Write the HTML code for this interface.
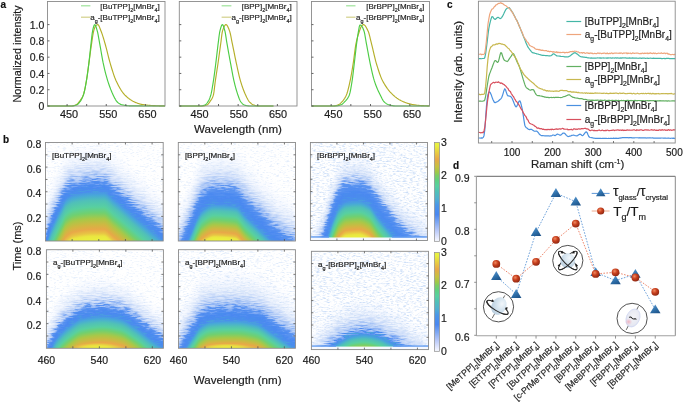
<!DOCTYPE html><html><head><meta charset="utf-8"><style>html,body{margin:0;padding:0;background:#fff;overflow:hidden}svg{display:block;will-change:transform}</style></head><body>
<svg width="685" height="402" viewBox="0 0 685 402" font-family="'Liberation Sans', sans-serif"><style>text{stroke:#1a1a1a;stroke-width:0.18px;paint-order:stroke}</style>
<rect width="685" height="402" fill="#fff"/>
<text x="0.5" y="7.5" font-size="10" font-weight="bold" fill="#111">a</text>
<text x="3.1" y="143" font-size="10" font-weight="bold" fill="#111">b</text>
<text x="447" y="8" font-size="10" font-weight="bold" fill="#111">c</text>
<text x="453" y="168.5" font-size="10" font-weight="bold" fill="#111">d</text>
<path d="M47.5 106 L47.99 106 L48.48 106 L48.97 106 L49.47 106 L49.96 106 L50.45 106 L50.94 106 L51.43 106 L51.92 106 L52.42 106 L52.91 106 L53.4 106 L53.89 106 L54.38 106 L54.87 106 L55.37 106 L55.86 106 L56.35 106 L56.84 106 L57.33 106 L57.82 106 L58.32 106 L58.81 106 L59.3 106 L59.79 106 L60.28 106 L60.77 106 L61.27 106 L61.76 106 L62.25 106 L62.74 106 L63.23 106 L63.72 106 L64.22 106 L64.71 106 L65.2 106 L65.69 106 L66.18 106 L66.67 106 L67.17 106 L67.66 106 L68.15 106 L68.64 106 L69.13 106 L69.62 106 L70.12 106 L70.61 106 L71.1 106 L71.59 105.98 L72.08 105.93 L72.57 105.86 L73.06 105.76 L73.56 105.64 L74.05 105.5 L74.54 105.35 L75.03 105.18 L75.52 105 L76.01 104.81 L76.51 104.57 L77 104.23 L77.49 103.79 L77.98 103.27 L78.47 102.7 L78.96 102.08 L79.46 101.44 L79.95 100.79 L80.44 100.13 L80.93 99.44 L81.42 98.68 L81.91 97.85 L82.41 96.92 L82.9 95.87 L83.39 94.67 L83.88 93.18 L84.37 91.26 L84.86 89.01 L85.36 86.5 L85.85 83.83 L86.34 81.07 L86.83 78.1 L87.32 74.75 L87.81 71.15 L88.31 67.48 L88.8 63.89 L89.29 60.31 L89.78 56.65 L90.27 52.97 L90.76 49.35 L91.26 45.86 L91.75 42.56 L92.24 39.23 L92.73 35.96 L93.22 33.08 L93.71 30.9 L94.21 29.19 L94.7 27.7 L95.19 26.54 L95.68 25.82 L96.17 25.37 L96.66 25 L97.15 24.74 L97.65 24.61 L98.14 24.73 L98.63 25.3 L99.12 26.22 L99.61 27.38 L100.1 28.68 L100.6 30 L101.09 31.24 L101.58 32.51 L102.07 33.89 L102.56 35.36 L103.05 36.91 L103.55 38.51 L104.04 40.15 L104.53 41.81 L105.02 43.48 L105.51 45.23 L106 47.07 L106.5 48.97 L106.99 50.92 L107.48 52.9 L107.97 54.87 L108.46 56.84 L108.95 58.76 L109.45 60.62 L109.94 62.41 L110.43 64.09 L110.92 65.72 L111.41 67.34 L111.9 68.96 L112.4 70.54 L112.89 72.1 L113.38 73.61 L113.87 75.07 L114.36 76.47 L114.85 77.8 L115.35 79.05 L115.84 80.22 L116.33 81.29 L116.82 82.31 L117.31 83.31 L117.8 84.28 L118.29 85.23 L118.79 86.15 L119.28 87.04 L119.77 87.91 L120.26 88.74 L120.75 89.55 L121.24 90.32 L121.74 91.06 L122.23 91.77 L122.72 92.44 L123.21 93.09 L123.7 93.69 L124.19 94.26 L124.69 94.8 L125.18 95.3 L125.67 95.78 L126.16 96.25 L126.65 96.7 L127.14 97.13 L127.64 97.55 L128.13 97.96 L128.62 98.35 L129.11 98.72 L129.6 99.08 L130.09 99.43 L130.59 99.76 L131.08 100.08 L131.57 100.38 L132.06 100.67 L132.55 100.95 L133.04 101.21 L133.54 101.46 L134.03 101.7 L134.52 101.93 L135.01 102.16 L135.5 102.39 L135.99 102.6 L136.49 102.82 L136.98 103.02 L137.47 103.21 L137.96 103.4 L138.45 103.57 L138.94 103.74 L139.44 103.89 L139.93 104.03 L140.42 104.15 L140.91 104.26 L141.4 104.36 L141.89 104.44 L142.38 104.52 L142.88 104.59 L143.37 104.67 L143.86 104.74 L144.35 104.8 L144.84 104.87 L145.33 104.93 L145.83 104.99 L146.32 105.05 L146.81 105.1 L147.3 105.16 L147.79 105.21 L148.28 105.25 L148.78 105.3 L149.27 105.34 L149.76 105.38 L150.25 105.42 L150.74 105.45 L151.23 105.49 L151.73 105.52 L152.22 105.54 L152.71 105.57 L153.2 105.59 L153.69 105.61 L154.18 105.63 L154.68 105.65 L155.17 105.67 L155.66 105.7 L156.15 105.71 L156.64 105.73 L157.13 105.75 L157.63 105.77 L158.12 105.79 L158.61 105.8 L159.1 105.82 L159.59 105.83 L160.08 105.85 L160.58 105.86 L161.07 105.87 L161.56 105.88 L162.05 105.89 L162.54 105.9 L163.03 105.91 L163.53 105.91 L164.02 105.92 L164.51 105.92 L165 105.92" fill="none" stroke="#b4ae28" stroke-width="1.15" stroke-linejoin="round" />
<path d="M47.5 106 L47.99 106 L48.48 106 L48.97 106 L49.47 106 L49.96 106 L50.45 106 L50.94 106 L51.43 106 L51.92 106 L52.42 106 L52.91 106 L53.4 106 L53.89 106 L54.38 106 L54.87 106 L55.37 106 L55.86 106 L56.35 106 L56.84 106 L57.33 106 L57.82 106 L58.32 106 L58.81 106 L59.3 106 L59.79 106 L60.28 106 L60.77 106 L61.27 106 L61.76 106 L62.25 106 L62.74 106 L63.23 106 L63.72 106 L64.22 106 L64.71 106 L65.2 106 L65.69 106 L66.18 106 L66.67 106 L67.17 106 L67.66 106 L68.15 106 L68.64 106 L69.13 106 L69.62 106 L70.12 106 L70.61 106 L71.1 106 L71.59 106 L72.08 105.99 L72.57 105.96 L73.06 105.9 L73.56 105.82 L74.05 105.72 L74.54 105.59 L75.03 105.45 L75.52 105.29 L76.01 105.11 L76.51 104.93 L77 104.73 L77.49 104.44 L77.98 104.04 L78.47 103.56 L78.96 103 L79.46 102.39 L79.95 101.74 L80.44 101.06 L80.93 100.33 L81.42 99.52 L81.91 98.6 L82.41 97.56 L82.9 96.39 L83.39 95.09 L83.88 93.5 L84.37 91.55 L84.86 89.28 L85.36 86.77 L85.85 84.09 L86.34 81.32 L86.83 78.36 L87.32 75.07 L87.81 71.52 L88.31 67.76 L88.8 63.87 L89.29 59.68 L89.78 55.13 L90.27 50.46 L90.76 45.89 L91.26 41.57 L91.75 37.08 L92.24 33.04 L92.73 30.35 L93.22 28.21 L93.71 26.37 L94.21 25.08 L94.7 24.6 L95.19 24.95 L95.68 25.9 L96.17 27.27 L96.66 28.89 L97.15 30.6 L97.65 32.45 L98.14 34.83 L98.63 37.54 L99.12 40.38 L99.61 43.11 L100.1 45.81 L100.6 48.63 L101.09 51.5 L101.58 54.37 L102.07 57.18 L102.56 59.87 L103.05 62.4 L103.55 64.7 L104.04 66.9 L104.53 69.01 L105.02 71.06 L105.51 73.02 L106 74.9 L106.5 76.71 L106.99 78.43 L107.48 80.06 L107.97 81.61 L108.46 83.11 L108.95 84.55 L109.45 85.95 L109.94 87.31 L110.43 88.61 L110.92 89.87 L111.41 91.07 L111.9 92.23 L112.4 93.34 L112.89 94.4 L113.38 95.41 L113.87 96.42 L114.36 97.43 L114.85 98.39 L115.35 99.31 L115.84 100.15 L116.33 100.89 L116.82 101.52 L117.31 102.02 L117.8 102.44 L118.29 102.85 L118.79 103.22 L119.28 103.56 L119.77 103.87 L120.26 104.15 L120.75 104.38 L121.24 104.58 L121.74 104.73 L122.23 104.85 L122.72 104.96 L123.21 105.06 L123.7 105.16 L124.19 105.26 L124.69 105.35 L125.18 105.43 L125.67 105.5 L126.16 105.57 L126.65 105.63 L127.14 105.69 L127.64 105.73 L128.13 105.77 L128.62 105.8 L129.11 105.82 L129.6 105.84 L130.09 105.84 L130.59 105.85 L131.08 105.85 L131.57 105.86 L132.06 105.86 L132.55 105.87 L133.04 105.87 L133.54 105.88 L134.03 105.88 L134.52 105.89 L135.01 105.89 L135.5 105.89 L135.99 105.9 L136.49 105.9 L136.98 105.91 L137.47 105.91 L137.96 105.91 L138.45 105.92 L138.94 105.92 L139.44 105.92 L139.93 105.93 L140.42 105.93 L140.91 105.93 L141.4 105.94 L141.89 105.94 L142.38 105.94 L142.88 105.95 L143.37 105.95 L143.86 105.95 L144.35 105.95 L144.84 105.96 L145.33 105.96 L145.83 105.96 L146.32 105.96 L146.81 105.97 L147.3 105.97 L147.79 105.97 L148.28 105.97 L148.78 105.97 L149.27 105.97 L149.76 105.98 L150.25 105.98 L150.74 105.98 L151.23 105.98 L151.73 105.98 L152.22 105.98 L152.71 105.99 L153.2 105.99 L153.69 105.99 L154.18 105.99 L154.68 105.99 L155.17 105.99 L155.66 105.99 L156.15 105.99 L156.64 105.99 L157.13 105.99 L157.63 106 L158.12 106 L158.61 106 L159.1 106 L159.59 106 L160.08 106 L160.58 106 L161.07 106 L161.56 106 L162.05 106 L162.54 106 L163.03 106 L163.53 106 L164.02 106 L164.51 106 L165 106" fill="none" stroke="#4ccc44" stroke-width="1.15" stroke-linejoin="round" />
<rect x="47.5" y="1.5" width="117.5" height="104.5" fill="none" stroke="#8a8a8a" stroke-width="0.9"/>
<line x1="47.5" y1="106" x2="49.5" y2="106" stroke="#555" stroke-width="0.9"/>
<line x1="47.5" y1="89.72" x2="49.5" y2="89.72" stroke="#555" stroke-width="0.9"/>
<line x1="47.5" y1="73.44" x2="49.5" y2="73.44" stroke="#555" stroke-width="0.9"/>
<line x1="47.5" y1="57.16" x2="49.5" y2="57.16" stroke="#555" stroke-width="0.9"/>
<line x1="47.5" y1="40.88" x2="49.5" y2="40.88" stroke="#555" stroke-width="0.9"/>
<line x1="47.5" y1="24.6" x2="49.5" y2="24.6" stroke="#555" stroke-width="0.9"/>
<line x1="67.08" y1="106" x2="67.08" y2="104" stroke="#555" stroke-width="0.9"/>
<line x1="86.67" y1="106" x2="86.67" y2="104" stroke="#555" stroke-width="0.9"/>
<line x1="106.25" y1="106" x2="106.25" y2="104" stroke="#555" stroke-width="0.9"/>
<line x1="125.83" y1="106" x2="125.83" y2="104" stroke="#555" stroke-width="0.9"/>
<line x1="145.42" y1="106" x2="145.42" y2="104" stroke="#555" stroke-width="0.9"/>
<text x="69.08" y="117.6" font-size="10.9" text-anchor="middle" fill="#1a1a1a">450</text>
<text x="108.25" y="117.6" font-size="10.9" text-anchor="middle" fill="#1a1a1a">550</text>
<text x="147.42" y="117.6" font-size="10.9" text-anchor="middle" fill="#1a1a1a">650</text>
<text x="159.8" y="9.3" font-size="8" text-anchor="end" fill="#222" ><tspan>[BuTPP]</tspan><tspan dy="2.72" font-size="5.44">2</tspan><tspan dy="-2.72">[MnBr</tspan><tspan dy="2.72" font-size="5.44">4</tspan><tspan dy="-2.72">]</tspan></text>
<text x="159.8" y="20.3" font-size="8" text-anchor="end" fill="#222" ><tspan>a</tspan><tspan dy="2.72" font-size="5.44">g</tspan><tspan dy="-2.72">-[BuTPP]</tspan><tspan dy="2.72" font-size="5.44">2</tspan><tspan dy="-2.72">[MnBr</tspan><tspan dy="2.72" font-size="5.44">4</tspan><tspan dy="-2.72">]</tspan></text>
<path d="M179.3 106 L179.69 106 L180.09 106 L180.48 106 L180.88 106 L181.27 106 L181.66 106 L182.06 106 L182.45 106 L182.85 106 L183.24 106 L183.63 106 L184.03 106 L184.42 106 L184.82 106 L185.21 106 L185.6 106 L186 106 L186.39 106 L186.79 106 L187.18 106 L187.57 106 L187.97 106 L188.36 106 L188.76 106 L189.15 106 L189.54 106 L189.94 106 L190.33 106 L190.73 106 L191.12 106 L191.51 106 L191.91 106 L192.3 106 L192.7 106 L193.09 106 L193.48 106 L193.88 106 L194.27 106 L194.67 106 L195.06 106 L195.45 106 L195.85 106 L196.24 106 L196.63 106 L197.03 106 L197.42 106 L197.82 106 L198.21 106 L198.6 106 L199 106 L199.39 106 L199.79 106 L200.18 106 L200.57 106 L200.97 106 L201.36 106 L201.76 106 L202.15 106 L202.54 106 L202.94 106 L203.33 105.98 L203.73 105.93 L204.12 105.87 L204.51 105.78 L204.91 105.67 L205.3 105.55 L205.7 105.4 L206.09 105.25 L206.48 105.08 L206.88 104.91 L207.27 104.72 L207.67 104.45 L208.06 104.1 L208.45 103.67 L208.85 103.18 L209.24 102.65 L209.64 102.08 L210.03 101.51 L210.42 100.93 L210.82 100.36 L211.21 99.78 L211.61 99.16 L212 98.47 L212.39 97.68 L212.79 96.75 L213.18 95.67 L213.58 94.28 L213.97 91.91 L214.36 88.82 L214.76 85.44 L215.15 82.21 L215.55 79.44 L215.94 76.82 L216.33 74.27 L216.73 71.74 L217.12 69.21 L217.52 66.63 L217.91 63.97 L218.3 61.22 L218.7 58.41 L219.09 55.54 L219.49 52.66 L219.88 49.76 L220.27 46.87 L220.67 44.01 L221.06 41.07 L221.46 37.79 L221.85 34.63 L222.24 32.1 L222.64 30.59 L223.03 29.42 L223.43 28.34 L223.82 27.36 L224.21 26.5 L224.61 25.79 L225 25.22 L225.4 24.83 L225.79 24.63 L226.18 24.63 L226.58 24.85 L226.97 25.26 L227.36 25.84 L227.76 26.56 L228.15 27.4 L228.55 28.32 L228.94 29.31 L229.33 30.34 L229.73 31.4 L230.12 32.79 L230.52 34.5 L230.91 36.43 L231.3 38.49 L231.7 40.56 L232.09 42.55 L232.49 44.43 L232.88 46.34 L233.27 48.28 L233.67 50.23 L234.06 52.2 L234.46 54.16 L234.85 56.12 L235.24 58.05 L235.64 59.96 L236.03 61.83 L236.43 63.65 L236.82 65.45 L237.21 67.25 L237.61 69.06 L238 70.85 L238.4 72.62 L238.79 74.34 L239.18 76.01 L239.58 77.61 L239.97 79.12 L240.37 80.54 L240.76 81.86 L241.15 83.15 L241.55 84.39 L241.94 85.6 L242.34 86.77 L242.73 87.9 L243.12 88.99 L243.52 90.05 L243.91 91.06 L244.31 92.05 L244.7 92.99 L245.09 93.89 L245.49 94.76 L245.88 95.6 L246.28 96.43 L246.67 97.25 L247.06 98.05 L247.46 98.81 L247.85 99.53 L248.25 100.2 L248.64 100.81 L249.03 101.36 L249.43 101.82 L249.82 102.23 L250.22 102.61 L250.61 102.97 L251 103.32 L251.4 103.64 L251.79 103.93 L252.19 104.2 L252.58 104.45 L252.97 104.66 L253.37 104.84 L253.76 105 L254.16 105.12 L254.55 105.25 L254.94 105.37 L255.34 105.48 L255.73 105.59 L256.13 105.69 L256.52 105.77 L256.91 105.85 L257.31 105.91 L257.7 105.96 L258.09 105.99 L258.49 106 L258.88 106 L259.28 106 L259.67 106 L260.06 106 L260.46 106 L260.85 106 L261.25 106 L261.64 106 L262.03 106 L262.43 106 L262.82 106 L263.22 106 L263.61 106 L264 106 L264.4 106 L264.79 106 L265.19 106 L265.58 106 L265.97 106 L266.37 106 L266.76 106 L267.16 106 L267.55 106 L267.94 106 L268.34 106 L268.73 106 L269.13 106 L269.52 106 L269.91 106 L270.31 106 L270.7 106 L271.1 106 L271.49 106 L271.88 106 L272.28 106 L272.67 106 L273.07 106 L273.46 106" fill="none" stroke="#b4ae28" stroke-width="1.15" stroke-linejoin="round" />
<path d="M179.3 106 L179.69 106 L180.09 106 L180.48 106 L180.88 106 L181.27 106 L181.66 106 L182.06 106 L182.45 106 L182.85 106 L183.24 106 L183.63 106 L184.03 106 L184.42 106 L184.82 106 L185.21 106 L185.6 106 L186 106 L186.39 106 L186.79 106 L187.18 106 L187.57 106 L187.97 106 L188.36 106 L188.76 106 L189.15 106 L189.54 106 L189.94 106 L190.33 106 L190.73 106 L191.12 106 L191.51 106 L191.91 106 L192.3 106 L192.7 106 L193.09 106 L193.48 106 L193.88 106 L194.27 106 L194.67 106 L195.06 106 L195.45 106 L195.85 106 L196.24 106 L196.63 106 L197.03 106 L197.42 106 L197.82 106 L198.21 106 L198.6 106 L199 106 L199.39 106 L199.79 106 L200.18 106 L200.57 106 L200.97 106 L201.36 105.98 L201.76 105.94 L202.15 105.87 L202.54 105.78 L202.94 105.67 L203.33 105.55 L203.73 105.41 L204.12 105.25 L204.51 105.09 L204.91 104.91 L205.3 104.72 L205.7 104.47 L206.09 104.13 L206.48 103.72 L206.88 103.25 L207.27 102.72 L207.67 102.15 L208.06 101.55 L208.45 100.92 L208.85 100.2 L209.24 99.38 L209.64 98.44 L210.03 97.4 L210.42 96.24 L210.82 94.96 L211.21 93.44 L211.61 91.6 L212 89.5 L212.39 87.21 L212.79 84.81 L213.18 82.34 L213.58 79.85 L213.97 77.18 L214.36 74.35 L214.76 71.39 L215.15 68.35 L215.55 65.27 L215.94 62.15 L216.33 58.88 L216.73 55.49 L217.12 52.07 L217.52 48.7 L217.91 45.43 L218.3 42.35 L218.7 39.16 L219.09 36.01 L219.49 33.22 L219.88 31.14 L220.27 29.6 L220.67 28.15 L221.06 26.85 L221.46 25.77 L221.85 25.01 L222.24 24.63 L222.64 24.7 L223.03 25.22 L223.43 26.09 L223.82 27.24 L224.21 28.57 L224.61 30 L225 31.47 L225.4 33.42 L225.79 35.82 L226.18 38.45 L226.58 41.08 L226.97 43.46 L227.36 45.72 L227.76 47.95 L228.15 50.16 L228.55 52.35 L228.94 54.52 L229.33 56.67 L229.73 58.81 L230.12 60.93 L230.52 63.04 L230.91 65.15 L231.3 67.29 L231.7 69.45 L232.09 71.6 L232.49 73.71 L232.88 75.77 L233.27 77.73 L233.67 79.59 L234.06 81.31 L234.46 82.95 L234.85 84.54 L235.24 86.09 L235.64 87.58 L236.03 89.01 L236.43 90.39 L236.82 91.7 L237.21 92.95 L237.61 94.14 L238 95.26 L238.4 96.35 L238.79 97.43 L239.18 98.47 L239.58 99.45 L239.97 100.33 L240.37 101.11 L240.76 101.74 L241.15 102.26 L241.55 102.73 L241.94 103.18 L242.34 103.6 L242.73 103.97 L243.12 104.3 L243.52 104.58 L243.91 104.81 L244.31 104.98 L244.7 105.11 L245.09 105.22 L245.49 105.33 L245.88 105.44 L246.28 105.53 L246.67 105.62 L247.06 105.7 L247.46 105.78 L247.85 105.84 L248.25 105.89 L248.64 105.94 L249.03 105.97 L249.43 105.99 L249.82 106 L250.22 106 L250.61 106 L251 106 L251.4 106 L251.79 106 L252.19 106 L252.58 106 L252.97 106 L253.37 106 L253.76 106 L254.16 106 L254.55 106 L254.94 106 L255.34 106 L255.73 106 L256.13 106 L256.52 106 L256.91 106 L257.31 106 L257.7 106 L258.09 106 L258.49 106 L258.88 106 L259.28 106 L259.67 106 L260.06 106 L260.46 106 L260.85 106 L261.25 106 L261.64 106 L262.03 106 L262.43 106 L262.82 106 L263.22 106 L263.61 106 L264 106 L264.4 106 L264.79 106 L265.19 106 L265.58 106 L265.97 106 L266.37 106 L266.76 106 L267.16 106 L267.55 106 L267.94 106 L268.34 106 L268.73 106 L269.13 106 L269.52 106 L269.91 106 L270.31 106 L270.7 106 L271.1 106 L271.49 106 L271.88 106 L272.28 106 L272.67 106 L273.07 106 L273.46 106" fill="none" stroke="#4ccc44" stroke-width="1.15" stroke-linejoin="round" />
<rect x="179.3" y="1.5" width="117.7" height="104.5" fill="none" stroke="#8a8a8a" stroke-width="0.9"/>
<line x1="179.3" y1="106" x2="181.3" y2="106" stroke="#555" stroke-width="0.9"/>
<line x1="179.3" y1="89.72" x2="181.3" y2="89.72" stroke="#555" stroke-width="0.9"/>
<line x1="179.3" y1="73.44" x2="181.3" y2="73.44" stroke="#555" stroke-width="0.9"/>
<line x1="179.3" y1="57.16" x2="181.3" y2="57.16" stroke="#555" stroke-width="0.9"/>
<line x1="179.3" y1="40.88" x2="181.3" y2="40.88" stroke="#555" stroke-width="0.9"/>
<line x1="179.3" y1="24.6" x2="181.3" y2="24.6" stroke="#555" stroke-width="0.9"/>
<line x1="198.92" y1="106" x2="198.92" y2="104" stroke="#555" stroke-width="0.9"/>
<line x1="218.53" y1="106" x2="218.53" y2="104" stroke="#555" stroke-width="0.9"/>
<line x1="238.15" y1="106" x2="238.15" y2="104" stroke="#555" stroke-width="0.9"/>
<line x1="257.77" y1="106" x2="257.77" y2="104" stroke="#555" stroke-width="0.9"/>
<line x1="277.38" y1="106" x2="277.38" y2="104" stroke="#555" stroke-width="0.9"/>
<text x="199.52" y="117.6" font-size="10.9" text-anchor="middle" fill="#1a1a1a">450</text>
<text x="238.75" y="117.6" font-size="10.9" text-anchor="middle" fill="#1a1a1a">550</text>
<text x="277.98" y="117.6" font-size="10.9" text-anchor="middle" fill="#1a1a1a">650</text>
<text x="291.8" y="9.3" font-size="8" text-anchor="end" fill="#222" ><tspan>[BPP]</tspan><tspan dy="2.72" font-size="5.44">2</tspan><tspan dy="-2.72">[MnBr</tspan><tspan dy="2.72" font-size="5.44">4</tspan><tspan dy="-2.72">]</tspan></text>
<text x="291.8" y="20.3" font-size="8" text-anchor="end" fill="#222" ><tspan>a</tspan><tspan dy="2.72" font-size="5.44">g</tspan><tspan dy="-2.72">-[BPP]</tspan><tspan dy="2.72" font-size="5.44">2</tspan><tspan dy="-2.72">[MnBr</tspan><tspan dy="2.72" font-size="5.44">4</tspan><tspan dy="-2.72">]</tspan></text>
<path d="M311.5 106 L311.99 106 L312.49 106 L312.98 106 L313.47 106 L313.97 106 L314.46 106 L314.96 106 L315.45 106 L315.94 106 L316.44 106 L316.93 106 L317.42 106 L317.92 106 L318.41 106 L318.91 106 L319.4 106 L319.89 106 L320.39 106 L320.88 106 L321.37 106 L321.87 106 L322.36 106 L322.86 106 L323.35 106 L323.84 106 L324.34 106 L324.83 106 L325.32 106 L325.82 106 L326.31 106 L326.81 106 L327.3 106 L327.79 106 L328.29 106 L328.78 106 L329.27 106 L329.77 106 L330.26 106 L330.76 106 L331.25 106 L331.74 106 L332.24 106 L332.73 106 L333.22 106 L333.72 105.98 L334.21 105.93 L334.71 105.85 L335.2 105.75 L335.69 105.63 L336.19 105.49 L336.68 105.34 L337.17 105.17 L337.67 104.99 L338.16 104.81 L338.65 104.6 L339.15 104.32 L339.64 103.98 L340.14 103.58 L340.63 103.14 L341.12 102.67 L341.62 102.16 L342.11 101.63 L342.6 101.08 L343.1 100.51 L343.59 99.88 L344.09 99.2 L344.58 98.45 L345.07 97.63 L345.57 96.72 L346.06 95.73 L346.55 94.62 L347.05 93.27 L347.54 91.67 L348.04 89.86 L348.53 87.89 L349.02 85.78 L349.52 83.59 L350.01 81.35 L350.5 79.02 L351 76.48 L351.49 73.76 L351.99 70.9 L352.48 67.93 L352.97 64.88 L353.47 61.66 L353.96 58 L354.45 54.15 L354.95 50.34 L355.44 46.82 L355.94 43.85 L356.43 41.51 L356.92 39.43 L357.42 37.55 L357.91 35.82 L358.4 34.23 L358.9 32.73 L359.39 31.3 L359.88 29.88 L360.38 28.48 L360.87 27.25 L361.37 26.34 L361.86 25.73 L362.35 25.19 L362.85 24.79 L363.34 24.6 L363.83 24.67 L364.33 24.94 L364.82 25.38 L365.32 25.97 L365.81 26.68 L366.3 27.51 L366.8 28.41 L367.29 29.38 L367.78 30.38 L368.28 31.43 L368.77 32.81 L369.27 34.53 L369.76 36.48 L370.25 38.55 L370.75 40.65 L371.24 42.66 L371.73 44.61 L372.23 46.63 L372.72 48.71 L373.22 50.82 L373.71 52.95 L374.2 55.06 L374.7 57.13 L375.19 59.13 L375.68 61.04 L376.18 62.84 L376.67 64.5 L377.17 66.12 L377.66 67.7 L378.15 69.26 L378.65 70.79 L379.14 72.26 L379.63 73.69 L380.13 75.06 L380.62 76.37 L381.12 77.61 L381.61 78.77 L382.1 79.84 L382.6 80.83 L383.09 81.74 L383.58 82.62 L384.08 83.48 L384.57 84.31 L385.06 85.11 L385.56 85.89 L386.05 86.64 L386.55 87.37 L387.04 88.08 L387.53 88.76 L388.03 89.42 L388.52 90.06 L389.01 90.67 L389.51 91.26 L390 91.84 L390.5 92.39 L390.99 92.92 L391.48 93.44 L391.98 93.94 L392.47 94.41 L392.96 94.87 L393.46 95.32 L393.95 95.75 L394.45 96.17 L394.94 96.59 L395.43 96.99 L395.93 97.38 L396.42 97.75 L396.91 98.12 L397.41 98.47 L397.9 98.81 L398.4 99.14 L398.89 99.46 L399.38 99.76 L399.88 100.05 L400.37 100.32 L400.86 100.58 L401.36 100.83 L401.85 101.06 L402.35 101.29 L402.84 101.5 L403.33 101.71 L403.83 101.92 L404.32 102.12 L404.81 102.32 L405.31 102.51 L405.8 102.69 L406.29 102.87 L406.79 103.04 L407.28 103.21 L407.78 103.37 L408.27 103.52 L408.76 103.66 L409.26 103.8 L409.75 103.93 L410.24 104.05 L410.74 104.16 L411.23 104.26 L411.73 104.36 L412.22 104.45 L412.71 104.53 L413.21 104.62 L413.7 104.7 L414.19 104.78 L414.69 104.86 L415.18 104.93 L415.68 105 L416.17 105.07 L416.66 105.14 L417.16 105.2 L417.65 105.26 L418.14 105.31 L418.64 105.37 L419.13 105.41 L419.63 105.46 L420.12 105.5 L420.61 105.53 L421.11 105.56 L421.6 105.59 L422.09 105.62 L422.59 105.64 L423.08 105.66 L423.58 105.68 L424.07 105.71 L424.56 105.73 L425.06 105.74 L425.55 105.76 L426.04 105.78 L426.54 105.79 L427.03 105.81 L427.53 105.82 L428.02 105.83 L428.51 105.83 L429.01 105.84 L429.5 105.84" fill="none" stroke="#b4ae28" stroke-width="1.15" stroke-linejoin="round" />
<path d="M311.5 106 L311.99 106 L312.49 106 L312.98 106 L313.47 106 L313.97 106 L314.46 106 L314.96 106 L315.45 106 L315.94 106 L316.44 106 L316.93 106 L317.42 106 L317.92 106 L318.41 106 L318.91 106 L319.4 106 L319.89 106 L320.39 106 L320.88 106 L321.37 106 L321.87 106 L322.36 106 L322.86 106 L323.35 106 L323.84 106 L324.34 106 L324.83 106 L325.32 106 L325.82 106 L326.31 106 L326.81 106 L327.3 106 L327.79 106 L328.29 106 L328.78 106 L329.27 106 L329.77 106 L330.26 106 L330.76 106 L331.25 106 L331.74 106 L332.24 106 L332.73 106 L333.22 106 L333.72 106 L334.21 106 L334.71 106 L335.2 106 L335.69 105.98 L336.19 105.95 L336.68 105.89 L337.17 105.82 L337.67 105.72 L338.16 105.62 L338.65 105.5 L339.15 105.36 L339.64 105.22 L340.14 105.07 L340.63 104.9 L341.12 104.73 L341.62 104.5 L342.11 104.2 L342.6 103.83 L343.1 103.41 L343.59 102.95 L344.09 102.45 L344.58 101.93 L345.07 101.39 L345.57 100.85 L346.06 100.3 L346.55 99.72 L347.05 99.09 L347.54 98.39 L348.04 97.6 L348.53 96.69 L349.02 95.66 L349.52 94.42 L350.01 92.63 L350.5 90.34 L351 87.66 L351.49 84.73 L351.99 81.68 L352.48 78.38 L352.97 74.54 L353.47 70.37 L353.96 66.14 L354.45 62.01 L354.95 57.72 L355.44 53.35 L355.94 49.07 L356.43 45.02 L356.92 41.32 L357.42 37.78 L357.91 34.48 L358.4 31.56 L358.9 28.78 L359.39 26.16 L359.88 25.01 L360.38 25.1 L360.87 25.32 L361.37 25.63 L361.86 26.2 L362.35 27.02 L362.85 28.03 L363.34 29.22 L363.83 30.54 L364.33 32.14 L364.82 34.48 L365.32 37.31 L365.81 40.28 L366.3 43.06 L366.8 45.68 L367.29 48.34 L367.78 51.02 L368.28 53.7 L368.77 56.33 L369.27 58.91 L369.76 61.39 L370.25 63.76 L370.75 66.06 L371.24 68.34 L371.73 70.58 L372.23 72.77 L372.72 74.87 L373.22 76.86 L373.71 78.71 L374.2 80.4 L374.7 81.93 L375.19 83.38 L375.68 84.75 L376.18 86.06 L376.67 87.3 L377.17 88.5 L377.66 89.64 L378.15 90.74 L378.65 91.81 L379.14 92.84 L379.63 93.85 L380.13 94.84 L380.62 95.82 L381.12 96.82 L381.61 97.8 L382.1 98.75 L382.6 99.65 L383.09 100.46 L383.58 101.17 L384.08 101.75 L384.57 102.2 L385.06 102.62 L385.56 103.02 L386.05 103.39 L386.55 103.73 L387.04 104.03 L387.53 104.31 L388.03 104.55 L388.52 104.76 L389.01 104.92 L389.51 105.05 L390 105.17 L390.5 105.28 L390.99 105.39 L391.48 105.49 L391.98 105.59 L392.47 105.67 L392.96 105.75 L393.46 105.82 L393.95 105.88 L394.45 105.93 L394.94 105.96 L395.43 105.99 L395.93 106 L396.42 106 L396.91 106 L397.41 106 L397.9 106 L398.4 106 L398.89 106 L399.38 106 L399.88 106 L400.37 106 L400.86 106 L401.36 106 L401.85 106 L402.35 106 L402.84 106 L403.33 106 L403.83 106 L404.32 106 L404.81 106 L405.31 106 L405.8 106 L406.29 106 L406.79 106 L407.28 106 L407.78 106 L408.27 106 L408.76 106 L409.26 106 L409.75 106 L410.24 106 L410.74 106 L411.23 106 L411.73 106 L412.22 106 L412.71 106 L413.21 106 L413.7 106 L414.19 106 L414.69 106 L415.18 106 L415.68 106 L416.17 106 L416.66 106 L417.16 106 L417.65 106 L418.14 106 L418.64 106 L419.13 106 L419.63 106 L420.12 106 L420.61 106 L421.11 106 L421.6 106 L422.09 106 L422.59 106 L423.08 106 L423.58 106 L424.07 106 L424.56 106 L425.06 106 L425.55 106 L426.04 106 L426.54 106 L427.03 106 L427.53 106 L428.02 106 L428.51 106 L429.01 106 L429.5 106" fill="none" stroke="#4ccc44" stroke-width="1.15" stroke-linejoin="round" />
<rect x="311.5" y="1.5" width="118" height="104.5" fill="none" stroke="#8a8a8a" stroke-width="0.9"/>
<line x1="311.5" y1="106" x2="313.5" y2="106" stroke="#555" stroke-width="0.9"/>
<line x1="311.5" y1="89.72" x2="313.5" y2="89.72" stroke="#555" stroke-width="0.9"/>
<line x1="311.5" y1="73.44" x2="313.5" y2="73.44" stroke="#555" stroke-width="0.9"/>
<line x1="311.5" y1="57.16" x2="313.5" y2="57.16" stroke="#555" stroke-width="0.9"/>
<line x1="311.5" y1="40.88" x2="313.5" y2="40.88" stroke="#555" stroke-width="0.9"/>
<line x1="311.5" y1="24.6" x2="313.5" y2="24.6" stroke="#555" stroke-width="0.9"/>
<line x1="331.17" y1="106" x2="331.17" y2="104" stroke="#555" stroke-width="0.9"/>
<line x1="350.83" y1="106" x2="350.83" y2="104" stroke="#555" stroke-width="0.9"/>
<line x1="370.5" y1="106" x2="370.5" y2="104" stroke="#555" stroke-width="0.9"/>
<line x1="390.17" y1="106" x2="390.17" y2="104" stroke="#555" stroke-width="0.9"/>
<line x1="409.83" y1="106" x2="409.83" y2="104" stroke="#555" stroke-width="0.9"/>
<text x="333.37" y="117.6" font-size="10.9" text-anchor="middle" fill="#1a1a1a">450</text>
<text x="372.7" y="117.6" font-size="10.9" text-anchor="middle" fill="#1a1a1a">550</text>
<text x="412.03" y="117.6" font-size="10.9" text-anchor="middle" fill="#1a1a1a">650</text>
<text x="424.3" y="9.3" font-size="8" text-anchor="end" fill="#222" ><tspan>[BrBPP]</tspan><tspan dy="2.72" font-size="5.44">2</tspan><tspan dy="-2.72">[MnBr</tspan><tspan dy="2.72" font-size="5.44">4</tspan><tspan dy="-2.72">]</tspan></text>
<text x="424.3" y="20.3" font-size="8" text-anchor="end" fill="#222" ><tspan>a</tspan><tspan dy="2.72" font-size="5.44">g</tspan><tspan dy="-2.72">-[BrBPP]</tspan><tspan dy="2.72" font-size="5.44">2</tspan><tspan dy="-2.72">[MnBr</tspan><tspan dy="2.72" font-size="5.44">4</tspan><tspan dy="-2.72">]</tspan></text>
<line x1="81" y1="5.8" x2="90.4" y2="5.8" stroke="#9ee29a" stroke-width="1.2"/>
<line x1="81" y1="17.2" x2="90.4" y2="17.2" stroke="#d2d08a" stroke-width="1.2"/>
<line x1="221.6" y1="5.8" x2="231.4" y2="5.8" stroke="#9ee29a" stroke-width="1.2"/>
<line x1="221.6" y1="17.2" x2="231.4" y2="17.2" stroke="#d2d08a" stroke-width="1.2"/>
<line x1="346.1" y1="5.8" x2="355.5" y2="5.8" stroke="#9ee29a" stroke-width="1.2"/>
<line x1="346.1" y1="17.2" x2="355.5" y2="17.2" stroke="#d2d08a" stroke-width="1.2"/>
<text x="44.3" y="110.2" font-size="10.5" text-anchor="end" fill="#1a1a1a">0</text>
<text x="44.3" y="93.92" font-size="10.5" text-anchor="end" fill="#1a1a1a">0.2</text>
<text x="44.3" y="77.64" font-size="10.5" text-anchor="end" fill="#1a1a1a">0.4</text>
<text x="44.3" y="61.36" font-size="10.5" text-anchor="end" fill="#1a1a1a">0.6</text>
<text x="44.3" y="45.08" font-size="10.5" text-anchor="end" fill="#1a1a1a">0.8</text>
<text x="44.3" y="28.8" font-size="10.5" text-anchor="end" fill="#1a1a1a">1.0</text>
<text transform="translate(20.6,54) rotate(-90)" font-size="10.8" text-anchor="middle" fill="#1a1a1a">Normalized intensity</text>
<text x="238" y="132.5" font-size="11.6" text-anchor="middle" fill="#1a1a1a">Wavelength (nm)</text>
<defs>
<linearGradient id="cm0" gradientUnits="userSpaceOnUse" x1="0" y1="213.45" x2="0" y2="310.69"><stop offset="0" stop-color="#ffffff"/><stop offset="0.12" stop-color="#f6f9ff"/><stop offset="0.21" stop-color="#e6eefc"/><stop offset="0.27" stop-color="#d2e0fa"/><stop offset="0.33" stop-color="#b0caf6"/><stop offset="0.37" stop-color="#86aef4"/><stop offset="0.4" stop-color="#5a94f0"/><stop offset="0.44" stop-color="#4a88f0"/><stop offset="0.49" stop-color="#4a90ea"/><stop offset="0.53" stop-color="#48a8d8"/><stop offset="0.58" stop-color="#50c0b8"/><stop offset="0.65" stop-color="#58d0a0"/><stop offset="0.71" stop-color="#70d070"/><stop offset="0.77" stop-color="#a8c848"/><stop offset="0.83" stop-color="#cfb842"/><stop offset="0.88" stop-color="#e8a848"/><stop offset="0.92" stop-color="#e8c444"/><stop offset="0.95" stop-color="#eae640"/><stop offset="1" stop-color="#eaf23e"/></linearGradient>
<clipPath id="hc0"><rect x="45.5" y="142.5" width="117.7" height="98.5"/></clipPath>
<linearGradient id="cm1" gradientUnits="userSpaceOnUse" x1="0" y1="198.71" x2="0" y2="292.3"><stop offset="0" stop-color="#ffffff"/><stop offset="0.13" stop-color="#f6f9ff"/><stop offset="0.24" stop-color="#e6eefc"/><stop offset="0.3" stop-color="#d2e0fa"/><stop offset="0.37" stop-color="#b0caf6"/><stop offset="0.42" stop-color="#86aef4"/><stop offset="0.45" stop-color="#5a94f0"/><stop offset="0.53" stop-color="#4a88f0"/><stop offset="0.61" stop-color="#4a90ea"/><stop offset="0.64" stop-color="#48a8d8"/><stop offset="0.68" stop-color="#50c0b8"/><stop offset="0.73" stop-color="#58d0a0"/><stop offset="0.78" stop-color="#70d070"/><stop offset="0.83" stop-color="#a8c848"/><stop offset="0.87" stop-color="#cfb842"/><stop offset="0.91" stop-color="#e8a848"/><stop offset="0.94" stop-color="#e8c444"/><stop offset="0.96" stop-color="#eae640"/><stop offset="1" stop-color="#eaf23e"/></linearGradient>
<clipPath id="hc1"><rect x="178.3" y="142.5" width="117.2" height="98.5"/></clipPath>
<linearGradient id="cm2" gradientUnits="userSpaceOnUse" x1="0" y1="207.2" x2="0" y2="293"><stop offset="0" stop-color="#ffffff"/><stop offset="0.11" stop-color="#f6f9ff"/><stop offset="0.2" stop-color="#e6eefc"/><stop offset="0.26" stop-color="#d2e0fa"/><stop offset="0.31" stop-color="#b0caf6"/><stop offset="0.35" stop-color="#86aef4"/><stop offset="0.38" stop-color="#5a94f0"/><stop offset="0.47" stop-color="#4a88f0"/><stop offset="0.56" stop-color="#4a90ea"/><stop offset="0.6" stop-color="#48a8d8"/><stop offset="0.64" stop-color="#50c0b8"/><stop offset="0.7" stop-color="#58d0a0"/><stop offset="0.75" stop-color="#70d070"/><stop offset="0.81" stop-color="#a8c848"/><stop offset="0.86" stop-color="#cfb842"/><stop offset="0.9" stop-color="#e8a848"/><stop offset="0.93" stop-color="#e8c444"/><stop offset="0.96" stop-color="#eae640"/><stop offset="1" stop-color="#eaf23e"/></linearGradient>
<clipPath id="hc2"><rect x="310.4" y="142.5" width="117.1" height="98"/></clipPath>
<linearGradient id="cm3" gradientUnits="userSpaceOnUse" x1="0" y1="322.39" x2="0" y2="396.95"><stop offset="0" stop-color="#ffffff"/><stop offset="0.12" stop-color="#f6f9ff"/><stop offset="0.22" stop-color="#e6eefc"/><stop offset="0.29" stop-color="#d2e0fa"/><stop offset="0.35" stop-color="#b0caf6"/><stop offset="0.39" stop-color="#86aef4"/><stop offset="0.42" stop-color="#5a94f0"/><stop offset="0.48" stop-color="#4a88f0"/><stop offset="0.53" stop-color="#4a90ea"/><stop offset="0.57" stop-color="#48a8d8"/><stop offset="0.62" stop-color="#50c0b8"/><stop offset="0.68" stop-color="#58d0a0"/><stop offset="0.73" stop-color="#70d070"/><stop offset="0.79" stop-color="#a8c848"/><stop offset="0.85" stop-color="#cfb842"/><stop offset="0.89" stop-color="#e8a848"/><stop offset="0.93" stop-color="#e8c444"/><stop offset="0.96" stop-color="#eae640"/><stop offset="1" stop-color="#eaf23e"/></linearGradient>
<clipPath id="hc3"><rect x="46.4" y="249.7" width="117" height="98.6"/></clipPath>
<linearGradient id="cm4" gradientUnits="userSpaceOnUse" x1="0" y1="308.13" x2="0" y2="391.8"><stop offset="0" stop-color="#ffffff"/><stop offset="0.15" stop-color="#f6f9ff"/><stop offset="0.27" stop-color="#e6eefc"/><stop offset="0.34" stop-color="#d2e0fa"/><stop offset="0.41" stop-color="#b0caf6"/><stop offset="0.47" stop-color="#86aef4"/><stop offset="0.5" stop-color="#5a94f0"/><stop offset="0.56" stop-color="#4a88f0"/><stop offset="0.63" stop-color="#4a90ea"/><stop offset="0.66" stop-color="#48a8d8"/><stop offset="0.7" stop-color="#50c0b8"/><stop offset="0.74" stop-color="#58d0a0"/><stop offset="0.79" stop-color="#70d070"/><stop offset="0.84" stop-color="#a8c848"/><stop offset="0.88" stop-color="#cfb842"/><stop offset="0.91" stop-color="#e8a848"/><stop offset="0.94" stop-color="#e8c444"/><stop offset="0.97" stop-color="#eae640"/><stop offset="1" stop-color="#eaf23e"/></linearGradient>
<clipPath id="hc4"><rect x="178.5" y="249.7" width="116.9" height="98.6"/></clipPath>
<linearGradient id="cm5" gradientUnits="userSpaceOnUse" x1="0" y1="321.66" x2="0" y2="384.38"><stop offset="0" stop-color="#ffffff"/><stop offset="0.17" stop-color="#f6f9ff"/><stop offset="0.3" stop-color="#e6eefc"/><stop offset="0.38" stop-color="#d2e0fa"/><stop offset="0.47" stop-color="#b0caf6"/><stop offset="0.53" stop-color="#86aef4"/><stop offset="0.57" stop-color="#5a94f0"/><stop offset="0.58" stop-color="#4a88f0"/><stop offset="0.6" stop-color="#4a90ea"/><stop offset="0.64" stop-color="#48a8d8"/><stop offset="0.68" stop-color="#50c0b8"/><stop offset="0.73" stop-color="#58d0a0"/><stop offset="0.77" stop-color="#70d070"/><stop offset="0.82" stop-color="#a8c848"/><stop offset="0.87" stop-color="#cfb842"/><stop offset="0.91" stop-color="#e8a848"/><stop offset="0.94" stop-color="#e8c444"/><stop offset="0.96" stop-color="#eae640"/><stop offset="1" stop-color="#eaf23e"/></linearGradient>
<clipPath id="hc5"><rect x="311.4" y="251.3" width="117.1" height="98.3"/></clipPath>
<filter id="streak0" x="0" y="0" width="1" height="1" color-interpolation-filters="sRGB"><feTurbulence type="fractalNoise" baseFrequency="0.12 0.9" numOctaves="2" seed="5" result="n"/><feColorMatrix in="n" type="matrix" values="0 0 0 0 0.5  3 0 0 0 -1  0 0 0 0 0  0 0 0 0 1" result="m"/><feDisplacementMap in="SourceGraphic" in2="m" scale="8" xChannelSelector="R" yChannelSelector="G" result="d"/><feGaussianBlur in="d" stdDeviation="0.6 0.25" result="d"/><feColorMatrix in="SourceGraphic" type="matrix" values="0 0 0 0 0  0 0 0 0 0  0 0 0 0 0  0 0 14 0 -12.4" result="mk"/><feComposite in="d" in2="mk" operator="in" result="dm"/><feComposite in="dm" in2="SourceGraphic" operator="over" result="r1"/><feTurbulence type="fractalNoise" baseFrequency="0.3 1.2" numOctaves="2" seed="21" result="n2"/><feColorMatrix in="n2" type="matrix" values="0 0 0 0 0.8  0 0 0 0 0.87  0 0 0 0 0.97  1.76 0 0 0 -0.92" result="sp"/><feColorMatrix in="r1" type="matrix" values="0 0 0 0 0  0 0 0 0 0  0 0 0 0 0  5 0 5 0 -8" result="wm"/><feComposite in="sp" in2="wm" operator="in" result="spm"/><feComposite in="spm" in2="r1" operator="over"/></filter>
<filter id="streak1" x="0" y="0" width="1" height="1" color-interpolation-filters="sRGB"><feTurbulence type="fractalNoise" baseFrequency="0.12 0.9" numOctaves="2" seed="6" result="n"/><feColorMatrix in="n" type="matrix" values="0 0 0 0 0.5  3 0 0 0 -1  0 0 0 0 0  0 0 0 0 1" result="m"/><feDisplacementMap in="SourceGraphic" in2="m" scale="8" xChannelSelector="R" yChannelSelector="G" result="d"/><feGaussianBlur in="d" stdDeviation="0.6 0.25" result="d"/><feColorMatrix in="SourceGraphic" type="matrix" values="0 0 0 0 0  0 0 0 0 0  0 0 0 0 0  0 0 14 0 -12.4" result="mk"/><feComposite in="d" in2="mk" operator="in" result="dm"/><feComposite in="dm" in2="SourceGraphic" operator="over" result="r1"/><feTurbulence type="fractalNoise" baseFrequency="0.3 1.2" numOctaves="2" seed="22" result="n2"/><feColorMatrix in="n2" type="matrix" values="0 0 0 0 0.8  0 0 0 0 0.87  0 0 0 0 0.97  1.76 0 0 0 -0.92" result="sp"/><feColorMatrix in="r1" type="matrix" values="0 0 0 0 0  0 0 0 0 0  0 0 0 0 0  5 0 5 0 -8" result="wm"/><feComposite in="sp" in2="wm" operator="in" result="spm"/><feComposite in="spm" in2="r1" operator="over"/></filter>
<filter id="streak2" x="0" y="0" width="1" height="1" color-interpolation-filters="sRGB"><feTurbulence type="fractalNoise" baseFrequency="0.12 0.9" numOctaves="2" seed="7" result="n"/><feColorMatrix in="n" type="matrix" values="0 0 0 0 0.5  3 0 0 0 -1  0 0 0 0 0  0 0 0 0 1" result="m"/><feDisplacementMap in="SourceGraphic" in2="m" scale="8" xChannelSelector="R" yChannelSelector="G" result="d"/><feGaussianBlur in="d" stdDeviation="0.6 0.25" result="d"/><feColorMatrix in="SourceGraphic" type="matrix" values="0 0 0 0 0  0 0 0 0 0  0 0 0 0 0  0 0 14 0 -12.4" result="mk"/><feComposite in="d" in2="mk" operator="in" result="dm"/><feComposite in="dm" in2="SourceGraphic" operator="over" result="r1"/><feTurbulence type="fractalNoise" baseFrequency="0.3 1.2" numOctaves="2" seed="23" result="n2"/><feColorMatrix in="n2" type="matrix" values="0 0 0 0 0.8  0 0 0 0 0.87  0 0 0 0 0.97  2.88 0 0 0 -1.35" result="sp"/><feColorMatrix in="r1" type="matrix" values="0 0 0 0 0  0 0 0 0 0  0 0 0 0 0  5 0 5 0 -8" result="wm"/><feComposite in="sp" in2="wm" operator="in" result="spm"/><feComposite in="spm" in2="r1" operator="over"/></filter>
<filter id="streak3" x="0" y="0" width="1" height="1" color-interpolation-filters="sRGB"><feTurbulence type="fractalNoise" baseFrequency="0.12 0.9" numOctaves="2" seed="8" result="n"/><feColorMatrix in="n" type="matrix" values="0 0 0 0 0.5  3 0 0 0 -1  0 0 0 0 0  0 0 0 0 1" result="m"/><feDisplacementMap in="SourceGraphic" in2="m" scale="8" xChannelSelector="R" yChannelSelector="G" result="d"/><feGaussianBlur in="d" stdDeviation="0.6 0.25" result="d"/><feColorMatrix in="SourceGraphic" type="matrix" values="0 0 0 0 0  0 0 0 0 0  0 0 0 0 0  0 0 14 0 -12.4" result="mk"/><feComposite in="d" in2="mk" operator="in" result="dm"/><feComposite in="dm" in2="SourceGraphic" operator="over" result="r1"/><feTurbulence type="fractalNoise" baseFrequency="0.3 1.2" numOctaves="2" seed="24" result="n2"/><feColorMatrix in="n2" type="matrix" values="0 0 0 0 0.8  0 0 0 0 0.87  0 0 0 0 0.97  1.76 0 0 0 -0.92" result="sp"/><feColorMatrix in="r1" type="matrix" values="0 0 0 0 0  0 0 0 0 0  0 0 0 0 0  5 0 5 0 -8" result="wm"/><feComposite in="sp" in2="wm" operator="in" result="spm"/><feComposite in="spm" in2="r1" operator="over"/></filter>
<filter id="streak4" x="0" y="0" width="1" height="1" color-interpolation-filters="sRGB"><feTurbulence type="fractalNoise" baseFrequency="0.12 0.9" numOctaves="2" seed="9" result="n"/><feColorMatrix in="n" type="matrix" values="0 0 0 0 0.5  3 0 0 0 -1  0 0 0 0 0  0 0 0 0 1" result="m"/><feDisplacementMap in="SourceGraphic" in2="m" scale="8" xChannelSelector="R" yChannelSelector="G" result="d"/><feGaussianBlur in="d" stdDeviation="0.6 0.25" result="d"/><feColorMatrix in="SourceGraphic" type="matrix" values="0 0 0 0 0  0 0 0 0 0  0 0 0 0 0  0 0 14 0 -12.4" result="mk"/><feComposite in="d" in2="mk" operator="in" result="dm"/><feComposite in="dm" in2="SourceGraphic" operator="over" result="r1"/><feTurbulence type="fractalNoise" baseFrequency="0.3 1.2" numOctaves="2" seed="25" result="n2"/><feColorMatrix in="n2" type="matrix" values="0 0 0 0 0.8  0 0 0 0 0.87  0 0 0 0 0.97  2.08 0 0 0 -1.04" result="sp"/><feColorMatrix in="r1" type="matrix" values="0 0 0 0 0  0 0 0 0 0  0 0 0 0 0  5 0 5 0 -8" result="wm"/><feComposite in="sp" in2="wm" operator="in" result="spm"/><feComposite in="spm" in2="r1" operator="over"/></filter>
<filter id="streak5" x="0" y="0" width="1" height="1" color-interpolation-filters="sRGB"><feTurbulence type="fractalNoise" baseFrequency="0.12 0.9" numOctaves="2" seed="10" result="n"/><feColorMatrix in="n" type="matrix" values="0 0 0 0 0.5  3 0 0 0 -1  0 0 0 0 0  0 0 0 0 1" result="m"/><feDisplacementMap in="SourceGraphic" in2="m" scale="8" xChannelSelector="R" yChannelSelector="G" result="d"/><feGaussianBlur in="d" stdDeviation="0.6 0.25" result="d"/><feColorMatrix in="SourceGraphic" type="matrix" values="0 0 0 0 0  0 0 0 0 0  0 0 0 0 0  0 0 14 0 -12.4" result="mk"/><feComposite in="d" in2="mk" operator="in" result="dm"/><feComposite in="dm" in2="SourceGraphic" operator="over" result="r1"/><feTurbulence type="fractalNoise" baseFrequency="0.3 1.2" numOctaves="2" seed="26" result="n2"/><feColorMatrix in="n2" type="matrix" values="0 0 0 0 0.8  0 0 0 0 0.87  0 0 0 0 0.97  2.88 0 0 0 -1.35" result="sp"/><feColorMatrix in="r1" type="matrix" values="0 0 0 0 0  0 0 0 0 0  0 0 0 0 0  5 0 5 0 -8" result="wm"/><feComposite in="sp" in2="wm" operator="in" result="spm"/><feComposite in="spm" in2="r1" operator="over"/></filter>
<radialGradient id="yb"><stop offset="0" stop-color="#ecf23c" stop-opacity="1"/><stop offset="0.55" stop-color="#ecf03c" stop-opacity="0.75"/><stop offset="1" stop-color="#e8e040" stop-opacity="0"/></radialGradient>
<linearGradient id="cbar" x1="0" y1="0" x2="0" y2="1"><stop offset="0" stop-color="#e8f040"/><stop offset="0.03" stop-color="#e8f040"/><stop offset="0.08" stop-color="#e8d840"/><stop offset="0.17" stop-color="#e8a848"/><stop offset="0.24" stop-color="#c8c040"/><stop offset="0.3" stop-color="#a0c848"/><stop offset="0.33" stop-color="#80cc60"/><stop offset="0.38" stop-color="#60d080"/><stop offset="0.44" stop-color="#58d0a0"/><stop offset="0.5" stop-color="#50c0b8"/><stop offset="0.57" stop-color="#50b0d0"/><stop offset="0.63" stop-color="#4a98e6"/><stop offset="0.67" stop-color="#4a90ec"/><stop offset="0.73" stop-color="#4a88f0"/><stop offset="0.81" stop-color="#80a8f2"/><stop offset="0.89" stop-color="#b8c8f8"/><stop offset="0.97" stop-color="#e8ecfe"/><stop offset="1" stop-color="#f8faff"/></linearGradient>
</defs>
<g clip-path="url(#hc0)"><g filter="url(#streak0)" shape-rendering="crispEdges"><rect x="45" y="156.11" width="1" height="98.5" fill="url(#cm0)" transform="translate(0,-13.61)"/><rect x="46" y="160.04" width="1" height="98.5" fill="url(#cm0)" transform="translate(0,-17.54)"/><rect x="47" y="163.76" width="1" height="98.5" fill="url(#cm0)" transform="translate(0,-21.26)"/><rect x="48" y="167.2" width="1" height="98.5" fill="url(#cm0)" transform="translate(0,-24.7)"/><rect x="49" y="170.28" width="1" height="98.5" fill="url(#cm0)" transform="translate(0,-27.78)"/><rect x="50" y="173.03" width="1" height="98.5" fill="url(#cm0)" transform="translate(0,-30.53)"/><rect x="51" y="175.56" width="1" height="98.5" fill="url(#cm0)" transform="translate(0,-33.06)"/><rect x="52" y="177.92" width="1" height="98.5" fill="url(#cm0)" transform="translate(0,-35.42)"/><rect x="53" y="180.16" width="1" height="98.5" fill="url(#cm0)" transform="translate(0,-37.66)"/><rect x="54" y="182.34" width="1" height="98.5" fill="url(#cm0)" transform="translate(0,-39.84)"/><rect x="55" y="184.49" width="1" height="98.5" fill="url(#cm0)" transform="translate(0,-41.99)"/><rect x="56" y="186.64" width="1" height="98.5" fill="url(#cm0)" transform="translate(0,-44.14)"/><rect x="57" y="188.73" width="1" height="98.5" fill="url(#cm0)" transform="translate(0,-46.23)"/><rect x="58" y="190.76" width="1" height="98.5" fill="url(#cm0)" transform="translate(0,-48.26)"/><rect x="59" y="192.75" width="1" height="98.5" fill="url(#cm0)" transform="translate(0,-50.25)"/><rect x="60" y="194.7" width="1" height="98.5" fill="url(#cm0)" transform="translate(0,-52.2)"/><rect x="61" y="196.62" width="1" height="98.5" fill="url(#cm0)" transform="translate(0,-54.12)"/><rect x="62" y="198.58" width="1" height="98.5" fill="url(#cm0)" transform="translate(0,-56.08)"/><rect x="63" y="200.68" width="1" height="98.5" fill="url(#cm0)" transform="translate(0,-58.18)"/><rect x="64" y="202.66" width="1" height="98.5" fill="url(#cm0)" transform="translate(0,-60.16)"/><rect x="65" y="204.24" width="1" height="98.5" fill="url(#cm0)" transform="translate(0,-61.74)"/><rect x="66" y="205.26" width="1" height="98.5" fill="url(#cm0)" transform="translate(0,-62.76)"/><rect x="67" y="206.13" width="1" height="98.5" fill="url(#cm0)" transform="translate(0,-63.63)"/><rect x="68" y="206.92" width="1" height="98.5" fill="url(#cm0)" transform="translate(0,-64.42)"/><rect x="69" y="207.62" width="1" height="98.5" fill="url(#cm0)" transform="translate(0,-65.12)"/><rect x="70" y="208.23" width="1" height="98.5" fill="url(#cm0)" transform="translate(0,-65.73)"/><rect x="71" y="208.75" width="1" height="98.5" fill="url(#cm0)" transform="translate(0,-66.25)"/><rect x="72" y="209.18" width="1" height="98.5" fill="url(#cm0)" transform="translate(0,-66.68)"/><rect x="73" y="209.51" width="1" height="98.5" fill="url(#cm0)" transform="translate(0,-67.01)"/><rect x="74" y="209.75" width="1" height="98.5" fill="url(#cm0)" transform="translate(0,-67.25)"/><rect x="75" y="209.97" width="1" height="98.5" fill="url(#cm0)" transform="translate(0,-67.47)"/><rect x="76" y="210.17" width="1" height="98.5" fill="url(#cm0)" transform="translate(0,-67.67)"/><rect x="77" y="210.37" width="1" height="98.5" fill="url(#cm0)" transform="translate(0,-67.87)"/><rect x="78" y="210.56" width="1" height="98.5" fill="url(#cm0)" transform="translate(0,-68.06)"/><rect x="79" y="210.74" width="1" height="98.5" fill="url(#cm0)" transform="translate(0,-68.24)"/><rect x="80" y="210.91" width="1" height="98.5" fill="url(#cm0)" transform="translate(0,-68.41)"/><rect x="81" y="211.07" width="1" height="98.5" fill="url(#cm0)" transform="translate(0,-68.57)"/><rect x="82" y="211.22" width="1" height="98.5" fill="url(#cm0)" transform="translate(0,-68.72)"/><rect x="83" y="211.36" width="1" height="98.5" fill="url(#cm0)" transform="translate(0,-68.86)"/><rect x="84" y="211.49" width="1" height="98.5" fill="url(#cm0)" transform="translate(0,-68.99)"/><rect x="85" y="211.61" width="1" height="98.5" fill="url(#cm0)" transform="translate(0,-69.11)"/><rect x="86" y="211.72" width="1" height="98.5" fill="url(#cm0)" transform="translate(0,-69.22)"/><rect x="87" y="211.81" width="1" height="98.5" fill="url(#cm0)" transform="translate(0,-69.31)"/><rect x="88" y="211.9" width="1" height="98.5" fill="url(#cm0)" transform="translate(0,-69.4)"/><rect x="89" y="211.97" width="1" height="98.5" fill="url(#cm0)" transform="translate(0,-69.47)"/><rect x="90" y="212.03" width="1" height="98.5" fill="url(#cm0)" transform="translate(0,-69.53)"/><rect x="91" y="212.07" width="1" height="98.5" fill="url(#cm0)" transform="translate(0,-69.57)"/><rect x="92" y="212.11" width="1" height="98.5" fill="url(#cm0)" transform="translate(0,-69.61)"/><rect x="93" y="212.13" width="1" height="98.5" fill="url(#cm0)" transform="translate(0,-69.63)"/><rect x="94" y="212.14" width="1" height="98.5" fill="url(#cm0)" transform="translate(0,-69.64)"/><rect x="95" y="212.14" width="1" height="98.5" fill="url(#cm0)" transform="translate(0,-69.64)"/><rect x="96" y="212.14" width="1" height="98.5" fill="url(#cm0)" transform="translate(0,-69.64)"/><rect x="97" y="212.14" width="1" height="98.5" fill="url(#cm0)" transform="translate(0,-69.64)"/><rect x="98" y="212.14" width="1" height="98.5" fill="url(#cm0)" transform="translate(0,-69.64)"/><rect x="99" y="212.14" width="1" height="98.5" fill="url(#cm0)" transform="translate(0,-69.64)"/><rect x="100" y="212.14" width="1" height="98.5" fill="url(#cm0)" transform="translate(0,-69.64)"/><rect x="101" y="212.14" width="1" height="98.5" fill="url(#cm0)" transform="translate(0,-69.64)"/><rect x="102" y="212.14" width="1" height="98.5" fill="url(#cm0)" transform="translate(0,-69.64)"/><rect x="103" y="212.13" width="1" height="98.5" fill="url(#cm0)" transform="translate(0,-69.63)"/><rect x="104" y="212" width="1" height="98.5" fill="url(#cm0)" transform="translate(0,-69.5)"/><rect x="105" y="211.63" width="1" height="98.5" fill="url(#cm0)" transform="translate(0,-69.13)"/><rect x="106" y="211.07" width="1" height="98.5" fill="url(#cm0)" transform="translate(0,-68.57)"/><rect x="107" y="210.36" width="1" height="98.5" fill="url(#cm0)" transform="translate(0,-67.86)"/><rect x="108" y="209.54" width="1" height="98.5" fill="url(#cm0)" transform="translate(0,-67.04)"/><rect x="109" y="208.63" width="1" height="98.5" fill="url(#cm0)" transform="translate(0,-66.13)"/><rect x="110" y="207.68" width="1" height="98.5" fill="url(#cm0)" transform="translate(0,-65.18)"/><rect x="111" y="206.73" width="1" height="98.5" fill="url(#cm0)" transform="translate(0,-64.23)"/><rect x="112" y="205.81" width="1" height="98.5" fill="url(#cm0)" transform="translate(0,-63.31)"/><rect x="113" y="204.96" width="1" height="98.5" fill="url(#cm0)" transform="translate(0,-62.46)"/><rect x="114" y="204.18" width="1" height="98.5" fill="url(#cm0)" transform="translate(0,-61.68)"/><rect x="115" y="203.39" width="1" height="98.5" fill="url(#cm0)" transform="translate(0,-60.89)"/><rect x="116" y="202.58" width="1" height="98.5" fill="url(#cm0)" transform="translate(0,-60.08)"/><rect x="117" y="201.75" width="1" height="98.5" fill="url(#cm0)" transform="translate(0,-59.25)"/><rect x="118" y="200.91" width="1" height="98.5" fill="url(#cm0)" transform="translate(0,-58.41)"/><rect x="119" y="200.06" width="1" height="98.5" fill="url(#cm0)" transform="translate(0,-57.56)"/><rect x="120" y="199.21" width="1" height="98.5" fill="url(#cm0)" transform="translate(0,-56.71)"/><rect x="121" y="198.35" width="1" height="98.5" fill="url(#cm0)" transform="translate(0,-55.85)"/><rect x="122" y="197.49" width="1" height="98.5" fill="url(#cm0)" transform="translate(0,-54.99)"/><rect x="123" y="196.64" width="1" height="98.5" fill="url(#cm0)" transform="translate(0,-54.14)"/><rect x="124" y="195.79" width="1" height="98.5" fill="url(#cm0)" transform="translate(0,-53.29)"/><rect x="125" y="194.93" width="1" height="98.5" fill="url(#cm0)" transform="translate(0,-52.43)"/><rect x="126" y="194.07" width="1" height="98.5" fill="url(#cm0)" transform="translate(0,-51.57)"/><rect x="127" y="193.2" width="1" height="98.5" fill="url(#cm0)" transform="translate(0,-50.7)"/><rect x="128" y="192.33" width="1" height="98.5" fill="url(#cm0)" transform="translate(0,-49.83)"/><rect x="129" y="191.46" width="1" height="98.5" fill="url(#cm0)" transform="translate(0,-48.96)"/><rect x="130" y="190.6" width="1" height="98.5" fill="url(#cm0)" transform="translate(0,-48.1)"/><rect x="131" y="189.73" width="1" height="98.5" fill="url(#cm0)" transform="translate(0,-47.23)"/><rect x="132" y="188.87" width="1" height="98.5" fill="url(#cm0)" transform="translate(0,-46.37)"/><rect x="133" y="188.01" width="1" height="98.5" fill="url(#cm0)" transform="translate(0,-45.51)"/><rect x="134" y="187.17" width="1" height="98.5" fill="url(#cm0)" transform="translate(0,-44.67)"/><rect x="135" y="186.33" width="1" height="98.5" fill="url(#cm0)" transform="translate(0,-43.83)"/><rect x="136" y="185.49" width="1" height="98.5" fill="url(#cm0)" transform="translate(0,-42.99)"/><rect x="137" y="184.66" width="1" height="98.5" fill="url(#cm0)" transform="translate(0,-42.16)"/><rect x="138" y="183.84" width="1" height="98.5" fill="url(#cm0)" transform="translate(0,-41.34)"/><rect x="139" y="183.01" width="1" height="98.5" fill="url(#cm0)" transform="translate(0,-40.51)"/><rect x="140" y="182.19" width="1" height="98.5" fill="url(#cm0)" transform="translate(0,-39.69)"/><rect x="141" y="181.36" width="1" height="98.5" fill="url(#cm0)" transform="translate(0,-38.86)"/><rect x="142" y="180.54" width="1" height="98.5" fill="url(#cm0)" transform="translate(0,-38.04)"/><rect x="143" y="179.71" width="1" height="98.5" fill="url(#cm0)" transform="translate(0,-37.21)"/><rect x="144" y="178.88" width="1" height="98.5" fill="url(#cm0)" transform="translate(0,-36.38)"/><rect x="145" y="178.04" width="1" height="98.5" fill="url(#cm0)" transform="translate(0,-35.54)"/><rect x="146" y="177.21" width="1" height="98.5" fill="url(#cm0)" transform="translate(0,-34.71)"/><rect x="147" y="176.37" width="1" height="98.5" fill="url(#cm0)" transform="translate(0,-33.87)"/><rect x="148" y="175.53" width="1" height="98.5" fill="url(#cm0)" transform="translate(0,-33.03)"/><rect x="149" y="174.69" width="1" height="98.5" fill="url(#cm0)" transform="translate(0,-32.19)"/><rect x="150" y="173.85" width="1" height="98.5" fill="url(#cm0)" transform="translate(0,-31.35)"/><rect x="151" y="173.01" width="1" height="98.5" fill="url(#cm0)" transform="translate(0,-30.51)"/><rect x="152" y="172.17" width="1" height="98.5" fill="url(#cm0)" transform="translate(0,-29.67)"/><rect x="153" y="171.32" width="1" height="98.5" fill="url(#cm0)" transform="translate(0,-28.82)"/><rect x="154" y="170.48" width="1" height="98.5" fill="url(#cm0)" transform="translate(0,-27.98)"/><rect x="155" y="169.63" width="1" height="98.5" fill="url(#cm0)" transform="translate(0,-27.13)"/><rect x="156" y="168.78" width="1" height="98.5" fill="url(#cm0)" transform="translate(0,-26.28)"/><rect x="157" y="167.93" width="1" height="98.5" fill="url(#cm0)" transform="translate(0,-25.43)"/><rect x="158" y="167.08" width="1" height="98.5" fill="url(#cm0)" transform="translate(0,-24.58)"/><rect x="159" y="166.23" width="1" height="98.5" fill="url(#cm0)" transform="translate(0,-23.73)"/><rect x="160" y="165.37" width="1" height="98.5" fill="url(#cm0)" transform="translate(0,-22.87)"/><rect x="161" y="164.52" width="1" height="98.5" fill="url(#cm0)" transform="translate(0,-22.02)"/><rect x="162" y="163.66" width="1" height="98.5" fill="url(#cm0)" transform="translate(0,-21.16)"/><rect x="163" y="162.89" width="1" height="98.5" fill="url(#cm0)" transform="translate(0,-20.39)"/></g></g>
<rect x="45.5" y="142.5" width="117.7" height="98.5" fill="none" stroke="#8a8a8a" stroke-width="0.9"/>
<line x1="45.5" y1="228.69" x2="47.5" y2="228.69" stroke="#555" stroke-width="0.8"/>
<line x1="163.2" y1="228.69" x2="161.2" y2="228.69" stroke="#555" stroke-width="0.8"/>
<line x1="45.5" y1="216.38" x2="47.5" y2="216.38" stroke="#555" stroke-width="0.8"/>
<line x1="163.2" y1="216.38" x2="161.2" y2="216.38" stroke="#555" stroke-width="0.8"/>
<line x1="45.5" y1="204.06" x2="47.5" y2="204.06" stroke="#555" stroke-width="0.8"/>
<line x1="163.2" y1="204.06" x2="161.2" y2="204.06" stroke="#555" stroke-width="0.8"/>
<line x1="45.5" y1="191.75" x2="47.5" y2="191.75" stroke="#555" stroke-width="0.8"/>
<line x1="163.2" y1="191.75" x2="161.2" y2="191.75" stroke="#555" stroke-width="0.8"/>
<line x1="45.5" y1="179.44" x2="47.5" y2="179.44" stroke="#555" stroke-width="0.8"/>
<line x1="163.2" y1="179.44" x2="161.2" y2="179.44" stroke="#555" stroke-width="0.8"/>
<line x1="45.5" y1="167.12" x2="47.5" y2="167.12" stroke="#555" stroke-width="0.8"/>
<line x1="163.2" y1="167.12" x2="161.2" y2="167.12" stroke="#555" stroke-width="0.8"/>
<line x1="45.5" y1="154.81" x2="47.5" y2="154.81" stroke="#555" stroke-width="0.8"/>
<line x1="163.2" y1="154.81" x2="161.2" y2="154.81" stroke="#555" stroke-width="0.8"/>
<line x1="72.14" y1="241" x2="72.14" y2="239" stroke="#555" stroke-width="0.8"/>
<line x1="72.14" y1="142.5" x2="72.14" y2="144.5" stroke="#555" stroke-width="0.8"/>
<line x1="98.79" y1="241" x2="98.79" y2="239" stroke="#555" stroke-width="0.8"/>
<line x1="98.79" y1="142.5" x2="98.79" y2="144.5" stroke="#555" stroke-width="0.8"/>
<line x1="125.43" y1="241" x2="125.43" y2="239" stroke="#555" stroke-width="0.8"/>
<line x1="125.43" y1="142.5" x2="125.43" y2="144.5" stroke="#555" stroke-width="0.8"/>
<line x1="152.08" y1="241" x2="152.08" y2="239" stroke="#555" stroke-width="0.8"/>
<line x1="152.08" y1="142.5" x2="152.08" y2="144.5" stroke="#555" stroke-width="0.8"/>
<text x="52.1" y="157.9" font-size="8" text-anchor="start" fill="#1a1a1a" ><tspan>[BuTPP]</tspan><tspan dy="3" font-size="5.44">2</tspan><tspan dy="-3">[MnBr</tspan><tspan dy="3" font-size="5.44">4</tspan><tspan dy="-3">]</tspan></text>
<g clip-path="url(#hc1)"><g filter="url(#streak1)" shape-rendering="crispEdges"><rect x="178" y="136.14" width="1" height="98.5" fill="url(#cm1)" transform="translate(0,6.36)"/><rect x="179" y="138.46" width="1" height="98.5" fill="url(#cm1)" transform="translate(0,4.04)"/><rect x="180" y="140.77" width="1" height="98.5" fill="url(#cm1)" transform="translate(0,1.73)"/><rect x="181" y="143.06" width="1" height="98.5" fill="url(#cm1)" transform="translate(0,-0.56)"/><rect x="182" y="145.36" width="1" height="98.5" fill="url(#cm1)" transform="translate(0,-2.86)"/><rect x="183" y="147.64" width="1" height="98.5" fill="url(#cm1)" transform="translate(0,-5.14)"/><rect x="184" y="149.94" width="1" height="98.5" fill="url(#cm1)" transform="translate(0,-7.44)"/><rect x="185" y="152.23" width="1" height="98.5" fill="url(#cm1)" transform="translate(0,-9.73)"/><rect x="186" y="154.54" width="1" height="98.5" fill="url(#cm1)" transform="translate(0,-12.04)"/><rect x="187" y="156.84" width="1" height="98.5" fill="url(#cm1)" transform="translate(0,-14.34)"/><rect x="188" y="159.15" width="1" height="98.5" fill="url(#cm1)" transform="translate(0,-16.65)"/><rect x="189" y="161.46" width="1" height="98.5" fill="url(#cm1)" transform="translate(0,-18.96)"/><rect x="190" y="163.78" width="1" height="98.5" fill="url(#cm1)" transform="translate(0,-21.28)"/><rect x="191" y="166.12" width="1" height="98.5" fill="url(#cm1)" transform="translate(0,-23.62)"/><rect x="192" y="168.49" width="1" height="98.5" fill="url(#cm1)" transform="translate(0,-25.99)"/><rect x="193" y="171" width="1" height="98.5" fill="url(#cm1)" transform="translate(0,-28.5)"/><rect x="194" y="173.58" width="1" height="98.5" fill="url(#cm1)" transform="translate(0,-31.08)"/><rect x="195" y="176.09" width="1" height="98.5" fill="url(#cm1)" transform="translate(0,-33.59)"/><rect x="196" y="178.41" width="1" height="98.5" fill="url(#cm1)" transform="translate(0,-35.91)"/><rect x="197" y="180.44" width="1" height="98.5" fill="url(#cm1)" transform="translate(0,-37.94)"/><rect x="198" y="182.35" width="1" height="98.5" fill="url(#cm1)" transform="translate(0,-39.85)"/><rect x="199" y="184.18" width="1" height="98.5" fill="url(#cm1)" transform="translate(0,-41.68)"/><rect x="200" y="185.83" width="1" height="98.5" fill="url(#cm1)" transform="translate(0,-43.33)"/><rect x="201" y="187.18" width="1" height="98.5" fill="url(#cm1)" transform="translate(0,-44.68)"/><rect x="202" y="188.15" width="1" height="98.5" fill="url(#cm1)" transform="translate(0,-45.65)"/><rect x="203" y="188.96" width="1" height="98.5" fill="url(#cm1)" transform="translate(0,-46.46)"/><rect x="204" y="189.74" width="1" height="98.5" fill="url(#cm1)" transform="translate(0,-47.24)"/><rect x="205" y="190.48" width="1" height="98.5" fill="url(#cm1)" transform="translate(0,-47.98)"/><rect x="206" y="191.17" width="1" height="98.5" fill="url(#cm1)" transform="translate(0,-48.67)"/><rect x="207" y="191.8" width="1" height="98.5" fill="url(#cm1)" transform="translate(0,-49.3)"/><rect x="208" y="192.38" width="1" height="98.5" fill="url(#cm1)" transform="translate(0,-49.88)"/><rect x="209" y="192.89" width="1" height="98.5" fill="url(#cm1)" transform="translate(0,-50.39)"/><rect x="210" y="193.33" width="1" height="98.5" fill="url(#cm1)" transform="translate(0,-50.83)"/><rect x="211" y="193.68" width="1" height="98.5" fill="url(#cm1)" transform="translate(0,-51.18)"/><rect x="212" y="193.94" width="1" height="98.5" fill="url(#cm1)" transform="translate(0,-51.44)"/><rect x="213" y="194.1" width="1" height="98.5" fill="url(#cm1)" transform="translate(0,-51.6)"/><rect x="214" y="194.15" width="1" height="98.5" fill="url(#cm1)" transform="translate(0,-51.65)"/><rect x="215" y="194.15" width="1" height="98.5" fill="url(#cm1)" transform="translate(0,-51.65)"/><rect x="216" y="194.13" width="1" height="98.5" fill="url(#cm1)" transform="translate(0,-51.63)"/><rect x="217" y="194.11" width="1" height="98.5" fill="url(#cm1)" transform="translate(0,-51.61)"/><rect x="218" y="194.08" width="1" height="98.5" fill="url(#cm1)" transform="translate(0,-51.58)"/><rect x="219" y="194.04" width="1" height="98.5" fill="url(#cm1)" transform="translate(0,-51.54)"/><rect x="220" y="193.99" width="1" height="98.5" fill="url(#cm1)" transform="translate(0,-51.49)"/><rect x="221" y="193.93" width="1" height="98.5" fill="url(#cm1)" transform="translate(0,-51.43)"/><rect x="222" y="193.87" width="1" height="98.5" fill="url(#cm1)" transform="translate(0,-51.37)"/><rect x="223" y="193.8" width="1" height="98.5" fill="url(#cm1)" transform="translate(0,-51.3)"/><rect x="224" y="193.72" width="1" height="98.5" fill="url(#cm1)" transform="translate(0,-51.22)"/><rect x="225" y="193.64" width="1" height="98.5" fill="url(#cm1)" transform="translate(0,-51.14)"/><rect x="226" y="193.56" width="1" height="98.5" fill="url(#cm1)" transform="translate(0,-51.06)"/><rect x="227" y="193.47" width="1" height="98.5" fill="url(#cm1)" transform="translate(0,-50.97)"/><rect x="228" y="193.38" width="1" height="98.5" fill="url(#cm1)" transform="translate(0,-50.88)"/><rect x="229" y="193.29" width="1" height="98.5" fill="url(#cm1)" transform="translate(0,-50.79)"/><rect x="230" y="193.19" width="1" height="98.5" fill="url(#cm1)" transform="translate(0,-50.69)"/><rect x="231" y="193.08" width="1" height="98.5" fill="url(#cm1)" transform="translate(0,-50.58)"/><rect x="232" y="192.96" width="1" height="98.5" fill="url(#cm1)" transform="translate(0,-50.46)"/><rect x="233" y="192.8" width="1" height="98.5" fill="url(#cm1)" transform="translate(0,-50.3)"/><rect x="234" y="192.61" width="1" height="98.5" fill="url(#cm1)" transform="translate(0,-50.11)"/><rect x="235" y="192.37" width="1" height="98.5" fill="url(#cm1)" transform="translate(0,-49.87)"/><rect x="236" y="192.02" width="1" height="98.5" fill="url(#cm1)" transform="translate(0,-49.52)"/><rect x="237" y="191.41" width="1" height="98.5" fill="url(#cm1)" transform="translate(0,-48.91)"/><rect x="238" y="190.58" width="1" height="98.5" fill="url(#cm1)" transform="translate(0,-48.08)"/><rect x="239" y="189.57" width="1" height="98.5" fill="url(#cm1)" transform="translate(0,-47.07)"/><rect x="240" y="188.44" width="1" height="98.5" fill="url(#cm1)" transform="translate(0,-45.94)"/><rect x="241" y="187.22" width="1" height="98.5" fill="url(#cm1)" transform="translate(0,-44.72)"/><rect x="242" y="185.96" width="1" height="98.5" fill="url(#cm1)" transform="translate(0,-43.46)"/><rect x="243" y="184.71" width="1" height="98.5" fill="url(#cm1)" transform="translate(0,-42.21)"/><rect x="244" y="183.52" width="1" height="98.5" fill="url(#cm1)" transform="translate(0,-41.02)"/><rect x="245" y="182.42" width="1" height="98.5" fill="url(#cm1)" transform="translate(0,-39.92)"/><rect x="246" y="181.44" width="1" height="98.5" fill="url(#cm1)" transform="translate(0,-38.94)"/><rect x="247" y="180.5" width="1" height="98.5" fill="url(#cm1)" transform="translate(0,-38)"/><rect x="248" y="179.57" width="1" height="98.5" fill="url(#cm1)" transform="translate(0,-37.07)"/><rect x="249" y="178.65" width="1" height="98.5" fill="url(#cm1)" transform="translate(0,-36.15)"/><rect x="250" y="177.74" width="1" height="98.5" fill="url(#cm1)" transform="translate(0,-35.24)"/><rect x="251" y="176.83" width="1" height="98.5" fill="url(#cm1)" transform="translate(0,-34.33)"/><rect x="252" y="175.93" width="1" height="98.5" fill="url(#cm1)" transform="translate(0,-33.43)"/><rect x="253" y="175.02" width="1" height="98.5" fill="url(#cm1)" transform="translate(0,-32.52)"/><rect x="254" y="174.1" width="1" height="98.5" fill="url(#cm1)" transform="translate(0,-31.6)"/><rect x="255" y="173.17" width="1" height="98.5" fill="url(#cm1)" transform="translate(0,-30.67)"/><rect x="256" y="172.23" width="1" height="98.5" fill="url(#cm1)" transform="translate(0,-29.73)"/><rect x="257" y="171.27" width="1" height="98.5" fill="url(#cm1)" transform="translate(0,-28.77)"/><rect x="258" y="170.3" width="1" height="98.5" fill="url(#cm1)" transform="translate(0,-27.8)"/><rect x="259" y="169.32" width="1" height="98.5" fill="url(#cm1)" transform="translate(0,-26.82)"/><rect x="260" y="168.34" width="1" height="98.5" fill="url(#cm1)" transform="translate(0,-25.84)"/><rect x="261" y="167.35" width="1" height="98.5" fill="url(#cm1)" transform="translate(0,-24.85)"/><rect x="262" y="166.37" width="1" height="98.5" fill="url(#cm1)" transform="translate(0,-23.87)"/><rect x="263" y="165.39" width="1" height="98.5" fill="url(#cm1)" transform="translate(0,-22.89)"/><rect x="264" y="164.42" width="1" height="98.5" fill="url(#cm1)" transform="translate(0,-21.92)"/><rect x="265" y="163.46" width="1" height="98.5" fill="url(#cm1)" transform="translate(0,-20.96)"/><rect x="266" y="162.52" width="1" height="98.5" fill="url(#cm1)" transform="translate(0,-20.02)"/><rect x="267" y="161.58" width="1" height="98.5" fill="url(#cm1)" transform="translate(0,-19.08)"/><rect x="268" y="160.64" width="1" height="98.5" fill="url(#cm1)" transform="translate(0,-18.14)"/><rect x="269" y="159.69" width="1" height="98.5" fill="url(#cm1)" transform="translate(0,-17.19)"/><rect x="270" y="158.75" width="1" height="98.5" fill="url(#cm1)" transform="translate(0,-16.25)"/><rect x="271" y="157.82" width="1" height="98.5" fill="url(#cm1)" transform="translate(0,-15.32)"/><rect x="272" y="156.91" width="1" height="98.5" fill="url(#cm1)" transform="translate(0,-14.41)"/><rect x="273" y="156.01" width="1" height="98.5" fill="url(#cm1)" transform="translate(0,-13.51)"/><rect x="274" y="155.14" width="1" height="98.5" fill="url(#cm1)" transform="translate(0,-12.64)"/><rect x="275" y="154.3" width="1" height="98.5" fill="url(#cm1)" transform="translate(0,-11.8)"/><rect x="276" y="153.49" width="1" height="98.5" fill="url(#cm1)" transform="translate(0,-10.99)"/><rect x="277" y="152.72" width="1" height="98.5" fill="url(#cm1)" transform="translate(0,-10.22)"/><rect x="278" y="151.96" width="1" height="98.5" fill="url(#cm1)" transform="translate(0,-9.46)"/><rect x="279" y="151.23" width="1" height="98.5" fill="url(#cm1)" transform="translate(0,-8.73)"/><rect x="280" y="150.52" width="1" height="98.5" fill="url(#cm1)" transform="translate(0,-8.02)"/><rect x="281" y="149.82" width="1" height="98.5" fill="url(#cm1)" transform="translate(0,-7.32)"/><rect x="282" y="149.14" width="1" height="98.5" fill="url(#cm1)" transform="translate(0,-6.64)"/><rect x="283" y="148.46" width="1" height="98.5" fill="url(#cm1)" transform="translate(0,-5.96)"/><rect x="284" y="147.79" width="1" height="98.5" fill="url(#cm1)" transform="translate(0,-5.29)"/><rect x="285" y="147.12" width="1" height="98.5" fill="url(#cm1)" transform="translate(0,-4.62)"/><rect x="286" y="146.46" width="1" height="98.5" fill="url(#cm1)" transform="translate(0,-3.96)"/><rect x="287" y="145.79" width="1" height="98.5" fill="url(#cm1)" transform="translate(0,-3.29)"/><rect x="288" y="145.13" width="1" height="98.5" fill="url(#cm1)" transform="translate(0,-2.63)"/><rect x="289" y="144.48" width="1" height="98.5" fill="url(#cm1)" transform="translate(0,-1.98)"/><rect x="290" y="143.84" width="1" height="98.5" fill="url(#cm1)" transform="translate(0,-1.34)"/><rect x="291" y="143.2" width="1" height="98.5" fill="url(#cm1)" transform="translate(0,-0.7)"/><rect x="292" y="142.57" width="1" height="98.5" fill="url(#cm1)" transform="translate(0,-0.07)"/><rect x="293" y="141.94" width="1" height="98.5" fill="url(#cm1)" transform="translate(0,0.56)"/><rect x="294" y="141.33" width="1" height="98.5" fill="url(#cm1)" transform="translate(0,1.17)"/><rect x="295" y="140.72" width="1" height="98.5" fill="url(#cm1)" transform="translate(0,1.78)"/></g></g>
<ellipse cx="218" cy="241" rx="20" ry="4.5" fill="url(#yb)" opacity="0.5" clip-path="url(#hc1)"/>
<rect x="178.3" y="142.5" width="117.2" height="98.5" fill="none" stroke="#8a8a8a" stroke-width="0.9"/>
<line x1="178.3" y1="228.69" x2="180.3" y2="228.69" stroke="#555" stroke-width="0.8"/>
<line x1="295.5" y1="228.69" x2="293.5" y2="228.69" stroke="#555" stroke-width="0.8"/>
<line x1="178.3" y1="216.38" x2="180.3" y2="216.38" stroke="#555" stroke-width="0.8"/>
<line x1="295.5" y1="216.38" x2="293.5" y2="216.38" stroke="#555" stroke-width="0.8"/>
<line x1="178.3" y1="204.06" x2="180.3" y2="204.06" stroke="#555" stroke-width="0.8"/>
<line x1="295.5" y1="204.06" x2="293.5" y2="204.06" stroke="#555" stroke-width="0.8"/>
<line x1="178.3" y1="191.75" x2="180.3" y2="191.75" stroke="#555" stroke-width="0.8"/>
<line x1="295.5" y1="191.75" x2="293.5" y2="191.75" stroke="#555" stroke-width="0.8"/>
<line x1="178.3" y1="179.44" x2="180.3" y2="179.44" stroke="#555" stroke-width="0.8"/>
<line x1="295.5" y1="179.44" x2="293.5" y2="179.44" stroke="#555" stroke-width="0.8"/>
<line x1="178.3" y1="167.12" x2="180.3" y2="167.12" stroke="#555" stroke-width="0.8"/>
<line x1="295.5" y1="167.12" x2="293.5" y2="167.12" stroke="#555" stroke-width="0.8"/>
<line x1="178.3" y1="154.81" x2="180.3" y2="154.81" stroke="#555" stroke-width="0.8"/>
<line x1="295.5" y1="154.81" x2="293.5" y2="154.81" stroke="#555" stroke-width="0.8"/>
<line x1="204.83" y1="241" x2="204.83" y2="239" stroke="#555" stroke-width="0.8"/>
<line x1="204.83" y1="142.5" x2="204.83" y2="144.5" stroke="#555" stroke-width="0.8"/>
<line x1="231.36" y1="241" x2="231.36" y2="239" stroke="#555" stroke-width="0.8"/>
<line x1="231.36" y1="142.5" x2="231.36" y2="144.5" stroke="#555" stroke-width="0.8"/>
<line x1="257.89" y1="241" x2="257.89" y2="239" stroke="#555" stroke-width="0.8"/>
<line x1="257.89" y1="142.5" x2="257.89" y2="144.5" stroke="#555" stroke-width="0.8"/>
<line x1="284.42" y1="241" x2="284.42" y2="239" stroke="#555" stroke-width="0.8"/>
<line x1="284.42" y1="142.5" x2="284.42" y2="144.5" stroke="#555" stroke-width="0.8"/>
<text x="184.9" y="157.9" font-size="8" text-anchor="start" fill="#1a1a1a" ><tspan>[BPP]</tspan><tspan dy="3" font-size="5.44">2</tspan><tspan dy="-3">[MnBr</tspan><tspan dy="3" font-size="5.44">4</tspan><tspan dy="-3">]</tspan></text>
<g clip-path="url(#hc2)"><g filter="url(#streak2)" shape-rendering="crispEdges"><rect x="310" y="121.08" width="1" height="98" fill="url(#cm2)" transform="translate(0,21.42)"/><rect x="311" y="122.72" width="1" height="98" fill="url(#cm2)" transform="translate(0,19.78)"/><rect x="312" y="124.45" width="1" height="98" fill="url(#cm2)" transform="translate(0,18.05)"/><rect x="313" y="126.26" width="1" height="98" fill="url(#cm2)" transform="translate(0,16.24)"/><rect x="314" y="128.14" width="1" height="98" fill="url(#cm2)" transform="translate(0,14.36)"/><rect x="315" y="130.08" width="1" height="98" fill="url(#cm2)" transform="translate(0,12.42)"/><rect x="316" y="132.09" width="1" height="98" fill="url(#cm2)" transform="translate(0,10.41)"/><rect x="317" y="134.16" width="1" height="98" fill="url(#cm2)" transform="translate(0,8.34)"/><rect x="318" y="136.3" width="1" height="98" fill="url(#cm2)" transform="translate(0,6.2)"/><rect x="319" y="138.54" width="1" height="98" fill="url(#cm2)" transform="translate(0,3.96)"/><rect x="320" y="140.89" width="1" height="98" fill="url(#cm2)" transform="translate(0,1.61)"/><rect x="321" y="143.36" width="1" height="98" fill="url(#cm2)" transform="translate(0,-0.86)"/><rect x="322" y="145.98" width="1" height="98" fill="url(#cm2)" transform="translate(0,-3.48)"/><rect x="323" y="148.86" width="1" height="98" fill="url(#cm2)" transform="translate(0,-6.36)"/><rect x="324" y="151.91" width="1" height="98" fill="url(#cm2)" transform="translate(0,-9.41)"/><rect x="325" y="155.01" width="1" height="98" fill="url(#cm2)" transform="translate(0,-12.51)"/><rect x="326" y="158.05" width="1" height="98" fill="url(#cm2)" transform="translate(0,-15.55)"/><rect x="327" y="161.09" width="1" height="98" fill="url(#cm2)" transform="translate(0,-18.59)"/><rect x="328" y="164.15" width="1" height="98" fill="url(#cm2)" transform="translate(0,-21.65)"/><rect x="329" y="167.18" width="1" height="98" fill="url(#cm2)" transform="translate(0,-24.68)"/><rect x="330" y="170.16" width="1" height="98" fill="url(#cm2)" transform="translate(0,-27.66)"/><rect x="331" y="173.19" width="1" height="98" fill="url(#cm2)" transform="translate(0,-30.69)"/><rect x="332" y="176.2" width="1" height="98" fill="url(#cm2)" transform="translate(0,-33.7)"/><rect x="333" y="179.02" width="1" height="98" fill="url(#cm2)" transform="translate(0,-36.52)"/><rect x="334" y="181.53" width="1" height="98" fill="url(#cm2)" transform="translate(0,-39.03)"/><rect x="335" y="183.93" width="1" height="98" fill="url(#cm2)" transform="translate(0,-41.43)"/><rect x="336" y="186.24" width="1" height="98" fill="url(#cm2)" transform="translate(0,-43.74)"/><rect x="337" y="188.35" width="1" height="98" fill="url(#cm2)" transform="translate(0,-45.85)"/><rect x="338" y="190.12" width="1" height="98" fill="url(#cm2)" transform="translate(0,-47.62)"/><rect x="339" y="191.44" width="1" height="98" fill="url(#cm2)" transform="translate(0,-48.94)"/><rect x="340" y="192.5" width="1" height="98" fill="url(#cm2)" transform="translate(0,-50)"/><rect x="341" y="193.49" width="1" height="98" fill="url(#cm2)" transform="translate(0,-50.99)"/><rect x="342" y="194.38" width="1" height="98" fill="url(#cm2)" transform="translate(0,-51.88)"/><rect x="343" y="195.16" width="1" height="98" fill="url(#cm2)" transform="translate(0,-52.66)"/><rect x="344" y="195.78" width="1" height="98" fill="url(#cm2)" transform="translate(0,-53.28)"/><rect x="345" y="196.24" width="1" height="98" fill="url(#cm2)" transform="translate(0,-53.74)"/><rect x="346" y="196.5" width="1" height="98" fill="url(#cm2)" transform="translate(0,-54)"/><rect x="347" y="196.65" width="1" height="98" fill="url(#cm2)" transform="translate(0,-54.15)"/><rect x="348" y="196.79" width="1" height="98" fill="url(#cm2)" transform="translate(0,-54.29)"/><rect x="349" y="196.92" width="1" height="98" fill="url(#cm2)" transform="translate(0,-54.42)"/><rect x="350" y="197.03" width="1" height="98" fill="url(#cm2)" transform="translate(0,-54.53)"/><rect x="351" y="197.13" width="1" height="98" fill="url(#cm2)" transform="translate(0,-54.63)"/><rect x="352" y="197.22" width="1" height="98" fill="url(#cm2)" transform="translate(0,-54.72)"/><rect x="353" y="197.3" width="1" height="98" fill="url(#cm2)" transform="translate(0,-54.8)"/><rect x="354" y="197.36" width="1" height="98" fill="url(#cm2)" transform="translate(0,-54.86)"/><rect x="355" y="197.41" width="1" height="98" fill="url(#cm2)" transform="translate(0,-54.91)"/><rect x="356" y="197.45" width="1" height="98" fill="url(#cm2)" transform="translate(0,-54.95)"/><rect x="357" y="197.47" width="1" height="98" fill="url(#cm2)" transform="translate(0,-54.97)"/><rect x="358" y="197.48" width="1" height="98" fill="url(#cm2)" transform="translate(0,-54.98)"/><rect x="359" y="197.46" width="1" height="98" fill="url(#cm2)" transform="translate(0,-54.96)"/><rect x="360" y="197.34" width="1" height="98" fill="url(#cm2)" transform="translate(0,-54.84)"/><rect x="361" y="197.13" width="1" height="98" fill="url(#cm2)" transform="translate(0,-54.63)"/><rect x="362" y="196.83" width="1" height="98" fill="url(#cm2)" transform="translate(0,-54.33)"/><rect x="363" y="196.47" width="1" height="98" fill="url(#cm2)" transform="translate(0,-53.97)"/><rect x="364" y="196.05" width="1" height="98" fill="url(#cm2)" transform="translate(0,-53.55)"/><rect x="365" y="195.58" width="1" height="98" fill="url(#cm2)" transform="translate(0,-53.08)"/><rect x="366" y="195.06" width="1" height="98" fill="url(#cm2)" transform="translate(0,-52.56)"/><rect x="367" y="194.51" width="1" height="98" fill="url(#cm2)" transform="translate(0,-52.01)"/><rect x="368" y="193.94" width="1" height="98" fill="url(#cm2)" transform="translate(0,-51.44)"/><rect x="369" y="193.25" width="1" height="98" fill="url(#cm2)" transform="translate(0,-50.75)"/><rect x="370" y="192.28" width="1" height="98" fill="url(#cm2)" transform="translate(0,-49.78)"/><rect x="371" y="191.06" width="1" height="98" fill="url(#cm2)" transform="translate(0,-48.56)"/><rect x="372" y="189.67" width="1" height="98" fill="url(#cm2)" transform="translate(0,-47.17)"/><rect x="373" y="188.15" width="1" height="98" fill="url(#cm2)" transform="translate(0,-45.65)"/><rect x="374" y="186.57" width="1" height="98" fill="url(#cm2)" transform="translate(0,-44.07)"/><rect x="375" y="184.99" width="1" height="98" fill="url(#cm2)" transform="translate(0,-42.49)"/><rect x="376" y="183.45" width="1" height="98" fill="url(#cm2)" transform="translate(0,-40.95)"/><rect x="377" y="182.04" width="1" height="98" fill="url(#cm2)" transform="translate(0,-39.54)"/><rect x="378" y="180.75" width="1" height="98" fill="url(#cm2)" transform="translate(0,-38.25)"/><rect x="379" y="179.5" width="1" height="98" fill="url(#cm2)" transform="translate(0,-37)"/><rect x="380" y="178.26" width="1" height="98" fill="url(#cm2)" transform="translate(0,-35.76)"/><rect x="381" y="177.04" width="1" height="98" fill="url(#cm2)" transform="translate(0,-34.54)"/><rect x="382" y="175.83" width="1" height="98" fill="url(#cm2)" transform="translate(0,-33.33)"/><rect x="383" y="174.62" width="1" height="98" fill="url(#cm2)" transform="translate(0,-32.12)"/><rect x="384" y="173.43" width="1" height="98" fill="url(#cm2)" transform="translate(0,-30.93)"/><rect x="385" y="172.23" width="1" height="98" fill="url(#cm2)" transform="translate(0,-29.73)"/><rect x="386" y="171.03" width="1" height="98" fill="url(#cm2)" transform="translate(0,-28.53)"/><rect x="387" y="169.84" width="1" height="98" fill="url(#cm2)" transform="translate(0,-27.34)"/><rect x="388" y="168.63" width="1" height="98" fill="url(#cm2)" transform="translate(0,-26.13)"/><rect x="389" y="167.4" width="1" height="98" fill="url(#cm2)" transform="translate(0,-24.9)"/><rect x="390" y="166.16" width="1" height="98" fill="url(#cm2)" transform="translate(0,-23.66)"/><rect x="391" y="164.91" width="1" height="98" fill="url(#cm2)" transform="translate(0,-22.41)"/><rect x="392" y="163.67" width="1" height="98" fill="url(#cm2)" transform="translate(0,-21.17)"/><rect x="393" y="162.44" width="1" height="98" fill="url(#cm2)" transform="translate(0,-19.94)"/><rect x="394" y="161.23" width="1" height="98" fill="url(#cm2)" transform="translate(0,-18.73)"/><rect x="395" y="160.04" width="1" height="98" fill="url(#cm2)" transform="translate(0,-17.54)"/><rect x="396" y="158.9" width="1" height="98" fill="url(#cm2)" transform="translate(0,-16.4)"/><rect x="397" y="157.8" width="1" height="98" fill="url(#cm2)" transform="translate(0,-15.3)"/><rect x="398" y="156.76" width="1" height="98" fill="url(#cm2)" transform="translate(0,-14.26)"/><rect x="399" y="155.75" width="1" height="98" fill="url(#cm2)" transform="translate(0,-13.25)"/><rect x="400" y="154.75" width="1" height="98" fill="url(#cm2)" transform="translate(0,-12.25)"/><rect x="401" y="153.78" width="1" height="98" fill="url(#cm2)" transform="translate(0,-11.28)"/><rect x="402" y="152.84" width="1" height="98" fill="url(#cm2)" transform="translate(0,-10.34)"/><rect x="403" y="151.92" width="1" height="98" fill="url(#cm2)" transform="translate(0,-9.42)"/><rect x="404" y="151.02" width="1" height="98" fill="url(#cm2)" transform="translate(0,-8.52)"/><rect x="405" y="150.16" width="1" height="98" fill="url(#cm2)" transform="translate(0,-7.66)"/><rect x="406" y="149.33" width="1" height="98" fill="url(#cm2)" transform="translate(0,-6.83)"/><rect x="407" y="148.53" width="1" height="98" fill="url(#cm2)" transform="translate(0,-6.03)"/><rect x="408" y="147.76" width="1" height="98" fill="url(#cm2)" transform="translate(0,-5.26)"/><rect x="409" y="147.05" width="1" height="98" fill="url(#cm2)" transform="translate(0,-4.55)"/><rect x="410" y="146.39" width="1" height="98" fill="url(#cm2)" transform="translate(0,-3.89)"/><rect x="411" y="145.76" width="1" height="98" fill="url(#cm2)" transform="translate(0,-3.26)"/><rect x="412" y="145.13" width="1" height="98" fill="url(#cm2)" transform="translate(0,-2.63)"/><rect x="413" y="144.48" width="1" height="98" fill="url(#cm2)" transform="translate(0,-1.98)"/><rect x="414" y="143.79" width="1" height="98" fill="url(#cm2)" transform="translate(0,-1.29)"/><rect x="415" y="143.07" width="1" height="98" fill="url(#cm2)" transform="translate(0,-0.57)"/><rect x="416" y="142.33" width="1" height="98" fill="url(#cm2)" transform="translate(0,0.17)"/><rect x="417" y="141.58" width="1" height="98" fill="url(#cm2)" transform="translate(0,0.92)"/><rect x="418" y="140.82" width="1" height="98" fill="url(#cm2)" transform="translate(0,1.68)"/><rect x="419" y="140.05" width="1" height="98" fill="url(#cm2)" transform="translate(0,2.45)"/><rect x="420" y="139.26" width="1" height="98" fill="url(#cm2)" transform="translate(0,3.24)"/><rect x="421" y="138.46" width="1" height="98" fill="url(#cm2)" transform="translate(0,4.04)"/><rect x="422" y="137.64" width="1" height="98" fill="url(#cm2)" transform="translate(0,4.86)"/><rect x="423" y="136.82" width="1" height="98" fill="url(#cm2)" transform="translate(0,5.68)"/><rect x="424" y="135.97" width="1" height="98" fill="url(#cm2)" transform="translate(0,6.53)"/><rect x="425" y="135.11" width="1" height="98" fill="url(#cm2)" transform="translate(0,7.39)"/><rect x="426" y="134.24" width="1" height="98" fill="url(#cm2)" transform="translate(0,8.26)"/><rect x="427" y="133.35" width="1" height="98" fill="url(#cm2)" transform="translate(0,9.15)"/></g></g>
<rect x="310.4" y="237.5" width="117.1" height="3" fill="#f6f9ff"/>
<rect x="310.4" y="236.3" width="18.6" height="1.3" fill="#5c98f0"/>
<rect x="392" y="236.3" width="35.5" height="1.3" fill="#5c98f0"/>
<rect x="310.4" y="142.5" width="117.1" height="98" fill="none" stroke="#8a8a8a" stroke-width="0.9"/>
<line x1="310.4" y1="228.25" x2="312.4" y2="228.25" stroke="#555" stroke-width="0.8"/>
<line x1="427.5" y1="228.25" x2="425.5" y2="228.25" stroke="#555" stroke-width="0.8"/>
<line x1="310.4" y1="216" x2="312.4" y2="216" stroke="#555" stroke-width="0.8"/>
<line x1="427.5" y1="216" x2="425.5" y2="216" stroke="#555" stroke-width="0.8"/>
<line x1="310.4" y1="203.75" x2="312.4" y2="203.75" stroke="#555" stroke-width="0.8"/>
<line x1="427.5" y1="203.75" x2="425.5" y2="203.75" stroke="#555" stroke-width="0.8"/>
<line x1="310.4" y1="191.5" x2="312.4" y2="191.5" stroke="#555" stroke-width="0.8"/>
<line x1="427.5" y1="191.5" x2="425.5" y2="191.5" stroke="#555" stroke-width="0.8"/>
<line x1="310.4" y1="179.25" x2="312.4" y2="179.25" stroke="#555" stroke-width="0.8"/>
<line x1="427.5" y1="179.25" x2="425.5" y2="179.25" stroke="#555" stroke-width="0.8"/>
<line x1="310.4" y1="167" x2="312.4" y2="167" stroke="#555" stroke-width="0.8"/>
<line x1="427.5" y1="167" x2="425.5" y2="167" stroke="#555" stroke-width="0.8"/>
<line x1="310.4" y1="154.75" x2="312.4" y2="154.75" stroke="#555" stroke-width="0.8"/>
<line x1="427.5" y1="154.75" x2="425.5" y2="154.75" stroke="#555" stroke-width="0.8"/>
<line x1="336.91" y1="240.5" x2="336.91" y2="238.5" stroke="#555" stroke-width="0.8"/>
<line x1="336.91" y1="142.5" x2="336.91" y2="144.5" stroke="#555" stroke-width="0.8"/>
<line x1="363.42" y1="240.5" x2="363.42" y2="238.5" stroke="#555" stroke-width="0.8"/>
<line x1="363.42" y1="142.5" x2="363.42" y2="144.5" stroke="#555" stroke-width="0.8"/>
<line x1="389.92" y1="240.5" x2="389.92" y2="238.5" stroke="#555" stroke-width="0.8"/>
<line x1="389.92" y1="142.5" x2="389.92" y2="144.5" stroke="#555" stroke-width="0.8"/>
<line x1="416.43" y1="240.5" x2="416.43" y2="238.5" stroke="#555" stroke-width="0.8"/>
<line x1="416.43" y1="142.5" x2="416.43" y2="144.5" stroke="#555" stroke-width="0.8"/>
<text x="317" y="157.9" font-size="8" text-anchor="start" fill="#1a1a1a" ><tspan>[BrBPP]</tspan><tspan dy="3" font-size="5.44">2</tspan><tspan dy="-3">[MnBr</tspan><tspan dy="3" font-size="5.44">4</tspan><tspan dy="-3">]</tspan></text>
<g clip-path="url(#hc3)"><g filter="url(#streak3)" shape-rendering="crispEdges"><rect x="46" y="252.98" width="1" height="98.6" fill="url(#cm3)" transform="translate(0,-3.28)"/><rect x="47" y="255.24" width="1" height="98.6" fill="url(#cm3)" transform="translate(0,-5.54)"/><rect x="48" y="257.44" width="1" height="98.6" fill="url(#cm3)" transform="translate(0,-7.74)"/><rect x="49" y="259.58" width="1" height="98.6" fill="url(#cm3)" transform="translate(0,-9.88)"/><rect x="50" y="261.63" width="1" height="98.6" fill="url(#cm3)" transform="translate(0,-11.93)"/><rect x="51" y="263.68" width="1" height="98.6" fill="url(#cm3)" transform="translate(0,-13.98)"/><rect x="52" y="265.74" width="1" height="98.6" fill="url(#cm3)" transform="translate(0,-16.04)"/><rect x="53" y="267.75" width="1" height="98.6" fill="url(#cm3)" transform="translate(0,-18.05)"/><rect x="54" y="269.67" width="1" height="98.6" fill="url(#cm3)" transform="translate(0,-19.97)"/><rect x="55" y="271.44" width="1" height="98.6" fill="url(#cm3)" transform="translate(0,-21.74)"/><rect x="56" y="273.01" width="1" height="98.6" fill="url(#cm3)" transform="translate(0,-23.31)"/><rect x="57" y="274.36" width="1" height="98.6" fill="url(#cm3)" transform="translate(0,-24.66)"/><rect x="58" y="275.62" width="1" height="98.6" fill="url(#cm3)" transform="translate(0,-25.92)"/><rect x="59" y="276.81" width="1" height="98.6" fill="url(#cm3)" transform="translate(0,-27.11)"/><rect x="60" y="277.94" width="1" height="98.6" fill="url(#cm3)" transform="translate(0,-28.24)"/><rect x="61" y="279.01" width="1" height="98.6" fill="url(#cm3)" transform="translate(0,-29.31)"/><rect x="62" y="280.03" width="1" height="98.6" fill="url(#cm3)" transform="translate(0,-30.33)"/><rect x="63" y="281" width="1" height="98.6" fill="url(#cm3)" transform="translate(0,-31.3)"/><rect x="64" y="281.92" width="1" height="98.6" fill="url(#cm3)" transform="translate(0,-32.22)"/><rect x="65" y="282.8" width="1" height="98.6" fill="url(#cm3)" transform="translate(0,-33.1)"/><rect x="66" y="283.64" width="1" height="98.6" fill="url(#cm3)" transform="translate(0,-33.94)"/><rect x="67" y="284.45" width="1" height="98.6" fill="url(#cm3)" transform="translate(0,-34.75)"/><rect x="68" y="285.22" width="1" height="98.6" fill="url(#cm3)" transform="translate(0,-35.52)"/><rect x="69" y="285.97" width="1" height="98.6" fill="url(#cm3)" transform="translate(0,-36.27)"/><rect x="70" y="286.71" width="1" height="98.6" fill="url(#cm3)" transform="translate(0,-37.01)"/><rect x="71" y="287.45" width="1" height="98.6" fill="url(#cm3)" transform="translate(0,-37.75)"/><rect x="72" y="288.2" width="1" height="98.6" fill="url(#cm3)" transform="translate(0,-38.5)"/><rect x="73" y="288.92" width="1" height="98.6" fill="url(#cm3)" transform="translate(0,-39.22)"/><rect x="74" y="289.63" width="1" height="98.6" fill="url(#cm3)" transform="translate(0,-39.93)"/><rect x="75" y="290.31" width="1" height="98.6" fill="url(#cm3)" transform="translate(0,-40.61)"/><rect x="76" y="290.95" width="1" height="98.6" fill="url(#cm3)" transform="translate(0,-41.25)"/><rect x="77" y="291.54" width="1" height="98.6" fill="url(#cm3)" transform="translate(0,-41.84)"/><rect x="78" y="292.08" width="1" height="98.6" fill="url(#cm3)" transform="translate(0,-42.38)"/><rect x="79" y="292.55" width="1" height="98.6" fill="url(#cm3)" transform="translate(0,-42.85)"/><rect x="80" y="292.95" width="1" height="98.6" fill="url(#cm3)" transform="translate(0,-43.25)"/><rect x="81" y="293.26" width="1" height="98.6" fill="url(#cm3)" transform="translate(0,-43.56)"/><rect x="82" y="293.49" width="1" height="98.6" fill="url(#cm3)" transform="translate(0,-43.79)"/><rect x="83" y="293.7" width="1" height="98.6" fill="url(#cm3)" transform="translate(0,-44)"/><rect x="84" y="293.9" width="1" height="98.6" fill="url(#cm3)" transform="translate(0,-44.2)"/><rect x="85" y="294.09" width="1" height="98.6" fill="url(#cm3)" transform="translate(0,-44.39)"/><rect x="86" y="294.27" width="1" height="98.6" fill="url(#cm3)" transform="translate(0,-44.57)"/><rect x="87" y="294.45" width="1" height="98.6" fill="url(#cm3)" transform="translate(0,-44.75)"/><rect x="88" y="294.62" width="1" height="98.6" fill="url(#cm3)" transform="translate(0,-44.92)"/><rect x="89" y="294.78" width="1" height="98.6" fill="url(#cm3)" transform="translate(0,-45.08)"/><rect x="90" y="294.93" width="1" height="98.6" fill="url(#cm3)" transform="translate(0,-45.23)"/><rect x="91" y="295.07" width="1" height="98.6" fill="url(#cm3)" transform="translate(0,-45.37)"/><rect x="92" y="295.2" width="1" height="98.6" fill="url(#cm3)" transform="translate(0,-45.5)"/><rect x="93" y="295.33" width="1" height="98.6" fill="url(#cm3)" transform="translate(0,-45.63)"/><rect x="94" y="295.44" width="1" height="98.6" fill="url(#cm3)" transform="translate(0,-45.74)"/><rect x="95" y="295.54" width="1" height="98.6" fill="url(#cm3)" transform="translate(0,-45.84)"/><rect x="96" y="295.62" width="1" height="98.6" fill="url(#cm3)" transform="translate(0,-45.92)"/><rect x="97" y="295.7" width="1" height="98.6" fill="url(#cm3)" transform="translate(0,-46)"/><rect x="98" y="295.76" width="1" height="98.6" fill="url(#cm3)" transform="translate(0,-46.06)"/><rect x="99" y="295.81" width="1" height="98.6" fill="url(#cm3)" transform="translate(0,-46.11)"/><rect x="100" y="295.85" width="1" height="98.6" fill="url(#cm3)" transform="translate(0,-46.15)"/><rect x="101" y="295.88" width="1" height="98.6" fill="url(#cm3)" transform="translate(0,-46.18)"/><rect x="102" y="295.89" width="1" height="98.6" fill="url(#cm3)" transform="translate(0,-46.19)"/><rect x="103" y="295.88" width="1" height="98.6" fill="url(#cm3)" transform="translate(0,-46.18)"/><rect x="104" y="295.85" width="1" height="98.6" fill="url(#cm3)" transform="translate(0,-46.15)"/><rect x="105" y="295.8" width="1" height="98.6" fill="url(#cm3)" transform="translate(0,-46.1)"/><rect x="106" y="295.73" width="1" height="98.6" fill="url(#cm3)" transform="translate(0,-46.03)"/><rect x="107" y="295.64" width="1" height="98.6" fill="url(#cm3)" transform="translate(0,-45.94)"/><rect x="108" y="295.53" width="1" height="98.6" fill="url(#cm3)" transform="translate(0,-45.83)"/><rect x="109" y="295.41" width="1" height="98.6" fill="url(#cm3)" transform="translate(0,-45.71)"/><rect x="110" y="295.27" width="1" height="98.6" fill="url(#cm3)" transform="translate(0,-45.57)"/><rect x="111" y="295.12" width="1" height="98.6" fill="url(#cm3)" transform="translate(0,-45.42)"/><rect x="112" y="294.95" width="1" height="98.6" fill="url(#cm3)" transform="translate(0,-45.25)"/><rect x="113" y="294.77" width="1" height="98.6" fill="url(#cm3)" transform="translate(0,-45.07)"/><rect x="114" y="294.58" width="1" height="98.6" fill="url(#cm3)" transform="translate(0,-44.88)"/><rect x="115" y="294.39" width="1" height="98.6" fill="url(#cm3)" transform="translate(0,-44.69)"/><rect x="116" y="294.18" width="1" height="98.6" fill="url(#cm3)" transform="translate(0,-44.48)"/><rect x="117" y="293.96" width="1" height="98.6" fill="url(#cm3)" transform="translate(0,-44.26)"/><rect x="118" y="293.74" width="1" height="98.6" fill="url(#cm3)" transform="translate(0,-44.04)"/><rect x="119" y="293.51" width="1" height="98.6" fill="url(#cm3)" transform="translate(0,-43.81)"/><rect x="120" y="293.27" width="1" height="98.6" fill="url(#cm3)" transform="translate(0,-43.57)"/><rect x="121" y="292.96" width="1" height="98.6" fill="url(#cm3)" transform="translate(0,-43.26)"/><rect x="122" y="292.58" width="1" height="98.6" fill="url(#cm3)" transform="translate(0,-42.88)"/><rect x="123" y="292.14" width="1" height="98.6" fill="url(#cm3)" transform="translate(0,-42.44)"/><rect x="124" y="291.65" width="1" height="98.6" fill="url(#cm3)" transform="translate(0,-41.95)"/><rect x="125" y="291.11" width="1" height="98.6" fill="url(#cm3)" transform="translate(0,-41.41)"/><rect x="126" y="290.53" width="1" height="98.6" fill="url(#cm3)" transform="translate(0,-40.83)"/><rect x="127" y="289.92" width="1" height="98.6" fill="url(#cm3)" transform="translate(0,-40.22)"/><rect x="128" y="289.28" width="1" height="98.6" fill="url(#cm3)" transform="translate(0,-39.58)"/><rect x="129" y="288.61" width="1" height="98.6" fill="url(#cm3)" transform="translate(0,-38.91)"/><rect x="130" y="287.94" width="1" height="98.6" fill="url(#cm3)" transform="translate(0,-38.24)"/><rect x="131" y="287.25" width="1" height="98.6" fill="url(#cm3)" transform="translate(0,-37.55)"/><rect x="132" y="286.56" width="1" height="98.6" fill="url(#cm3)" transform="translate(0,-36.86)"/><rect x="133" y="285.88" width="1" height="98.6" fill="url(#cm3)" transform="translate(0,-36.18)"/><rect x="134" y="285.21" width="1" height="98.6" fill="url(#cm3)" transform="translate(0,-35.51)"/><rect x="135" y="284.55" width="1" height="98.6" fill="url(#cm3)" transform="translate(0,-34.85)"/><rect x="136" y="283.87" width="1" height="98.6" fill="url(#cm3)" transform="translate(0,-34.17)"/><rect x="137" y="283.15" width="1" height="98.6" fill="url(#cm3)" transform="translate(0,-33.45)"/><rect x="138" y="282.42" width="1" height="98.6" fill="url(#cm3)" transform="translate(0,-32.72)"/><rect x="139" y="281.66" width="1" height="98.6" fill="url(#cm3)" transform="translate(0,-31.96)"/><rect x="140" y="280.88" width="1" height="98.6" fill="url(#cm3)" transform="translate(0,-31.18)"/><rect x="141" y="280.09" width="1" height="98.6" fill="url(#cm3)" transform="translate(0,-30.39)"/><rect x="142" y="279.28" width="1" height="98.6" fill="url(#cm3)" transform="translate(0,-29.58)"/><rect x="143" y="278.48" width="1" height="98.6" fill="url(#cm3)" transform="translate(0,-28.78)"/><rect x="144" y="277.66" width="1" height="98.6" fill="url(#cm3)" transform="translate(0,-27.96)"/><rect x="145" y="276.86" width="1" height="98.6" fill="url(#cm3)" transform="translate(0,-27.16)"/><rect x="146" y="276.05" width="1" height="98.6" fill="url(#cm3)" transform="translate(0,-26.35)"/><rect x="147" y="275.26" width="1" height="98.6" fill="url(#cm3)" transform="translate(0,-25.56)"/><rect x="148" y="274.48" width="1" height="98.6" fill="url(#cm3)" transform="translate(0,-24.78)"/><rect x="149" y="273.72" width="1" height="98.6" fill="url(#cm3)" transform="translate(0,-24.02)"/><rect x="150" y="272.98" width="1" height="98.6" fill="url(#cm3)" transform="translate(0,-23.28)"/><rect x="151" y="272.25" width="1" height="98.6" fill="url(#cm3)" transform="translate(0,-22.55)"/><rect x="152" y="271.53" width="1" height="98.6" fill="url(#cm3)" transform="translate(0,-21.83)"/><rect x="153" y="270.81" width="1" height="98.6" fill="url(#cm3)" transform="translate(0,-21.11)"/><rect x="154" y="270.1" width="1" height="98.6" fill="url(#cm3)" transform="translate(0,-20.4)"/><rect x="155" y="269.39" width="1" height="98.6" fill="url(#cm3)" transform="translate(0,-19.69)"/><rect x="156" y="268.69" width="1" height="98.6" fill="url(#cm3)" transform="translate(0,-18.99)"/><rect x="157" y="267.99" width="1" height="98.6" fill="url(#cm3)" transform="translate(0,-18.29)"/><rect x="158" y="267.3" width="1" height="98.6" fill="url(#cm3)" transform="translate(0,-17.6)"/><rect x="159" y="266.61" width="1" height="98.6" fill="url(#cm3)" transform="translate(0,-16.91)"/><rect x="160" y="265.93" width="1" height="98.6" fill="url(#cm3)" transform="translate(0,-16.23)"/><rect x="161" y="265.25" width="1" height="98.6" fill="url(#cm3)" transform="translate(0,-15.55)"/><rect x="162" y="264.58" width="1" height="98.6" fill="url(#cm3)" transform="translate(0,-14.88)"/><rect x="163" y="263.91" width="1" height="98.6" fill="url(#cm3)" transform="translate(0,-14.21)"/></g></g>
<ellipse cx="96" cy="348.3" rx="25" ry="5.5" fill="url(#yb)" opacity="0.85" clip-path="url(#hc3)"/>
<rect x="46.4" y="249.7" width="117" height="98.6" fill="none" stroke="#8a8a8a" stroke-width="0.9"/>
<line x1="46.4" y1="335.98" x2="48.4" y2="335.98" stroke="#555" stroke-width="0.8"/>
<line x1="163.4" y1="335.98" x2="161.4" y2="335.98" stroke="#555" stroke-width="0.8"/>
<line x1="46.4" y1="323.65" x2="48.4" y2="323.65" stroke="#555" stroke-width="0.8"/>
<line x1="163.4" y1="323.65" x2="161.4" y2="323.65" stroke="#555" stroke-width="0.8"/>
<line x1="46.4" y1="311.32" x2="48.4" y2="311.32" stroke="#555" stroke-width="0.8"/>
<line x1="163.4" y1="311.32" x2="161.4" y2="311.32" stroke="#555" stroke-width="0.8"/>
<line x1="46.4" y1="299" x2="48.4" y2="299" stroke="#555" stroke-width="0.8"/>
<line x1="163.4" y1="299" x2="161.4" y2="299" stroke="#555" stroke-width="0.8"/>
<line x1="46.4" y1="286.68" x2="48.4" y2="286.68" stroke="#555" stroke-width="0.8"/>
<line x1="163.4" y1="286.68" x2="161.4" y2="286.68" stroke="#555" stroke-width="0.8"/>
<line x1="46.4" y1="274.35" x2="48.4" y2="274.35" stroke="#555" stroke-width="0.8"/>
<line x1="163.4" y1="274.35" x2="161.4" y2="274.35" stroke="#555" stroke-width="0.8"/>
<line x1="46.4" y1="262.02" x2="48.4" y2="262.02" stroke="#555" stroke-width="0.8"/>
<line x1="163.4" y1="262.02" x2="161.4" y2="262.02" stroke="#555" stroke-width="0.8"/>
<line x1="72.89" y1="348.3" x2="72.89" y2="346.3" stroke="#555" stroke-width="0.8"/>
<line x1="72.89" y1="249.7" x2="72.89" y2="251.7" stroke="#555" stroke-width="0.8"/>
<line x1="99.37" y1="348.3" x2="99.37" y2="346.3" stroke="#555" stroke-width="0.8"/>
<line x1="99.37" y1="249.7" x2="99.37" y2="251.7" stroke="#555" stroke-width="0.8"/>
<line x1="125.86" y1="348.3" x2="125.86" y2="346.3" stroke="#555" stroke-width="0.8"/>
<line x1="125.86" y1="249.7" x2="125.86" y2="251.7" stroke="#555" stroke-width="0.8"/>
<line x1="152.34" y1="348.3" x2="152.34" y2="346.3" stroke="#555" stroke-width="0.8"/>
<line x1="152.34" y1="249.7" x2="152.34" y2="251.7" stroke="#555" stroke-width="0.8"/>
<text x="53" y="265.1" font-size="8" text-anchor="start" fill="#1a1a1a" ><tspan>a</tspan><tspan dy="3" font-size="5.44">g</tspan><tspan dy="-3">-[BuTPP]</tspan><tspan dy="3" font-size="5.44">2</tspan><tspan dy="-3">[MnBr</tspan><tspan dy="3" font-size="5.44">4</tspan><tspan dy="-3">]</tspan></text>
<text x="46.4" y="364.4" font-size="10.5" text-anchor="middle" fill="#1a1a1a">460</text>
<text x="99.37" y="364.4" font-size="10.5" text-anchor="middle" fill="#1a1a1a">540</text>
<text x="152.34" y="364.4" font-size="10.5" text-anchor="middle" fill="#1a1a1a">620</text>
<g clip-path="url(#hc4)"><g filter="url(#streak4)" shape-rendering="crispEdges"><rect x="178" y="249.1" width="1" height="98.6" fill="url(#cm4)" transform="translate(0,0.6)"/><rect x="179" y="251.18" width="1" height="98.6" fill="url(#cm4)" transform="translate(0,-1.48)"/><rect x="180" y="253.21" width="1" height="98.6" fill="url(#cm4)" transform="translate(0,-3.51)"/><rect x="181" y="255.17" width="1" height="98.6" fill="url(#cm4)" transform="translate(0,-5.47)"/><rect x="182" y="257.04" width="1" height="98.6" fill="url(#cm4)" transform="translate(0,-7.34)"/><rect x="183" y="258.83" width="1" height="98.6" fill="url(#cm4)" transform="translate(0,-9.13)"/><rect x="184" y="260.58" width="1" height="98.6" fill="url(#cm4)" transform="translate(0,-10.88)"/><rect x="185" y="262.27" width="1" height="98.6" fill="url(#cm4)" transform="translate(0,-12.57)"/><rect x="186" y="263.93" width="1" height="98.6" fill="url(#cm4)" transform="translate(0,-14.23)"/><rect x="187" y="265.56" width="1" height="98.6" fill="url(#cm4)" transform="translate(0,-15.86)"/><rect x="188" y="267.16" width="1" height="98.6" fill="url(#cm4)" transform="translate(0,-17.46)"/><rect x="189" y="268.75" width="1" height="98.6" fill="url(#cm4)" transform="translate(0,-19.05)"/><rect x="190" y="270.3" width="1" height="98.6" fill="url(#cm4)" transform="translate(0,-20.6)"/><rect x="191" y="271.83" width="1" height="98.6" fill="url(#cm4)" transform="translate(0,-22.13)"/><rect x="192" y="273.33" width="1" height="98.6" fill="url(#cm4)" transform="translate(0,-23.63)"/><rect x="193" y="274.8" width="1" height="98.6" fill="url(#cm4)" transform="translate(0,-25.1)"/><rect x="194" y="276.24" width="1" height="98.6" fill="url(#cm4)" transform="translate(0,-26.54)"/><rect x="195" y="277.75" width="1" height="98.6" fill="url(#cm4)" transform="translate(0,-28.05)"/><rect x="196" y="279.3" width="1" height="98.6" fill="url(#cm4)" transform="translate(0,-29.6)"/><rect x="197" y="280.81" width="1" height="98.6" fill="url(#cm4)" transform="translate(0,-31.11)"/><rect x="198" y="282.19" width="1" height="98.6" fill="url(#cm4)" transform="translate(0,-32.49)"/><rect x="199" y="283.35" width="1" height="98.6" fill="url(#cm4)" transform="translate(0,-33.65)"/><rect x="200" y="284.23" width="1" height="98.6" fill="url(#cm4)" transform="translate(0,-34.53)"/><rect x="201" y="284.96" width="1" height="98.6" fill="url(#cm4)" transform="translate(0,-35.26)"/><rect x="202" y="285.66" width="1" height="98.6" fill="url(#cm4)" transform="translate(0,-35.96)"/><rect x="203" y="286.31" width="1" height="98.6" fill="url(#cm4)" transform="translate(0,-36.61)"/><rect x="204" y="286.91" width="1" height="98.6" fill="url(#cm4)" transform="translate(0,-37.21)"/><rect x="205" y="287.46" width="1" height="98.6" fill="url(#cm4)" transform="translate(0,-37.76)"/><rect x="206" y="287.95" width="1" height="98.6" fill="url(#cm4)" transform="translate(0,-38.25)"/><rect x="207" y="288.37" width="1" height="98.6" fill="url(#cm4)" transform="translate(0,-38.67)"/><rect x="208" y="288.71" width="1" height="98.6" fill="url(#cm4)" transform="translate(0,-39.01)"/><rect x="209" y="288.97" width="1" height="98.6" fill="url(#cm4)" transform="translate(0,-39.27)"/><rect x="210" y="289.14" width="1" height="98.6" fill="url(#cm4)" transform="translate(0,-39.44)"/><rect x="211" y="289.26" width="1" height="98.6" fill="url(#cm4)" transform="translate(0,-39.56)"/><rect x="212" y="289.37" width="1" height="98.6" fill="url(#cm4)" transform="translate(0,-39.67)"/><rect x="213" y="289.47" width="1" height="98.6" fill="url(#cm4)" transform="translate(0,-39.77)"/><rect x="214" y="289.57" width="1" height="98.6" fill="url(#cm4)" transform="translate(0,-39.87)"/><rect x="215" y="289.66" width="1" height="98.6" fill="url(#cm4)" transform="translate(0,-39.96)"/><rect x="216" y="289.75" width="1" height="98.6" fill="url(#cm4)" transform="translate(0,-40.05)"/><rect x="217" y="289.82" width="1" height="98.6" fill="url(#cm4)" transform="translate(0,-40.12)"/><rect x="218" y="289.9" width="1" height="98.6" fill="url(#cm4)" transform="translate(0,-40.2)"/><rect x="219" y="289.96" width="1" height="98.6" fill="url(#cm4)" transform="translate(0,-40.26)"/><rect x="220" y="290.02" width="1" height="98.6" fill="url(#cm4)" transform="translate(0,-40.32)"/><rect x="221" y="290.08" width="1" height="98.6" fill="url(#cm4)" transform="translate(0,-40.38)"/><rect x="222" y="290.12" width="1" height="98.6" fill="url(#cm4)" transform="translate(0,-40.42)"/><rect x="223" y="290.16" width="1" height="98.6" fill="url(#cm4)" transform="translate(0,-40.46)"/><rect x="224" y="290.2" width="1" height="98.6" fill="url(#cm4)" transform="translate(0,-40.5)"/><rect x="225" y="290.23" width="1" height="98.6" fill="url(#cm4)" transform="translate(0,-40.53)"/><rect x="226" y="290.25" width="1" height="98.6" fill="url(#cm4)" transform="translate(0,-40.55)"/><rect x="227" y="290.26" width="1" height="98.6" fill="url(#cm4)" transform="translate(0,-40.56)"/><rect x="228" y="290.26" width="1" height="98.6" fill="url(#cm4)" transform="translate(0,-40.56)"/><rect x="229" y="290.26" width="1" height="98.6" fill="url(#cm4)" transform="translate(0,-40.56)"/><rect x="230" y="290.26" width="1" height="98.6" fill="url(#cm4)" transform="translate(0,-40.56)"/><rect x="231" y="290.26" width="1" height="98.6" fill="url(#cm4)" transform="translate(0,-40.56)"/><rect x="232" y="290.26" width="1" height="98.6" fill="url(#cm4)" transform="translate(0,-40.56)"/><rect x="233" y="290.26" width="1" height="98.6" fill="url(#cm4)" transform="translate(0,-40.56)"/><rect x="234" y="290.26" width="1" height="98.6" fill="url(#cm4)" transform="translate(0,-40.56)"/><rect x="235" y="290.26" width="1" height="98.6" fill="url(#cm4)" transform="translate(0,-40.56)"/><rect x="236" y="290.26" width="1" height="98.6" fill="url(#cm4)" transform="translate(0,-40.56)"/><rect x="237" y="290.24" width="1" height="98.6" fill="url(#cm4)" transform="translate(0,-40.54)"/><rect x="238" y="290.2" width="1" height="98.6" fill="url(#cm4)" transform="translate(0,-40.5)"/><rect x="239" y="290.14" width="1" height="98.6" fill="url(#cm4)" transform="translate(0,-40.44)"/><rect x="240" y="290.06" width="1" height="98.6" fill="url(#cm4)" transform="translate(0,-40.36)"/><rect x="241" y="289.97" width="1" height="98.6" fill="url(#cm4)" transform="translate(0,-40.27)"/><rect x="242" y="289.87" width="1" height="98.6" fill="url(#cm4)" transform="translate(0,-40.17)"/><rect x="243" y="289.75" width="1" height="98.6" fill="url(#cm4)" transform="translate(0,-40.05)"/><rect x="244" y="289.62" width="1" height="98.6" fill="url(#cm4)" transform="translate(0,-39.92)"/><rect x="245" y="289.47" width="1" height="98.6" fill="url(#cm4)" transform="translate(0,-39.77)"/><rect x="246" y="289.31" width="1" height="98.6" fill="url(#cm4)" transform="translate(0,-39.61)"/><rect x="247" y="289.14" width="1" height="98.6" fill="url(#cm4)" transform="translate(0,-39.44)"/><rect x="248" y="288.96" width="1" height="98.6" fill="url(#cm4)" transform="translate(0,-39.26)"/><rect x="249" y="288.77" width="1" height="98.6" fill="url(#cm4)" transform="translate(0,-39.07)"/><rect x="250" y="288.57" width="1" height="98.6" fill="url(#cm4)" transform="translate(0,-38.87)"/><rect x="251" y="288.36" width="1" height="98.6" fill="url(#cm4)" transform="translate(0,-38.66)"/><rect x="252" y="288.14" width="1" height="98.6" fill="url(#cm4)" transform="translate(0,-38.44)"/><rect x="253" y="287.92" width="1" height="98.6" fill="url(#cm4)" transform="translate(0,-38.22)"/><rect x="254" y="287.69" width="1" height="98.6" fill="url(#cm4)" transform="translate(0,-37.99)"/><rect x="255" y="287.45" width="1" height="98.6" fill="url(#cm4)" transform="translate(0,-37.75)"/><rect x="256" y="287.2" width="1" height="98.6" fill="url(#cm4)" transform="translate(0,-37.5)"/><rect x="257" y="286.88" width="1" height="98.6" fill="url(#cm4)" transform="translate(0,-37.18)"/><rect x="258" y="286.48" width="1" height="98.6" fill="url(#cm4)" transform="translate(0,-36.78)"/><rect x="259" y="286.01" width="1" height="98.6" fill="url(#cm4)" transform="translate(0,-36.31)"/><rect x="260" y="285.48" width="1" height="98.6" fill="url(#cm4)" transform="translate(0,-35.78)"/><rect x="261" y="284.9" width="1" height="98.6" fill="url(#cm4)" transform="translate(0,-35.2)"/><rect x="262" y="284.27" width="1" height="98.6" fill="url(#cm4)" transform="translate(0,-34.57)"/><rect x="263" y="283.61" width="1" height="98.6" fill="url(#cm4)" transform="translate(0,-33.91)"/><rect x="264" y="282.93" width="1" height="98.6" fill="url(#cm4)" transform="translate(0,-33.23)"/><rect x="265" y="282.23" width="1" height="98.6" fill="url(#cm4)" transform="translate(0,-32.53)"/><rect x="266" y="281.53" width="1" height="98.6" fill="url(#cm4)" transform="translate(0,-31.83)"/><rect x="267" y="280.82" width="1" height="98.6" fill="url(#cm4)" transform="translate(0,-31.12)"/><rect x="268" y="280.13" width="1" height="98.6" fill="url(#cm4)" transform="translate(0,-30.43)"/><rect x="269" y="279.46" width="1" height="98.6" fill="url(#cm4)" transform="translate(0,-29.76)"/><rect x="270" y="278.82" width="1" height="98.6" fill="url(#cm4)" transform="translate(0,-29.12)"/><rect x="271" y="278.18" width="1" height="98.6" fill="url(#cm4)" transform="translate(0,-28.48)"/><rect x="272" y="277.53" width="1" height="98.6" fill="url(#cm4)" transform="translate(0,-27.83)"/><rect x="273" y="276.86" width="1" height="98.6" fill="url(#cm4)" transform="translate(0,-27.16)"/><rect x="274" y="276.2" width="1" height="98.6" fill="url(#cm4)" transform="translate(0,-26.5)"/><rect x="275" y="275.52" width="1" height="98.6" fill="url(#cm4)" transform="translate(0,-25.82)"/><rect x="276" y="274.84" width="1" height="98.6" fill="url(#cm4)" transform="translate(0,-25.14)"/><rect x="277" y="274.15" width="1" height="98.6" fill="url(#cm4)" transform="translate(0,-24.45)"/><rect x="278" y="273.46" width="1" height="98.6" fill="url(#cm4)" transform="translate(0,-23.76)"/><rect x="279" y="272.77" width="1" height="98.6" fill="url(#cm4)" transform="translate(0,-23.07)"/><rect x="280" y="272.08" width="1" height="98.6" fill="url(#cm4)" transform="translate(0,-22.38)"/><rect x="281" y="271.39" width="1" height="98.6" fill="url(#cm4)" transform="translate(0,-21.69)"/><rect x="282" y="270.7" width="1" height="98.6" fill="url(#cm4)" transform="translate(0,-21)"/><rect x="283" y="270" width="1" height="98.6" fill="url(#cm4)" transform="translate(0,-20.3)"/><rect x="284" y="269.28" width="1" height="98.6" fill="url(#cm4)" transform="translate(0,-19.58)"/><rect x="285" y="268.55" width="1" height="98.6" fill="url(#cm4)" transform="translate(0,-18.85)"/><rect x="286" y="267.82" width="1" height="98.6" fill="url(#cm4)" transform="translate(0,-18.12)"/><rect x="287" y="267.09" width="1" height="98.6" fill="url(#cm4)" transform="translate(0,-17.39)"/><rect x="288" y="266.37" width="1" height="98.6" fill="url(#cm4)" transform="translate(0,-16.67)"/><rect x="289" y="265.67" width="1" height="98.6" fill="url(#cm4)" transform="translate(0,-15.97)"/><rect x="290" y="264.99" width="1" height="98.6" fill="url(#cm4)" transform="translate(0,-15.29)"/><rect x="291" y="264.33" width="1" height="98.6" fill="url(#cm4)" transform="translate(0,-14.63)"/><rect x="292" y="263.71" width="1" height="98.6" fill="url(#cm4)" transform="translate(0,-14.01)"/><rect x="293" y="263.14" width="1" height="98.6" fill="url(#cm4)" transform="translate(0,-13.44)"/><rect x="294" y="262.6" width="1" height="98.6" fill="url(#cm4)" transform="translate(0,-12.9)"/><rect x="295" y="262.09" width="1" height="98.6" fill="url(#cm4)" transform="translate(0,-12.39)"/></g></g>
<ellipse cx="226" cy="348.3" rx="25" ry="5" fill="url(#yb)" opacity="0.85" clip-path="url(#hc4)"/>
<rect x="178.5" y="249.7" width="116.9" height="98.6" fill="none" stroke="#8a8a8a" stroke-width="0.9"/>
<line x1="178.5" y1="335.98" x2="180.5" y2="335.98" stroke="#555" stroke-width="0.8"/>
<line x1="295.4" y1="335.98" x2="293.4" y2="335.98" stroke="#555" stroke-width="0.8"/>
<line x1="178.5" y1="323.65" x2="180.5" y2="323.65" stroke="#555" stroke-width="0.8"/>
<line x1="295.4" y1="323.65" x2="293.4" y2="323.65" stroke="#555" stroke-width="0.8"/>
<line x1="178.5" y1="311.32" x2="180.5" y2="311.32" stroke="#555" stroke-width="0.8"/>
<line x1="295.4" y1="311.32" x2="293.4" y2="311.32" stroke="#555" stroke-width="0.8"/>
<line x1="178.5" y1="299" x2="180.5" y2="299" stroke="#555" stroke-width="0.8"/>
<line x1="295.4" y1="299" x2="293.4" y2="299" stroke="#555" stroke-width="0.8"/>
<line x1="178.5" y1="286.68" x2="180.5" y2="286.68" stroke="#555" stroke-width="0.8"/>
<line x1="295.4" y1="286.68" x2="293.4" y2="286.68" stroke="#555" stroke-width="0.8"/>
<line x1="178.5" y1="274.35" x2="180.5" y2="274.35" stroke="#555" stroke-width="0.8"/>
<line x1="295.4" y1="274.35" x2="293.4" y2="274.35" stroke="#555" stroke-width="0.8"/>
<line x1="178.5" y1="262.02" x2="180.5" y2="262.02" stroke="#555" stroke-width="0.8"/>
<line x1="295.4" y1="262.02" x2="293.4" y2="262.02" stroke="#555" stroke-width="0.8"/>
<line x1="204.96" y1="348.3" x2="204.96" y2="346.3" stroke="#555" stroke-width="0.8"/>
<line x1="204.96" y1="249.7" x2="204.96" y2="251.7" stroke="#555" stroke-width="0.8"/>
<line x1="231.43" y1="348.3" x2="231.43" y2="346.3" stroke="#555" stroke-width="0.8"/>
<line x1="231.43" y1="249.7" x2="231.43" y2="251.7" stroke="#555" stroke-width="0.8"/>
<line x1="257.89" y1="348.3" x2="257.89" y2="346.3" stroke="#555" stroke-width="0.8"/>
<line x1="257.89" y1="249.7" x2="257.89" y2="251.7" stroke="#555" stroke-width="0.8"/>
<line x1="284.35" y1="348.3" x2="284.35" y2="346.3" stroke="#555" stroke-width="0.8"/>
<line x1="284.35" y1="249.7" x2="284.35" y2="251.7" stroke="#555" stroke-width="0.8"/>
<text x="185.1" y="265.1" font-size="8" text-anchor="start" fill="#1a1a1a" ><tspan>a</tspan><tspan dy="3" font-size="5.44">g</tspan><tspan dy="-3">-[BPP]</tspan><tspan dy="3" font-size="5.44">2</tspan><tspan dy="-3">[MnBr</tspan><tspan dy="3" font-size="5.44">4</tspan><tspan dy="-3">]</tspan></text>
<text x="178.5" y="364.4" font-size="10.5" text-anchor="middle" fill="#1a1a1a">460</text>
<text x="231.43" y="364.4" font-size="10.5" text-anchor="middle" fill="#1a1a1a">540</text>
<text x="284.35" y="364.4" font-size="10.5" text-anchor="middle" fill="#1a1a1a">620</text>
<g clip-path="url(#hc5)"><g filter="url(#streak5)" shape-rendering="crispEdges"><rect x="311" y="240.07" width="1" height="98.3" fill="url(#cm5)" transform="translate(0,11.23)"/><rect x="312" y="241.59" width="1" height="98.3" fill="url(#cm5)" transform="translate(0,9.71)"/><rect x="313" y="243.08" width="1" height="98.3" fill="url(#cm5)" transform="translate(0,8.22)"/><rect x="314" y="244.54" width="1" height="98.3" fill="url(#cm5)" transform="translate(0,6.76)"/><rect x="315" y="245.96" width="1" height="98.3" fill="url(#cm5)" transform="translate(0,5.34)"/><rect x="316" y="247.34" width="1" height="98.3" fill="url(#cm5)" transform="translate(0,3.96)"/><rect x="317" y="248.69" width="1" height="98.3" fill="url(#cm5)" transform="translate(0,2.61)"/><rect x="318" y="249.98" width="1" height="98.3" fill="url(#cm5)" transform="translate(0,1.32)"/><rect x="319" y="251.24" width="1" height="98.3" fill="url(#cm5)" transform="translate(0,0.06)"/><rect x="320" y="252.45" width="1" height="98.3" fill="url(#cm5)" transform="translate(0,-1.15)"/><rect x="321" y="253.61" width="1" height="98.3" fill="url(#cm5)" transform="translate(0,-2.31)"/><rect x="322" y="254.74" width="1" height="98.3" fill="url(#cm5)" transform="translate(0,-3.44)"/><rect x="323" y="255.84" width="1" height="98.3" fill="url(#cm5)" transform="translate(0,-4.54)"/><rect x="324" y="256.91" width="1" height="98.3" fill="url(#cm5)" transform="translate(0,-5.61)"/><rect x="325" y="257.95" width="1" height="98.3" fill="url(#cm5)" transform="translate(0,-6.65)"/><rect x="326" y="258.95" width="1" height="98.3" fill="url(#cm5)" transform="translate(0,-7.65)"/><rect x="327" y="259.93" width="1" height="98.3" fill="url(#cm5)" transform="translate(0,-8.63)"/><rect x="328" y="260.86" width="1" height="98.3" fill="url(#cm5)" transform="translate(0,-9.56)"/><rect x="329" y="261.76" width="1" height="98.3" fill="url(#cm5)" transform="translate(0,-10.46)"/><rect x="330" y="262.62" width="1" height="98.3" fill="url(#cm5)" transform="translate(0,-11.32)"/><rect x="331" y="263.43" width="1" height="98.3" fill="url(#cm5)" transform="translate(0,-12.13)"/><rect x="332" y="264.22" width="1" height="98.3" fill="url(#cm5)" transform="translate(0,-12.92)"/><rect x="333" y="264.99" width="1" height="98.3" fill="url(#cm5)" transform="translate(0,-13.69)"/><rect x="334" y="265.73" width="1" height="98.3" fill="url(#cm5)" transform="translate(0,-14.43)"/><rect x="335" y="266.44" width="1" height="98.3" fill="url(#cm5)" transform="translate(0,-15.14)"/><rect x="336" y="267.14" width="1" height="98.3" fill="url(#cm5)" transform="translate(0,-15.84)"/><rect x="337" y="267.81" width="1" height="98.3" fill="url(#cm5)" transform="translate(0,-16.51)"/><rect x="338" y="268.45" width="1" height="98.3" fill="url(#cm5)" transform="translate(0,-17.15)"/><rect x="339" y="269.07" width="1" height="98.3" fill="url(#cm5)" transform="translate(0,-17.77)"/><rect x="340" y="269.67" width="1" height="98.3" fill="url(#cm5)" transform="translate(0,-18.37)"/><rect x="341" y="270.24" width="1" height="98.3" fill="url(#cm5)" transform="translate(0,-18.94)"/><rect x="342" y="270.78" width="1" height="98.3" fill="url(#cm5)" transform="translate(0,-19.48)"/><rect x="343" y="271.33" width="1" height="98.3" fill="url(#cm5)" transform="translate(0,-20.03)"/><rect x="344" y="271.89" width="1" height="98.3" fill="url(#cm5)" transform="translate(0,-20.59)"/><rect x="345" y="272.44" width="1" height="98.3" fill="url(#cm5)" transform="translate(0,-21.14)"/><rect x="346" y="272.97" width="1" height="98.3" fill="url(#cm5)" transform="translate(0,-21.67)"/><rect x="347" y="273.49" width="1" height="98.3" fill="url(#cm5)" transform="translate(0,-22.19)"/><rect x="348" y="273.97" width="1" height="98.3" fill="url(#cm5)" transform="translate(0,-22.67)"/><rect x="349" y="274.41" width="1" height="98.3" fill="url(#cm5)" transform="translate(0,-23.11)"/><rect x="350" y="274.81" width="1" height="98.3" fill="url(#cm5)" transform="translate(0,-23.51)"/><rect x="351" y="275.14" width="1" height="98.3" fill="url(#cm5)" transform="translate(0,-23.84)"/><rect x="352" y="275.41" width="1" height="98.3" fill="url(#cm5)" transform="translate(0,-24.11)"/><rect x="353" y="275.61" width="1" height="98.3" fill="url(#cm5)" transform="translate(0,-24.31)"/><rect x="354" y="275.78" width="1" height="98.3" fill="url(#cm5)" transform="translate(0,-24.48)"/><rect x="355" y="275.95" width="1" height="98.3" fill="url(#cm5)" transform="translate(0,-24.65)"/><rect x="356" y="276.11" width="1" height="98.3" fill="url(#cm5)" transform="translate(0,-24.81)"/><rect x="357" y="276.26" width="1" height="98.3" fill="url(#cm5)" transform="translate(0,-24.96)"/><rect x="358" y="276.39" width="1" height="98.3" fill="url(#cm5)" transform="translate(0,-25.09)"/><rect x="359" y="276.51" width="1" height="98.3" fill="url(#cm5)" transform="translate(0,-25.21)"/><rect x="360" y="276.61" width="1" height="98.3" fill="url(#cm5)" transform="translate(0,-25.31)"/><rect x="361" y="276.69" width="1" height="98.3" fill="url(#cm5)" transform="translate(0,-25.39)"/><rect x="362" y="276.74" width="1" height="98.3" fill="url(#cm5)" transform="translate(0,-25.44)"/><rect x="363" y="276.77" width="1" height="98.3" fill="url(#cm5)" transform="translate(0,-25.47)"/><rect x="364" y="276.77" width="1" height="98.3" fill="url(#cm5)" transform="translate(0,-25.47)"/><rect x="365" y="276.73" width="1" height="98.3" fill="url(#cm5)" transform="translate(0,-25.43)"/><rect x="366" y="276.66" width="1" height="98.3" fill="url(#cm5)" transform="translate(0,-25.36)"/><rect x="367" y="276.55" width="1" height="98.3" fill="url(#cm5)" transform="translate(0,-25.25)"/><rect x="368" y="276.41" width="1" height="98.3" fill="url(#cm5)" transform="translate(0,-25.11)"/><rect x="369" y="276.25" width="1" height="98.3" fill="url(#cm5)" transform="translate(0,-24.95)"/><rect x="370" y="276.06" width="1" height="98.3" fill="url(#cm5)" transform="translate(0,-24.76)"/><rect x="371" y="275.85" width="1" height="98.3" fill="url(#cm5)" transform="translate(0,-24.55)"/><rect x="372" y="275.63" width="1" height="98.3" fill="url(#cm5)" transform="translate(0,-24.33)"/><rect x="373" y="275.39" width="1" height="98.3" fill="url(#cm5)" transform="translate(0,-24.09)"/><rect x="374" y="275.14" width="1" height="98.3" fill="url(#cm5)" transform="translate(0,-23.84)"/><rect x="375" y="274.89" width="1" height="98.3" fill="url(#cm5)" transform="translate(0,-23.59)"/><rect x="376" y="274.62" width="1" height="98.3" fill="url(#cm5)" transform="translate(0,-23.32)"/><rect x="377" y="274.36" width="1" height="98.3" fill="url(#cm5)" transform="translate(0,-23.06)"/><rect x="378" y="274.08" width="1" height="98.3" fill="url(#cm5)" transform="translate(0,-22.78)"/><rect x="379" y="273.74" width="1" height="98.3" fill="url(#cm5)" transform="translate(0,-22.44)"/><rect x="380" y="273.34" width="1" height="98.3" fill="url(#cm5)" transform="translate(0,-22.04)"/><rect x="381" y="272.91" width="1" height="98.3" fill="url(#cm5)" transform="translate(0,-21.61)"/><rect x="382" y="272.44" width="1" height="98.3" fill="url(#cm5)" transform="translate(0,-21.14)"/><rect x="383" y="271.95" width="1" height="98.3" fill="url(#cm5)" transform="translate(0,-20.65)"/><rect x="384" y="271.44" width="1" height="98.3" fill="url(#cm5)" transform="translate(0,-20.14)"/><rect x="385" y="270.93" width="1" height="98.3" fill="url(#cm5)" transform="translate(0,-19.63)"/><rect x="386" y="270.41" width="1" height="98.3" fill="url(#cm5)" transform="translate(0,-19.11)"/><rect x="387" y="269.91" width="1" height="98.3" fill="url(#cm5)" transform="translate(0,-18.61)"/><rect x="388" y="269.42" width="1" height="98.3" fill="url(#cm5)" transform="translate(0,-18.12)"/><rect x="389" y="268.95" width="1" height="98.3" fill="url(#cm5)" transform="translate(0,-17.65)"/><rect x="390" y="268.49" width="1" height="98.3" fill="url(#cm5)" transform="translate(0,-17.19)"/><rect x="391" y="268.02" width="1" height="98.3" fill="url(#cm5)" transform="translate(0,-16.72)"/><rect x="392" y="267.56" width="1" height="98.3" fill="url(#cm5)" transform="translate(0,-16.26)"/><rect x="393" y="267.09" width="1" height="98.3" fill="url(#cm5)" transform="translate(0,-15.79)"/><rect x="394" y="266.62" width="1" height="98.3" fill="url(#cm5)" transform="translate(0,-15.32)"/><rect x="395" y="266.14" width="1" height="98.3" fill="url(#cm5)" transform="translate(0,-14.84)"/><rect x="396" y="265.64" width="1" height="98.3" fill="url(#cm5)" transform="translate(0,-14.34)"/><rect x="397" y="265.13" width="1" height="98.3" fill="url(#cm5)" transform="translate(0,-13.83)"/><rect x="398" y="264.6" width="1" height="98.3" fill="url(#cm5)" transform="translate(0,-13.3)"/><rect x="399" y="264.05" width="1" height="98.3" fill="url(#cm5)" transform="translate(0,-12.75)"/><rect x="400" y="263.48" width="1" height="98.3" fill="url(#cm5)" transform="translate(0,-12.18)"/><rect x="401" y="262.87" width="1" height="98.3" fill="url(#cm5)" transform="translate(0,-11.57)"/><rect x="402" y="262.2" width="1" height="98.3" fill="url(#cm5)" transform="translate(0,-10.9)"/><rect x="403" y="261.49" width="1" height="98.3" fill="url(#cm5)" transform="translate(0,-10.19)"/><rect x="404" y="260.75" width="1" height="98.3" fill="url(#cm5)" transform="translate(0,-9.45)"/><rect x="405" y="259.98" width="1" height="98.3" fill="url(#cm5)" transform="translate(0,-8.68)"/><rect x="406" y="259.19" width="1" height="98.3" fill="url(#cm5)" transform="translate(0,-7.89)"/><rect x="407" y="258.4" width="1" height="98.3" fill="url(#cm5)" transform="translate(0,-7.1)"/><rect x="408" y="257.62" width="1" height="98.3" fill="url(#cm5)" transform="translate(0,-6.32)"/><rect x="409" y="256.85" width="1" height="98.3" fill="url(#cm5)" transform="translate(0,-5.55)"/><rect x="410" y="256.11" width="1" height="98.3" fill="url(#cm5)" transform="translate(0,-4.81)"/><rect x="411" y="255.39" width="1" height="98.3" fill="url(#cm5)" transform="translate(0,-4.09)"/><rect x="412" y="254.68" width="1" height="98.3" fill="url(#cm5)" transform="translate(0,-3.38)"/><rect x="413" y="253.97" width="1" height="98.3" fill="url(#cm5)" transform="translate(0,-2.67)"/><rect x="414" y="253.26" width="1" height="98.3" fill="url(#cm5)" transform="translate(0,-1.96)"/><rect x="415" y="252.56" width="1" height="98.3" fill="url(#cm5)" transform="translate(0,-1.26)"/><rect x="416" y="251.85" width="1" height="98.3" fill="url(#cm5)" transform="translate(0,-0.55)"/><rect x="417" y="251.16" width="1" height="98.3" fill="url(#cm5)" transform="translate(0,0.14)"/><rect x="418" y="250.46" width="1" height="98.3" fill="url(#cm5)" transform="translate(0,0.84)"/><rect x="419" y="249.77" width="1" height="98.3" fill="url(#cm5)" transform="translate(0,1.53)"/><rect x="420" y="249.08" width="1" height="98.3" fill="url(#cm5)" transform="translate(0,2.22)"/><rect x="421" y="248.4" width="1" height="98.3" fill="url(#cm5)" transform="translate(0,2.9)"/><rect x="422" y="247.72" width="1" height="98.3" fill="url(#cm5)" transform="translate(0,3.58)"/><rect x="423" y="247.04" width="1" height="98.3" fill="url(#cm5)" transform="translate(0,4.26)"/><rect x="424" y="246.37" width="1" height="98.3" fill="url(#cm5)" transform="translate(0,4.93)"/><rect x="425" y="245.71" width="1" height="98.3" fill="url(#cm5)" transform="translate(0,5.59)"/><rect x="426" y="245.04" width="1" height="98.3" fill="url(#cm5)" transform="translate(0,6.26)"/><rect x="427" y="244.38" width="1" height="98.3" fill="url(#cm5)" transform="translate(0,6.92)"/><rect x="428" y="243.73" width="1" height="98.3" fill="url(#cm5)" transform="translate(0,7.57)"/></g></g>
<rect x="311.4" y="346.6" width="117.1" height="3" fill="#f6f9ff"/>
<rect x="311.4" y="345.4" width="24.6" height="1.3" fill="#5c98f0"/>
<rect x="393" y="345.4" width="35.5" height="1.3" fill="#5c98f0"/>
<rect x="311.4" y="251.3" width="117.1" height="98.3" fill="none" stroke="#8a8a8a" stroke-width="0.9"/>
<line x1="311.4" y1="337.31" x2="313.4" y2="337.31" stroke="#555" stroke-width="0.8"/>
<line x1="428.5" y1="337.31" x2="426.5" y2="337.31" stroke="#555" stroke-width="0.8"/>
<line x1="311.4" y1="325.03" x2="313.4" y2="325.03" stroke="#555" stroke-width="0.8"/>
<line x1="428.5" y1="325.03" x2="426.5" y2="325.03" stroke="#555" stroke-width="0.8"/>
<line x1="311.4" y1="312.74" x2="313.4" y2="312.74" stroke="#555" stroke-width="0.8"/>
<line x1="428.5" y1="312.74" x2="426.5" y2="312.74" stroke="#555" stroke-width="0.8"/>
<line x1="311.4" y1="300.45" x2="313.4" y2="300.45" stroke="#555" stroke-width="0.8"/>
<line x1="428.5" y1="300.45" x2="426.5" y2="300.45" stroke="#555" stroke-width="0.8"/>
<line x1="311.4" y1="288.16" x2="313.4" y2="288.16" stroke="#555" stroke-width="0.8"/>
<line x1="428.5" y1="288.16" x2="426.5" y2="288.16" stroke="#555" stroke-width="0.8"/>
<line x1="311.4" y1="275.88" x2="313.4" y2="275.88" stroke="#555" stroke-width="0.8"/>
<line x1="428.5" y1="275.88" x2="426.5" y2="275.88" stroke="#555" stroke-width="0.8"/>
<line x1="311.4" y1="263.59" x2="313.4" y2="263.59" stroke="#555" stroke-width="0.8"/>
<line x1="428.5" y1="263.59" x2="426.5" y2="263.59" stroke="#555" stroke-width="0.8"/>
<line x1="337.91" y1="349.6" x2="337.91" y2="347.6" stroke="#555" stroke-width="0.8"/>
<line x1="337.91" y1="251.3" x2="337.91" y2="253.3" stroke="#555" stroke-width="0.8"/>
<line x1="364.42" y1="349.6" x2="364.42" y2="347.6" stroke="#555" stroke-width="0.8"/>
<line x1="364.42" y1="251.3" x2="364.42" y2="253.3" stroke="#555" stroke-width="0.8"/>
<line x1="390.92" y1="349.6" x2="390.92" y2="347.6" stroke="#555" stroke-width="0.8"/>
<line x1="390.92" y1="251.3" x2="390.92" y2="253.3" stroke="#555" stroke-width="0.8"/>
<line x1="417.43" y1="349.6" x2="417.43" y2="347.6" stroke="#555" stroke-width="0.8"/>
<line x1="417.43" y1="251.3" x2="417.43" y2="253.3" stroke="#555" stroke-width="0.8"/>
<text x="318" y="266.7" font-size="8" text-anchor="start" fill="#1a1a1a" ><tspan>a</tspan><tspan dy="3" font-size="5.44">g</tspan><tspan dy="-3">-[BrBPP]</tspan><tspan dy="3" font-size="5.44">2</tspan><tspan dy="-3">[MnBr</tspan><tspan dy="3" font-size="5.44">4</tspan><tspan dy="-3">]</tspan></text>
<text x="311.4" y="364.4" font-size="10.5" text-anchor="middle" fill="#1a1a1a">460</text>
<text x="364.42" y="364.4" font-size="10.5" text-anchor="middle" fill="#1a1a1a">540</text>
<text x="417.43" y="364.4" font-size="10.5" text-anchor="middle" fill="#1a1a1a">620</text>
<text x="41.3" y="221.97" font-size="10.5" text-anchor="end" fill="#1a1a1a">0.2</text>
<text x="41.3" y="197.35" font-size="10.5" text-anchor="end" fill="#1a1a1a">0.4</text>
<text x="41.3" y="172.72" font-size="10.5" text-anchor="end" fill="#1a1a1a">0.6</text>
<text x="41.3" y="148.1" font-size="10.5" text-anchor="end" fill="#1a1a1a">0.8</text>
<text x="41.3" y="329.25" font-size="10.5" text-anchor="end" fill="#1a1a1a">0.2</text>
<text x="41.3" y="304.6" font-size="10.5" text-anchor="end" fill="#1a1a1a">0.4</text>
<text x="41.3" y="279.95" font-size="10.5" text-anchor="end" fill="#1a1a1a">0.6</text>
<text x="41.3" y="255.3" font-size="10.5" text-anchor="end" fill="#1a1a1a">0.8</text>
<rect x="434.5" y="142.5" width="5" height="98.8" fill="url(#cbar)" stroke="#8a8a8a" stroke-width="0.7"/>
<text x="441" y="244.7" font-size="10.5" fill="#1a1a1a">0</text>
<text x="441" y="211.77" font-size="10.5" fill="#1a1a1a">1</text>
<text x="441" y="178.83" font-size="10.5" fill="#1a1a1a">2</text>
<text x="441" y="145.9" font-size="10.5" fill="#1a1a1a">3</text>
<rect x="434.5" y="252.5" width="5" height="98.8" fill="url(#cbar)" stroke="#8a8a8a" stroke-width="0.7"/>
<text x="441" y="354.7" font-size="10.5" fill="#1a1a1a">0</text>
<text x="441" y="321.77" font-size="10.5" fill="#1a1a1a">1</text>
<text x="441" y="288.83" font-size="10.5" fill="#1a1a1a">2</text>
<text x="441" y="255.9" font-size="10.5" fill="#1a1a1a">3</text>
<text transform="translate(20.5,246) rotate(-90)" font-size="11" text-anchor="middle" fill="#1a1a1a">Time (ms)</text>
<text x="237.6" y="383.7" font-size="11.6" text-anchor="middle" fill="#1a1a1a">Wavelength (nm)</text>
<path d="M478.4 101.12 L479.2 101.18 L480 101.02 L480.8 101.1 L481.6 101.26 L482.4 101.26 L483.2 100.95 L484 100.98 L484.8 99.86 L485.6 96.48 L486.4 91.14 L487.2 86.03 L488 80.97 L488.8 76.49 L489.6 73.88 L490.4 71.86 L491.2 69.64 L492 67.8 L492.8 65.54 L493.6 63.4 L494.4 61.36 L495.2 60.53 L496 60.83 L496.8 61.73 L497.6 62.46 L498.4 61.58 L499.2 58.58 L500 55.03 L500.8 52.61 L501.6 53.03 L502.4 55.53 L503.2 58.1 L504 59.82 L504.8 60.53 L505.6 60.82 L506.4 61.19 L507.2 61.54 L508 60.83 L508.8 59.62 L509.6 58.38 L510.4 57.26 L511.2 56.1 L512 54.83 L512.8 53.76 L513.6 53.69 L514.4 55.28 L515.2 57.34 L516 59.35 L516.8 61.3 L517.6 63.08 L518.4 64.58 L519.2 66.29 L520 68.54 L520.8 70.97 L521.6 73.91 L522.4 76.61 L523.2 79.38 L524 81.92 L524.8 84.38 L525.6 86.49 L526.4 87.62 L527.2 88.39 L528 88.79 L528.8 89.41 L529.6 89.84 L530.4 90.19 L531.2 89.88 L532 89.51 L532.8 89.58 L533.6 89.85 L534.4 91.38 L535.2 92.96 L536 94.41 L536.8 95.19 L537.6 95.58 L538.4 95.52 L539.2 95.68 L540 95.89 L540.8 96.03 L541.6 96.17 L542.4 96.34 L543.2 96.67 L544 96.68 L544.8 97.14 L545.6 97.2 L546.4 97.29 L547.2 97.45 L548 97.31 L548.8 97.57 L549.6 97.54 L550.4 97.49 L551.2 97.39 L552 97.54 L552.8 97.5 L553.6 97.46 L554.4 97.57 L555.2 97.45 L556 97.35 L556.8 97.42 L557.6 97.28 L558.4 97.28 L559.2 97.49 L560 97.51 L560.8 97.59 L561.6 97.5 L562.4 97.23 L563.2 96.78 L564 96.64 L564.8 96.51 L565.6 96.15 L566.4 95.73 L567.2 95.41 L568 95.02 L568.8 94.76 L569.6 94.79 L570.4 95.63 L571.2 96.23 L572 96.7 L572.8 97.29 L573.6 97.38 L574.4 97.58 L575.2 97.92 L576 98.02 L576.8 98.08 L577.6 98.13 L578.4 98.41 L579.2 98.66 L580 98.59 L580.8 98.57 L581.6 98.7 L582.4 98.84 L583.2 99.32 L584 99.28 L584.8 99.53 L585.6 99.4 L586.4 99.56 L587.2 99.87 L588 100.08 L588.8 99.99 L589.6 99.98 L590.4 100.35 L591.2 100.13 L592 100.32 L592.8 100.09 L593.6 100.31 L594.4 100.38 L595.2 100.34 L596 100.2 L596.8 100.36 L597.6 100.13 L598.4 100.21 L599.2 100.26 L600 100.45 L600.8 100.17 L601.6 100.46 L602.4 100.44 L603.2 100.51 L604 100.28 L604.8 100.22 L605.6 100.25 L606.4 100.49 L607.2 100.55 L608 100.45 L608.8 100.37 L609.6 100.3 L610.4 100.53 L611.2 100.55 L612 100.25 L612.8 100.3 L613.6 100.56 L614.4 100.57 L615.2 100.36 L616 100.36 L616.8 100.43 L617.6 100.48 L618.4 100.31 L619.2 100.61 L620 100.5 L620.8 100.6 L621.6 100.39 L622.4 100.69 L623.2 100.61 L624 100.46 L624.8 100.71 L625.6 100.62 L626.4 100.68 L627.2 100.37 L628 100.38 L628.8 100.66 L629.6 100.5 L630.4 100.59 L631.2 100.45 L632 100.79 L632.8 100.6 L633.6 100.74 L634.4 100.45 L635.2 100.62 L636 100.46 L636.8 100.79 L637.6 100.63 L638.4 100.48 L639.2 100.49 L640 100.69 L640.8 100.51 L641.6 100.56 L642.4 100.67 L643.2 100.7 L644 100.74 L644.8 100.76 L645.6 100.67 L646.4 100.78 L647.2 100.6 L648 100.66 L648.8 100.87 L649.6 100.62 L650.4 100.66 L651.2 100.67 L652 100.77 L652.8 100.59 L653.6 100.61 L654.4 100.79 L655.2 100.68 L656 100.89 L656.8 100.95 L657.6 100.87 L658.4 100.92 L659.2 100.81 L660 100.68 L660.8 100.84 L661.6 100.82 L662.4 100.92 L663.2 100.74 L664 100.79 L664.8 101.03 L665.6 100.82 L666.4 100.88 L667.2 101.1 L668 100.84 L668.8 100.8 L669.6 101.03 L670.4 100.98 L671.2 101.01 L672 100.79 L672.8 100.94 L673.6 100.79 L674.4 100.89 L675.2 101.08" fill="none" stroke="#62b062" stroke-width="1.2" stroke-linejoin="round" />
<path d="M478.4 93.99 L479.2 94.16 L480 94.64 L480.8 94.63 L481.6 94.29 L482.4 94.46 L483.2 94.39 L484 94.28 L484.8 92.78 L485.6 86.4 L486.4 77.73 L487.2 66.86 L488 58.64 L488.8 53.42 L489.6 50.14 L490.4 47.91 L491.2 46.58 L492 46.18 L492.8 45.12 L493.6 44.94 L494.4 44.92 L495.2 44.76 L496 44.08 L496.8 43.9 L497.6 44.17 L498.4 43.58 L499.2 43.24 L500 43.71 L500.8 43.67 L501.6 44.12 L502.4 44.16 L503.2 44.4 L504 44.56 L504.8 44.81 L505.6 45.82 L506.4 46.42 L507.2 47.3 L508 48.18 L508.8 48.53 L509.6 49.79 L510.4 50.65 L511.2 51.5 L512 52.75 L512.8 53.63 L513.6 55.28 L514.4 56.07 L515.2 57.52 L516 58.49 L516.8 59.93 L517.6 62.12 L518.4 64 L519.2 66.09 L520 68.04 L520.8 69.78 L521.6 70.49 L522.4 72.12 L523.2 73.33 L524 74.57 L524.8 75.49 L525.6 76.34 L526.4 77.36 L527.2 77.87 L528 78.72 L528.8 79.63 L529.6 80.01 L530.4 81.02 L531.2 81.49 L532 82.18 L532.8 82.75 L533.6 83.55 L534.4 84.22 L535.2 85.09 L536 85.79 L536.8 86.62 L537.6 87.05 L538.4 87.91 L539.2 87.98 L540 88.54 L540.8 88.7 L541.6 89.05 L542.4 89.11 L543.2 89.88 L544 90.06 L544.8 89.92 L545.6 90.5 L546.4 91.1 L547.2 90.64 L548 90.88 L548.8 91.21 L549.6 90.74 L550.4 91.25 L551.2 91.14 L552 91.27 L552.8 91.16 L553.6 91.45 L554.4 91.06 L555.2 91.23 L556 90.86 L556.8 91.16 L557.6 90.99 L558.4 91.3 L559.2 91.2 L560 90.55 L560.8 90.41 L561.6 90.38 L562.4 90.35 L563.2 90.65 L564 90.49 L564.8 90.57 L565.6 90.68 L566.4 90.52 L567.2 90.95 L568 91.54 L568.8 91.58 L569.6 91.56 L570.4 91.46 L571.2 92.13 L572 91.93 L572.8 92.16 L573.6 91.95 L574.4 92.11 L575.2 92.2 L576 92.32 L576.8 92.13 L577.6 92.66 L578.4 92.39 L579.2 92.77 L580 92.86 L580.8 93 L581.6 92.79 L582.4 92.87 L583.2 93.25 L584 93.02 L584.8 92.87 L585.6 93.4 L586.4 92.78 L587.2 93.4 L588 92.99 L588.8 93.06 L589.6 93.48 L590.4 93.11 L591.2 93.31 L592 93.1 L592.8 93.46 L593.6 93.33 L594.4 93.17 L595.2 92.9 L596 93.1 L596.8 93.2 L597.6 93.06 L598.4 93.24 L599.2 93.02 L600 93.22 L600.8 93.25 L601.6 93.36 L602.4 93.42 L603.2 93.41 L604 93.2 L604.8 93.23 L605.6 93.53 L606.4 93.18 L607.2 93.45 L608 93.63 L608.8 93.59 L609.6 93.33 L610.4 93.17 L611.2 93.4 L612 93.45 L612.8 93.34 L613.6 93.22 L614.4 93.31 L615.2 93.05 L616 93.2 L616.8 93.11 L617.6 93.48 L618.4 93.69 L619.2 93.13 L620 93.05 L620.8 93.55 L621.6 93.29 L622.4 93.4 L623.2 93.1 L624 93.18 L624.8 93.55 L625.6 93.5 L626.4 93.68 L627.2 93.76 L628 93.34 L628.8 93.53 L629.6 93.42 L630.4 93.46 L631.2 93.39 L632 93.81 L632.8 93.56 L633.6 93.23 L634.4 93.63 L635.2 93.82 L636 93.78 L636.8 93.55 L637.6 93.17 L638.4 93.73 L639.2 93.83 L640 93.7 L640.8 93.49 L641.6 93.46 L642.4 93.72 L643.2 93.28 L644 93.76 L644.8 93.57 L645.6 93.27 L646.4 93.81 L647.2 93.51 L648 93.32 L648.8 93.37 L649.6 93.86 L650.4 93.38 L651.2 93.82 L652 93.84 L652.8 93.34 L653.6 93.59 L654.4 93.84 L655.2 93.64 L656 93.91 L656.8 93.58 L657.6 93.76 L658.4 93.47 L659.2 93.92 L660 93.92 L660.8 93.74 L661.6 93.57 L662.4 93.6 L663.2 93.77 L664 93.45 L664.8 93.73 L665.6 93.58 L666.4 93.62 L667.2 93.61 L668 93.98 L668.8 93.52 L669.6 93.57 L670.4 93.53 L671.2 93.43 L672 93.72 L672.8 94.02 L673.6 94.07 L674.4 93.79 L675.2 93.74" fill="none" stroke="#c8b850" stroke-width="1.2" stroke-linejoin="round" />
<path d="M478.4 138.11 L479.2 138.01 L480 138.01 L480.8 138.04 L481.6 137.87 L482.4 138.1 L483.2 137.39 L484 135.65 L484.8 129.93 L485.6 118.62 L486.4 106.92 L487.2 99.1 L488 94.66 L488.8 92.53 L489.6 91.81 L490.4 92.89 L491.2 94.64 L492 97.09 L492.8 99.21 L493.6 100.91 L494.4 102.35 L495.2 102.64 L496 102.15 L496.8 101.85 L497.6 101.43 L498.4 100.93 L499.2 100.21 L500 99.49 L500.8 98.85 L501.6 97.73 L502.4 95.84 L503.2 93.2 L504 90.44 L504.8 88.71 L505.6 90.01 L506.4 92.56 L507.2 94.84 L508 95.8 L508.8 95.96 L509.6 96.17 L510.4 96.43 L511.2 96.95 L512 98.24 L512.8 100.03 L513.6 101.95 L514.4 104.02 L515.2 105.94 L516 106.93 L516.8 106.27 L517.6 104.56 L518.4 102.63 L519.2 101.02 L520 100.95 L520.8 103.06 L521.6 106.48 L522.4 109.83 L523.2 114.82 L524 120.35 L524.8 125.19 L525.6 126.93 L526.4 127.74 L527.2 128.19 L528 129 L528.8 129.41 L529.6 129.59 L530.4 129.42 L531.2 129.28 L532 129.61 L532.8 130.34 L533.6 130.76 L534.4 131.24 L535.2 131.25 L536 131.11 L536.8 131.09 L537.6 131.9 L538.4 132.72 L539.2 133.98 L540 134.82 L540.8 135.28 L541.6 135.66 L542.4 135.48 L543.2 135.74 L544 135.72 L544.8 135.85 L545.6 135.87 L546.4 135.79 L547.2 135.76 L548 135.84 L548.8 135.8 L549.6 136.04 L550.4 135.92 L551.2 135.86 L552 135.48 L552.8 134.99 L553.6 135 L554.4 135.39 L555.2 135.62 L556 135.02 L556.8 134.4 L557.6 134.06 L558.4 134.46 L559.2 134.71 L560 135.18 L560.8 135.04 L561.6 134.42 L562.4 133.62 L563.2 133.11 L564 133 L564.8 133.53 L565.6 134.33 L566.4 135.34 L567.2 136.05 L568 136.56 L568.8 136.48 L569.6 136.13 L570.4 136.06 L571.2 135.67 L572 135.33 L572.8 135.25 L573.6 134.98 L574.4 135.29 L575.2 135.57 L576 135.73 L576.8 135.84 L577.6 135.57 L578.4 135.03 L579.2 134.47 L580 134.09 L580.8 134.43 L581.6 135.26 L582.4 135.59 L583.2 135.22 L584 134.25 L584.8 133.14 L585.6 132.05 L586.4 131.82 L587.2 132.73 L588 134.82 L588.8 136.45 L589.6 137.24 L590.4 137.51 L591.2 137.71 L592 137.67 L592.8 138 L593.6 138.14 L594.4 138.22 L595.2 138.36 L596 138.29 L596.8 138.28 L597.6 138.34 L598.4 138.28 L599.2 138.36 L600 138.46 L600.8 138.31 L601.6 138.48 L602.4 138.36 L603.2 138.27 L604 138.41 L604.8 138.34 L605.6 138.31 L606.4 138.36 L607.2 138.5 L608 138.42 L608.8 138.28 L609.6 138.47 L610.4 138.24 L611.2 138.31 L612 138.29 L612.8 138.47 L613.6 138.18 L614.4 138.37 L615.2 138.32 L616 138.21 L616.8 138.35 L617.6 138.4 L618.4 138.39 L619.2 138.14 L620 138.22 L620.8 137.85 L621.6 137.8 L622.4 137.64 L623.2 137.49 L624 137.7 L624.8 137.66 L625.6 137.64 L626.4 137.7 L627.2 137.66 L628 137.54 L628.8 137.82 L629.6 137.64 L630.4 137.65 L631.2 137.59 L632 137.8 L632.8 137.87 L633.6 137.74 L634.4 137.86 L635.2 137.73 L636 137.75 L636.8 137.74 L637.6 137.75 L638.4 137.84 L639.2 137.78 L640 137.71 L640.8 137.91 L641.6 137.8 L642.4 137.84 L643.2 137.79 L644 137.76 L644.8 137.95 L645.6 137.89 L646.4 138.05 L647.2 137.79 L648 138.04 L648.8 137.81 L649.6 137.87 L650.4 137.83 L651.2 137.99 L652 137.95 L652.8 137.95 L653.6 138.16 L654.4 138.05 L655.2 138.17 L656 138.17 L656.8 138.01 L657.6 138.12 L658.4 137.99 L659.2 138.05 L660 138.16 L660.8 138.13 L661.6 138 L662.4 138.01 L663.2 138.22 L664 138.21 L664.8 138.21 L665.6 138.09 L666.4 138.27 L667.2 138.22 L668 138.1 L668.8 138.12 L669.6 138.26 L670.4 138.38 L671.2 138.27 L672 138.2 L672.8 138.33 L673.6 138.19 L674.4 138.33 L675.2 138.27" fill="none" stroke="#4a90e0" stroke-width="1.2" stroke-linejoin="round" />
<path d="M478.4 132.08 L479.2 132.51 L480 132.51 L480.8 132.87 L481.6 132.69 L482.4 132.32 L483.2 132.63 L484 130.92 L484.8 127.07 L485.6 120.3 L486.4 111.92 L487.2 103.51 L488 97.82 L488.8 92.55 L489.6 88.56 L490.4 85.03 L491.2 83.95 L492 83.36 L492.8 82.77 L493.6 82.27 L494.4 82.87 L495.2 82.43 L496 82.08 L496.8 82.28 L497.6 82.43 L498.4 81.82 L499.2 82.47 L500 82.84 L500.8 83.4 L501.6 82.9 L502.4 83.63 L503.2 84.13 L504 84.46 L504.8 85.26 L505.6 85.9 L506.4 86.86 L507.2 87.89 L508 88.54 L508.8 90.2 L509.6 90.95 L510.4 91.58 L511.2 93.48 L512 94.64 L512.8 95.93 L513.6 96.7 L514.4 98.6 L515.2 99.56 L516 101.22 L516.8 101.82 L517.6 103.18 L518.4 104.16 L519.2 105.28 L520 106.8 L520.8 108.45 L521.6 109.53 L522.4 110.75 L523.2 112.66 L524 113.81 L524.8 115.39 L525.6 116.16 L526.4 117.44 L527.2 119.51 L528 120.09 L528.8 122.02 L529.6 123.16 L530.4 123.59 L531.2 123.97 L532 124.29 L532.8 124.74 L533.6 125.04 L534.4 125.83 L535.2 126.44 L536 126.72 L536.8 127.87 L537.6 128.3 L538.4 127.91 L539.2 128.36 L540 128.79 L540.8 128.7 L541.6 128.67 L542.4 129.29 L543.2 129.18 L544 129.43 L544.8 129.73 L545.6 129.44 L546.4 129.82 L547.2 129.4 L548 129.7 L548.8 129.29 L549.6 129.73 L550.4 129.27 L551.2 129.78 L552 129.02 L552.8 129.46 L553.6 129.53 L554.4 129.5 L555.2 129.14 L556 129.11 L556.8 128.83 L557.6 129.29 L558.4 129.16 L559.2 128.88 L560 128.83 L560.8 129.15 L561.6 128.8 L562.4 128.41 L563.2 128.52 L564 129.23 L564.8 129.12 L565.6 129.27 L566.4 129.27 L567.2 129.01 L568 129.83 L568.8 129.53 L569.6 129.6 L570.4 129.53 L571.2 129.18 L572 129.86 L572.8 129.79 L573.6 128.86 L574.4 128.84 L575.2 129.07 L576 129.54 L576.8 129.04 L577.6 129.38 L578.4 128.81 L579.2 128.9 L580 129.16 L580.8 128.95 L581.6 128.59 L582.4 128.68 L583.2 128.78 L584 128.53 L584.8 128.3 L585.6 128.33 L586.4 128.95 L587.2 128.78 L588 129.12 L588.8 129.57 L589.6 130.51 L590.4 130.7 L591.2 130.28 L592 130.04 L592.8 130.24 L593.6 130.63 L594.4 130.36 L595.2 130.64 L596 130.62 L596.8 130.56 L597.6 130.62 L598.4 130.28 L599.2 129.97 L600 130.52 L600.8 130.71 L601.6 130.41 L602.4 130.03 L603.2 130.64 L604 130.63 L604.8 130.63 L605.6 130.39 L606.4 130.64 L607.2 130 L608 130.31 L608.8 130.68 L609.6 130.68 L610.4 130.5 L611.2 130.31 L612 130.34 L612.8 130.13 L613.6 129.97 L614.4 130.58 L615.2 130.29 L616 130.09 L616.8 130.06 L617.6 129.91 L618.4 129.92 L619.2 130.35 L620 130.01 L620.8 130.03 L621.6 130.5 L622.4 129.82 L623.2 130.58 L624 130.1 L624.8 130.46 L625.6 130.45 L626.4 130.32 L627.2 129.75 L628 130.29 L628.8 130.09 L629.6 129.97 L630.4 130.15 L631.2 130.27 L632 130.02 L632.8 130.03 L633.6 129.85 L634.4 129.8 L635.2 130.21 L636 130.52 L636.8 129.73 L637.6 130.22 L638.4 130.17 L639.2 130.29 L640 129.9 L640.8 129.85 L641.6 129.86 L642.4 130.35 L643.2 130.36 L644 130.32 L644.8 129.84 L645.6 129.92 L646.4 129.84 L647.2 130.19 L648 129.77 L648.8 130.23 L649.6 130.27 L650.4 130.03 L651.2 129.71 L652 129.79 L652.8 130.06 L653.6 130.21 L654.4 129.73 L655.2 130.13 L656 130.37 L656.8 130.21 L657.6 130.35 L658.4 130.41 L659.2 129.8 L660 129.74 L660.8 130.36 L661.6 129.9 L662.4 129.65 L663.2 130.11 L664 129.98 L664.8 129.72 L665.6 130.37 L666.4 129.98 L667.2 130.44 L668 129.8 L668.8 129.6 L669.6 130.37 L670.4 129.82 L671.2 130.38 L672 129.99 L672.8 130.17 L673.6 129.65 L674.4 129.79 L675.2 130.16" fill="none" stroke="#d8505e" stroke-width="1.2" stroke-linejoin="round" />
<path d="M478.4 58.74 L479.2 58.7 L480 58.72 L480.8 58.68 L481.6 58.74 L482.4 58.52 L483.2 58.49 L484 58.52 L484.8 57.54 L485.6 53.88 L486.4 48.12 L487.2 41.56 L488 34.69 L488.8 28.69 L489.6 24.55 L490.4 21.42 L491.2 18.38 L492 16.62 L492.8 16.73 L493.6 18.11 L494.4 19.02 L495.2 19.42 L496 18.86 L496.8 17.99 L497.6 17.35 L498.4 17.39 L499.2 18.05 L500 18.54 L500.8 18.45 L501.6 17.56 L502.4 16.44 L503.2 14.93 L504 13.35 L504.8 11.6 L505.6 9.96 L506.4 8.9 L507.2 8.17 L508 7.73 L508.8 7.53 L509.6 8.07 L510.4 9.29 L511.2 10.36 L512 11.64 L512.8 12.81 L513.6 14.32 L514.4 15.73 L515.2 17.42 L516 18.94 L516.8 20.38 L517.6 22.08 L518.4 23.93 L519.2 25.94 L520 27.84 L520.8 29.72 L521.6 31.79 L522.4 33.76 L523.2 35.86 L524 37.76 L524.8 39.6 L525.6 41.91 L526.4 43.67 L527.2 45.58 L528 47.19 L528.8 48.24 L529.6 49.32 L530.4 50.32 L531.2 51.39 L532 52.23 L532.8 52.8 L533.6 52.9 L534.4 53.05 L535.2 53.3 L536 53.5 L536.8 53.95 L537.6 53.98 L538.4 54.18 L539.2 54.51 L540 54.61 L540.8 54.97 L541.6 55.14 L542.4 55.3 L543.2 55.4 L544 55.43 L544.8 55.5 L545.6 55.63 L546.4 55.48 L547.2 55.58 L548 55.77 L548.8 55.82 L549.6 55.82 L550.4 55.78 L551.2 55.59 L552 55.05 L552.8 54.11 L553.6 53.8 L554.4 54.11 L555.2 54.75 L556 55.35 L556.8 55.9 L557.6 56.01 L558.4 56.01 L559.2 56.08 L560 56.12 L560.8 56.36 L561.6 56.48 L562.4 56.52 L563.2 56.46 L564 56.71 L564.8 56.8 L565.6 56.77 L566.4 56.91 L567.2 56.85 L568 57 L568.8 56.56 L569.6 56.14 L570.4 55.66 L571.2 54.99 L572 54.31 L572.8 53.86 L573.6 53.16 L574.4 52.79 L575.2 52.68 L576 53.22 L576.8 53.87 L577.6 54.34 L578.4 55.01 L579.2 55.66 L580 56.22 L580.8 56.74 L581.6 56.79 L582.4 56.93 L583.2 57.11 L584 57.01 L584.8 57.31 L585.6 57.37 L586.4 57.45 L587.2 57.68 L588 57.82 L588.8 57.89 L589.6 58.01 L590.4 58.1 L591.2 57.96 L592 58.1 L592.8 57.99 L593.6 58.12 L594.4 58.07 L595.2 58.03 L596 58.14 L596.8 58 L597.6 57.91 L598.4 58.01 L599.2 57.96 L600 58.14 L600.8 57.9 L601.6 58.04 L602.4 58.02 L603.2 57.89 L604 58.06 L604.8 58.02 L605.6 57.98 L606.4 58.14 L607.2 57.88 L608 58.04 L608.8 57.94 L609.6 58 L610.4 57.96 L611.2 58.06 L612 58.12 L612.8 57.87 L613.6 57.99 L614.4 58.07 L615.2 57.94 L616 57.95 L616.8 58.13 L617.6 57.88 L618.4 58.03 L619.2 58.06 L620 58.05 L620.8 57.87 L621.6 58.14 L622.4 57.86 L623.2 57.86 L624 58.02 L624.8 57.87 L625.6 57.95 L626.4 58.09 L627.2 58.03 L628 58.05 L628.8 58.16 L629.6 57.93 L630.4 58.2 L631.2 58.11 L632 58.13 L632.8 57.94 L633.6 58.2 L634.4 58.07 L635.2 58.08 L636 58.16 L636.8 58.1 L637.6 58.27 L638.4 58.28 L639.2 58.12 L640 58.09 L640.8 58.15 L641.6 58.34 L642.4 58.14 L643.2 58.21 L644 58.13 L644.8 58.22 L645.6 58.37 L646.4 58.22 L647.2 58.11 L648 58.3 L648.8 58.36 L649.6 58.24 L650.4 58.18 L651.2 58.27 L652 58.4 L652.8 58.32 L653.6 58.19 L654.4 58.41 L655.2 58.29 L656 58.38 L656.8 58.35 L657.6 58.29 L658.4 58.36 L659.2 58.34 L660 58.43 L660.8 58.32 L661.6 58.58 L662.4 58.54 L663.2 58.52 L664 58.39 L664.8 58.61 L665.6 58.62 L666.4 58.38 L667.2 58.43 L668 58.4 L668.8 58.46 L669.6 58.62 L670.4 58.69 L671.2 58.56 L672 58.54 L672.8 58.64 L673.6 58.69 L674.4 58.59 L675.2 58.59" fill="none" stroke="#44b6a6" stroke-width="1.2" stroke-linejoin="round" />
<path d="M478.4 54.21 L479.2 54.25 L480 54.24 L480.8 53.95 L481.6 54.69 L482.4 54.32 L483.2 54.47 L484 54.26 L484.8 53.13 L485.6 47.9 L486.4 41.03 L487.2 32.53 L488 24.03 L488.8 19.04 L489.6 14.78 L490.4 12.37 L491.2 10.46 L492 8.99 L492.8 8.81 L493.6 7.96 L494.4 6.56 L495.2 6.15 L496 4.78 L496.8 4.7 L497.6 4 L498.4 3.43 L499.2 3.37 L500 3.26 L500.8 2.62 L501.6 3.49 L502.4 3.44 L503.2 3.97 L504 4.82 L504.8 5.23 L505.6 5.53 L506.4 6.13 L507.2 6.89 L508 7.39 L508.8 8.04 L509.6 8.95 L510.4 9.13 L511.2 11.07 L512 11.75 L512.8 13.08 L513.6 14.77 L514.4 16.07 L515.2 17.54 L516 19.46 L516.8 20.38 L517.6 22.22 L518.4 23.96 L519.2 26 L520 27.61 L520.8 29.72 L521.6 31.39 L522.4 32.91 L523.2 35.48 L524 36.98 L524.8 38.32 L525.6 39.38 L526.4 41.01 L527.2 41.89 L528 42.51 L528.8 43.88 L529.6 45.51 L530.4 45.78 L531.2 46.25 L532 46.59 L532.8 46.95 L533.6 47.28 L534.4 48.02 L535.2 48.78 L536 49.17 L536.8 49.48 L537.6 49.3 L538.4 49.78 L539.2 49.39 L540 50.19 L540.8 49.9 L541.6 50.37 L542.4 50.15 L543.2 50.44 L544 50.53 L544.8 50.78 L545.6 50.64 L546.4 50.63 L547.2 51.08 L548 51.38 L548.8 51.14 L549.6 51.77 L550.4 51.42 L551.2 51.48 L552 51.57 L552.8 52.17 L553.6 51.65 L554.4 52.03 L555.2 52.03 L556 52.52 L556.8 51.76 L557.6 52.68 L558.4 52.2 L559.2 52.69 L560 52.23 L560.8 52.77 L561.6 52.49 L562.4 52.39 L563.2 52.35 L564 52.31 L564.8 52.93 L565.6 52.48 L566.4 52.31 L567.2 52.72 L568 52.41 L568.8 52.41 L569.6 51.92 L570.4 51.7 L571.2 51.51 L572 51.55 L572.8 51.47 L573.6 51.54 L574.4 51.21 L575.2 51.25 L576 51.25 L576.8 51.64 L577.6 52 L578.4 51.84 L579.2 52.61 L580 52.94 L580.8 52.72 L581.6 52.54 L582.4 53.2 L583.2 52.49 L584 52.61 L584.8 53.19 L585.6 53.28 L586.4 52.95 L587.2 52.75 L588 53.3 L588.8 53.09 L589.6 53.6 L590.4 52.91 L591.2 53.33 L592 53 L592.8 53.7 L593.6 53.73 L594.4 53.38 L595.2 53.47 L596 53.64 L596.8 53.66 L597.6 52.96 L598.4 53.15 L599.2 53.56 L600 53.1 L600.8 53.23 L601.6 53.73 L602.4 53.28 L603.2 53.37 L604 53.05 L604.8 52.98 L605.6 53.66 L606.4 53.54 L607.2 52.97 L608 53.69 L608.8 53.66 L609.6 53.15 L610.4 53.64 L611.2 52.97 L612 53.07 L612.8 53.64 L613.6 53.32 L614.4 53.22 L615.2 53.12 L616 53.05 L616.8 53.01 L617.6 53.26 L618.4 53.3 L619.2 52.93 L620 53.51 L620.8 52.93 L621.6 52.98 L622.4 53.65 L623.2 53.19 L624 52.97 L624.8 53.2 L625.6 53 L626.4 52.96 L627.2 53.73 L628 52.93 L628.8 53.52 L629.6 53.26 L630.4 53.06 L631.2 53.64 L632 53.32 L632.8 52.89 L633.6 53.19 L634.4 53.4 L635.2 53.23 L636 53.12 L636.8 53.15 L637.6 53.12 L638.4 53.28 L639.2 53.75 L640 53.68 L640.8 53.34 L641.6 53.65 L642.4 53 L643.2 53.42 L644 53.58 L644.8 53.09 L645.6 53.35 L646.4 53.32 L647.2 52.95 L648 53.73 L648.8 53.18 L649.6 53.36 L650.4 52.87 L651.2 53.32 L652 53.25 L652.8 53.64 L653.6 52.91 L654.4 53.64 L655.2 53.02 L656 53.61 L656.8 53.54 L657.6 53.39 L658.4 53.17 L659.2 53.26 L660 53.45 L660.8 53.19 L661.6 52.91 L662.4 53.49 L663.2 53.49 L664 53.11 L664.8 53.04 L665.6 53.66 L666.4 53.23 L667.2 53.17 L668 54.17 L668.8 53.88 L669.6 54.31 L670.4 54.7 L671.2 54.72 L672 54.49 L672.8 54.47 L673.6 54.68 L674.4 54.3 L675.2 54.97" fill="none" stroke="#eea57c" stroke-width="1.2" stroke-linejoin="round" />
<rect x="478.4" y="1.2" width="196.8" height="141.8" fill="none" stroke="#8a8a8a" stroke-width="0.9"/>
<line x1="491.7" y1="143" x2="491.7" y2="141" stroke="#555" stroke-width="0.8"/>
<line x1="512" y1="143" x2="512" y2="141" stroke="#555" stroke-width="0.8"/>
<line x1="532.3" y1="143" x2="532.3" y2="141" stroke="#555" stroke-width="0.8"/>
<line x1="552.6" y1="143" x2="552.6" y2="141" stroke="#555" stroke-width="0.8"/>
<line x1="572.9" y1="143" x2="572.9" y2="141" stroke="#555" stroke-width="0.8"/>
<line x1="593.2" y1="143" x2="593.2" y2="141" stroke="#555" stroke-width="0.8"/>
<line x1="613.5" y1="143" x2="613.5" y2="141" stroke="#555" stroke-width="0.8"/>
<line x1="633.8" y1="143" x2="633.8" y2="141" stroke="#555" stroke-width="0.8"/>
<line x1="654.1" y1="143" x2="654.1" y2="141" stroke="#555" stroke-width="0.8"/>
<text x="512" y="155.5" font-size="10" text-anchor="middle" fill="#1a1a1a">100</text>
<text x="552.6" y="155.5" font-size="10" text-anchor="middle" fill="#1a1a1a">200</text>
<text x="593.2" y="155.5" font-size="10" text-anchor="middle" fill="#1a1a1a">300</text>
<text x="633.8" y="155.5" font-size="10" text-anchor="middle" fill="#1a1a1a">400</text>
<text x="674.4" y="155.5" font-size="10" text-anchor="middle" fill="#1a1a1a">500</text>
<text transform="translate(461.7,71.8) rotate(-90)" font-size="11.6" text-anchor="middle" fill="#1a1a1a">Intensity (arb. units)</text>
<text x="530.9" y="168.4" font-size="11.45" text-anchor="start" fill="#222" ><tspan>Raman shift (cm</tspan><tspan dy="-4.35" font-size="7.1">-1</tspan><tspan dy="4.35">)</tspan></text>
<line x1="566.4" y1="21.5" x2="581.2" y2="21.5" stroke="#44b6a6" stroke-width="1.2"/>
<text x="584.8" y="24.9" font-size="10" text-anchor="start" fill="#222" ><tspan>[BuTPP]</tspan><tspan dy="3.4" font-size="6.8">2</tspan><tspan dy="-3.4">[MnBr</tspan><tspan dy="3.4" font-size="6.8">4</tspan><tspan dy="-3.4">]</tspan></text>
<line x1="566.4" y1="34.5" x2="581.2" y2="34.5" stroke="#eea57c" stroke-width="1.2"/>
<text x="584.8" y="37.9" font-size="10" text-anchor="start" fill="#222" ><tspan>a</tspan><tspan dy="3.4" font-size="6.8">g</tspan><tspan dy="-3.4">-[BuTPP]</tspan><tspan dy="3.4" font-size="6.8">2</tspan><tspan dy="-3.4">[MnBr</tspan><tspan dy="3.4" font-size="6.8">4</tspan><tspan dy="-3.4">]</tspan></text>
<line x1="566.4" y1="66.5" x2="581.2" y2="66.5" stroke="#62b062" stroke-width="1.2"/>
<text x="584.8" y="69.5" font-size="10" text-anchor="start" fill="#222" ><tspan>[BPP]</tspan><tspan dy="3.4" font-size="6.8">2</tspan><tspan dy="-3.4">[MnBr</tspan><tspan dy="3.4" font-size="6.8">4</tspan><tspan dy="-3.4">]</tspan></text>
<line x1="566.4" y1="79.5" x2="581.2" y2="79.5" stroke="#c8b850" stroke-width="1.2"/>
<text x="584.8" y="82.9" font-size="10" text-anchor="start" fill="#222" ><tspan>a</tspan><tspan dy="3.4" font-size="6.8">g</tspan><tspan dy="-3.4">-[BPP]</tspan><tspan dy="3.4" font-size="6.8">2</tspan><tspan dy="-3.4">[MnBr</tspan><tspan dy="3.4" font-size="6.8">4</tspan><tspan dy="-3.4">]</tspan></text>
<line x1="566.4" y1="105.5" x2="581.2" y2="105.5" stroke="#4a90e0" stroke-width="1.2"/>
<text x="584.8" y="109" font-size="10" text-anchor="start" fill="#222" ><tspan>[BrBPP]</tspan><tspan dy="3.4" font-size="6.8">2</tspan><tspan dy="-3.4">[MnBr</tspan><tspan dy="3.4" font-size="6.8">4</tspan><tspan dy="-3.4">]</tspan></text>
<line x1="566.4" y1="119.5" x2="581.2" y2="119.5" stroke="#d8505e" stroke-width="1.2"/>
<text x="584.8" y="122.7" font-size="10" text-anchor="start" fill="#222" ><tspan>a</tspan><tspan dy="3.4" font-size="6.8">g</tspan><tspan dy="-3.4">-[BrBPP]</tspan><tspan dy="3.4" font-size="6.8">2</tspan><tspan dy="-3.4">[MnBr</tspan><tspan dy="3.4" font-size="6.8">4</tspan><tspan dy="-3.4">]</tspan></text>
<defs><linearGradient id="tg" x1="0.2" y1="0" x2="0.8" y2="1"><stop offset="0" stop-color="#5c9ad2"/><stop offset="0.55" stop-color="#2f70aa"/><stop offset="1" stop-color="#1c5288"/></linearGradient><radialGradient id="cg" cx="0.38" cy="0.35" r="0.7"><stop offset="0" stop-color="#f08a60"/><stop offset="0.45" stop-color="#c8401e"/><stop offset="1" stop-color="#8a2510"/></radialGradient><radialGradient id="eg" cx="0.62" cy="0.32" r="0.8"><stop offset="0" stop-color="#f2f7fb"/><stop offset="0.45" stop-color="#d4e3ee"/><stop offset="1" stop-color="#b2c8da"/></radialGradient><radialGradient id="eg2" cx="0.5" cy="0.45" r="0.65"><stop offset="0" stop-color="#f4f4f8"/><stop offset="0.7" stop-color="#e6e8f2"/><stop offset="1" stop-color="#d0d6ee"/></radialGradient><radialGradient id="pk"><stop offset="0" stop-color="#f0a0b0" stop-opacity="0.75"/><stop offset="1" stop-color="#f0b0c0" stop-opacity="0"/></radialGradient></defs>
<line x1="476.4" y1="176.3" x2="675.3" y2="176.3" stroke="#666" stroke-width="1"/>
<line x1="675.3" y1="176.3" x2="675.3" y2="335.8" stroke="#8a8a8a" stroke-width="1"/>
<line x1="476.4" y1="176.3" x2="476.4" y2="335.8" stroke="#a0a0a0" stroke-width="1.1"/>
<line x1="476.4" y1="335.8" x2="675.3" y2="335.8" stroke="#a0a0a0" stroke-width="1.1"/>
<line x1="474.2" y1="335.3" x2="476.4" y2="335.3" stroke="#777" stroke-width="0.8"/>
<line x1="474.2" y1="308.8" x2="476.4" y2="308.8" stroke="#777" stroke-width="0.8"/>
<line x1="474.2" y1="282.3" x2="476.4" y2="282.3" stroke="#777" stroke-width="0.8"/>
<line x1="474.2" y1="255.8" x2="476.4" y2="255.8" stroke="#777" stroke-width="0.8"/>
<line x1="474.2" y1="229.3" x2="476.4" y2="229.3" stroke="#777" stroke-width="0.8"/>
<line x1="474.2" y1="202.8" x2="476.4" y2="202.8" stroke="#777" stroke-width="0.8"/>
<line x1="474.2" y1="176.3" x2="476.4" y2="176.3" stroke="#777" stroke-width="0.8"/>
<text x="469.5" y="340.9" font-size="10.5" text-anchor="end" fill="#1a1a1a">0.6</text>
<text x="469.5" y="287.9" font-size="10.5" text-anchor="end" fill="#1a1a1a">0.7</text>
<text x="469.5" y="234.9" font-size="10.5" text-anchor="end" fill="#1a1a1a">0.8</text>
<text x="469.5" y="181.9" font-size="10.5" text-anchor="end" fill="#1a1a1a">0.9</text>
<line x1="496.3" y1="335.8" x2="496.3" y2="338.6" stroke="#777" stroke-width="0.8"/>
<line x1="516.17" y1="335.8" x2="516.17" y2="338.6" stroke="#777" stroke-width="0.8"/>
<line x1="536.04" y1="335.8" x2="536.04" y2="338.6" stroke="#777" stroke-width="0.8"/>
<line x1="555.91" y1="335.8" x2="555.91" y2="338.6" stroke="#777" stroke-width="0.8"/>
<line x1="575.78" y1="335.8" x2="575.78" y2="338.6" stroke="#777" stroke-width="0.8"/>
<line x1="595.65" y1="335.8" x2="595.65" y2="338.6" stroke="#777" stroke-width="0.8"/>
<line x1="615.52" y1="335.8" x2="615.52" y2="338.6" stroke="#777" stroke-width="0.8"/>
<line x1="635.39" y1="335.8" x2="635.39" y2="338.6" stroke="#777" stroke-width="0.8"/>
<line x1="655.26" y1="335.8" x2="655.26" y2="338.6" stroke="#777" stroke-width="0.8"/>
<path d="M496.3 276.2 L516.17 294.2 L536.04 232.2 L555.91 193.2 L575.78 201.7 L595.65 272.4 L615.52 280.6 L635.39 274.1 L655.26 309.6" fill="none" stroke="#4a8ad0" stroke-width="0.8" stroke-linejoin="round" stroke-dasharray="1.6 1.4"/>
<path d="M496.3 263.9 L516.17 278.7 L536.04 261.8 L555.91 239.8 L575.78 223.6 L595.65 273.9 L615.52 272.3 L635.39 277.5 L655.26 291.8" fill="none" stroke="#e86a48" stroke-width="0.8" stroke-linejoin="round" stroke-dasharray="1.6 1.4"/>
<path d="M496.3 271.1 L501.55 279.9 L491.05 279.9 Z" fill="url(#tg)"/>
<path d="M516.17 289.1 L521.42 297.9 L510.92 297.9 Z" fill="url(#tg)"/>
<path d="M536.04 227.1 L541.29 235.9 L530.79 235.9 Z" fill="url(#tg)"/>
<path d="M555.91 188.1 L561.16 196.9 L550.66 196.9 Z" fill="url(#tg)"/>
<path d="M575.78 196.6 L581.03 205.4 L570.53 205.4 Z" fill="url(#tg)"/>
<path d="M595.65 267.3 L600.9 276.1 L590.4 276.1 Z" fill="url(#tg)"/>
<path d="M615.52 275.5 L620.77 284.3 L610.27 284.3 Z" fill="url(#tg)"/>
<path d="M635.39 269 L640.64 277.8 L630.14 277.8 Z" fill="url(#tg)"/>
<path d="M655.26 304.5 L660.51 313.3 L650.01 313.3 Z" fill="url(#tg)"/>
<circle cx="496.3" cy="263.9" r="3.9" fill="url(#cg)"/>
<circle cx="516.17" cy="278.7" r="3.9" fill="url(#cg)"/>
<circle cx="536.04" cy="261.8" r="3.9" fill="url(#cg)"/>
<circle cx="555.91" cy="239.8" r="3.9" fill="url(#cg)"/>
<circle cx="575.78" cy="223.6" r="3.9" fill="url(#cg)"/>
<circle cx="595.65" cy="273.9" r="3.9" fill="url(#cg)"/>
<circle cx="615.52" cy="272.3" r="3.9" fill="url(#cg)"/>
<circle cx="635.39" cy="277.5" r="3.9" fill="url(#cg)"/>
<circle cx="655.26" cy="291.8" r="3.9" fill="url(#cg)"/>
<line x1="591.7" y1="193.4" x2="609.6" y2="193.4" stroke="#4a8ad0" stroke-width="0.9"/>
<path d="M600.7 188.36 L605.45 196.36 L595.95 196.36 Z" fill="url(#tg)"/>
<line x1="591.7" y1="211" x2="609.6" y2="211" stroke="#eea080" stroke-width="0.9"/>
<circle cx="600.7" cy="211" r="3.6" fill="url(#cg)"/>
<text x="613.0" y="195.8" font-size="11.5" fill="#1a1a1a"><tspan font-size="14">τ</tspan><tspan dy="4.2" font-size="7.8">glass</tspan><tspan dy="-4.2">/</tspan><tspan font-size="14">τ</tspan><tspan dy="4.2" font-size="7.8">crystal</tspan></text>
<text x="613.2" y="215.8" font-size="13.5" fill="#1a1a1a">T<tspan dy="4" font-size="9">g</tspan><tspan dy="-4">/T</tspan><tspan dy="4" font-size="9">m</tspan></text>
<circle cx="498.5" cy="306.8" r="15.1" fill="#fff" stroke="#333" stroke-width="0.85"/><line x1="504.8" y1="295.4" x2="492.2" y2="318.2" stroke="#444" stroke-width="0.8"/><ellipse cx="497.5" cy="307.4" rx="12.3" ry="3.6" transform="rotate(31 497.5 307.4)" fill="none" stroke="#2a2a2a" stroke-width="1.1"/><ellipse cx="498.9" cy="306" rx="7.2" ry="9.2" transform="rotate(29 498.9 306)" fill="url(#eg)"/><path d="M486.96 301.07 A12.3 3.6 31 0 0 508.04 313.73" transform="" fill="none" stroke="#2a2a2a" stroke-width="1.1"/><path d="M494.3 301.2 L491.42 301.91 L492.16 299.15 Z" fill="#1a1a1a"/><path d="M507.1 310 L504.87 308.05 L507.55 307.07 Z" fill="#1a1a1a"/>
<circle cx="567.8" cy="260.5" r="15.1" fill="#fff" stroke="#333" stroke-width="0.85"/><ellipse cx="0" cy="0" rx="12.6" ry="3.7" transform="translate(567.8 260.5) rotate(45)" fill="none" stroke="#2a2a2a" stroke-width="1"/><ellipse cx="0" cy="0" rx="12.6" ry="3.7" transform="translate(567.8 260.5) rotate(-45)" fill="none" stroke="#2a2a2a" stroke-width="1"/><circle cx="567.8" cy="260.7" r="7.4" fill="url(#eg)"/><path d="M-12.6 0 A12.6 3.7 0 0 0 12.6 0" transform="translate(567.8 260.5) rotate(45)" fill="none" stroke="#2a2a2a" stroke-width="1"/><path d="M-12.6 0 A12.6 3.7 0 0 0 12.6 0" transform="translate(567.8 260.5) rotate(-45)" fill="none" stroke="#2a2a2a" stroke-width="1"/><path d="M563.5 253.5 L560.55 253.18 L562.19 250.84 Z" fill="#1a1a1a"/><path d="M572.1 253.5 L573.41 250.84 L575.05 253.18 Z" fill="#1a1a1a"/><path d="M559.4 263.7 L560.36 266.51 L557.54 266.01 Z" fill="#1a1a1a"/><path d="M576.2 263.7 L578.06 266.01 L575.24 266.51 Z" fill="#1a1a1a"/>
<circle cx="632.1" cy="318.4" r="15.1" fill="#fff" stroke="#333" stroke-width="0.85"/><line x1="638.5" y1="306.2" x2="626.2" y2="329.9" stroke="#444" stroke-width="0.8"/><ellipse cx="633" cy="318" rx="6.6" ry="9.4" transform="rotate(24 633 318)" fill="url(#eg2)" stroke="#c4ccee" stroke-width="0.5"/><ellipse cx="628.7" cy="321.8" rx="3.6" ry="3.4" fill="url(#pk)"/><path d="M629.1 317.4 q1.5 -1.2 2.8 0.6 q1.5 1.5 3 0.8 q1 -0.3 1.3 0.8" fill="none" stroke="#1a1a1a" stroke-width="1.05"/>
<text x="0" y="0" font-size="8.8" text-anchor="end" fill="#222" transform="translate(499.3,345.5) rotate(-42)"><tspan>[MeTPP]</tspan><tspan dy="2.99" font-size="5.98">2</tspan><tspan dy="-2.99">[MnBr</tspan><tspan dy="2.99" font-size="5.98">4</tspan><tspan dy="-2.99">]</tspan></text>
<text x="0" y="0" font-size="8.8" text-anchor="end" fill="#222" transform="translate(519.17,345.5) rotate(-42)"><tspan>[EtTPP]</tspan><tspan dy="2.99" font-size="5.98">2</tspan><tspan dy="-2.99">[MnBr</tspan><tspan dy="2.99" font-size="5.98">4</tspan><tspan dy="-2.99">]</tspan></text>
<text x="0" y="0" font-size="8.8" text-anchor="end" fill="#222" transform="translate(539.04,345.5) rotate(-42)"><tspan>[PrTPP]</tspan><tspan dy="2.99" font-size="5.98">2</tspan><tspan dy="-2.99">[MnBr</tspan><tspan dy="2.99" font-size="5.98">4</tspan><tspan dy="-2.99">]</tspan></text>
<text x="0" y="0" font-size="8.8" text-anchor="end" fill="#222" transform="translate(558.91,345.5) rotate(-42)"><tspan>[BuTPP]</tspan><tspan dy="2.99" font-size="5.98">2</tspan><tspan dy="-2.99">[MnBr</tspan><tspan dy="2.99" font-size="5.98">4</tspan><tspan dy="-2.99">]</tspan></text>
<text x="0" y="0" font-size="8.8" text-anchor="end" fill="#222" transform="translate(578.78,345.5) rotate(-42)"><tspan>[c-PrMeTPP]</tspan><tspan dy="2.99" font-size="5.98">2</tspan><tspan dy="-2.99">[MnBr</tspan><tspan dy="2.99" font-size="5.98">4</tspan><tspan dy="-2.99">]</tspan></text>
<text x="0" y="0" font-size="8.8" text-anchor="end" fill="#222" transform="translate(598.65,345.5) rotate(-42)"><tspan>[BPP]</tspan><tspan dy="2.99" font-size="5.98">2</tspan><tspan dy="-2.99">[MnBr</tspan><tspan dy="2.99" font-size="5.98">4</tspan><tspan dy="-2.99">]</tspan></text>
<text x="0" y="0" font-size="8.8" text-anchor="end" fill="#222" transform="translate(618.52,345.5) rotate(-42)"><tspan>[MeBPP]</tspan><tspan dy="2.99" font-size="5.98">2</tspan><tspan dy="-2.99">[MnBr</tspan><tspan dy="2.99" font-size="5.98">4</tspan><tspan dy="-2.99">]</tspan></text>
<text x="0" y="0" font-size="8.8" text-anchor="end" fill="#222" transform="translate(638.39,345.5) rotate(-42)"><tspan>[FBPP]</tspan><tspan dy="2.99" font-size="5.98">2</tspan><tspan dy="-2.99">[MnBr</tspan><tspan dy="2.99" font-size="5.98">4</tspan><tspan dy="-2.99">]</tspan></text>
<text x="0" y="0" font-size="8.8" text-anchor="end" fill="#222" transform="translate(658.26,345.5) rotate(-42)"><tspan>[BrBPP]</tspan><tspan dy="2.99" font-size="5.98">2</tspan><tspan dy="-2.99">[MnBr</tspan><tspan dy="2.99" font-size="5.98">4</tspan><tspan dy="-2.99">]</tspan></text>
</svg></body></html>
